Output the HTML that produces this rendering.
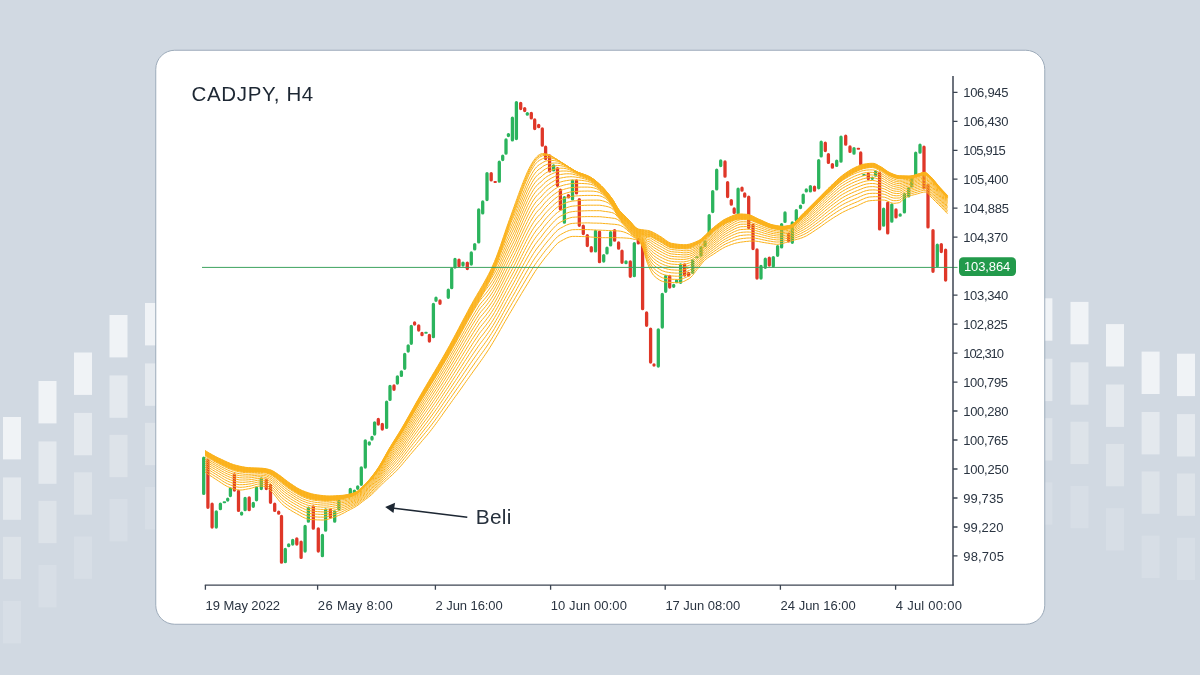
<!DOCTYPE html>
<html><head><meta charset="utf-8"><title>CADJPY H4</title>
<style>
html,body{margin:0;padding:0;}
body{width:1200px;height:675px;overflow:hidden;background:#d1d9e2;font-family:"Liberation Sans",sans-serif;}
svg{display:block;position:absolute;left:0;top:0;will-change:transform;}
text{font-family:"Liberation Sans",sans-serif;fill:#2a3441;}
.yl{font-size:13px;letter-spacing:-0.35px;}
.xl{font-size:13px;letter-spacing:-0.1px;}
.ttl{font-size:20.5px;letter-spacing:0.35px;fill:#1d2733;}
.beli{font-size:20.8px;fill:#26303c;}
.pl{font-size:13px;letter-spacing:-0.35px;fill:#fff;}
</style></head><body>
<svg width="1200" height="675" viewBox="0 0 1200 675">
<rect width="1200" height="675" fill="#d1d9e2"/>
<g><rect x="3" y="417.0" width="18" height="42.4" fill="#fff" fill-opacity="0.68"/><rect x="3" y="477.4" width="18" height="42.4" fill="#fff" fill-opacity="0.42"/><rect x="3" y="536.8" width="18" height="42.4" fill="#fff" fill-opacity="0.26"/><rect x="3" y="601.0" width="18" height="42.4" fill="#fff" fill-opacity="0.14"/><rect x="38.5" y="381.0" width="18" height="42.4" fill="#fff" fill-opacity="0.68"/><rect x="38.5" y="441.4" width="18" height="42.4" fill="#fff" fill-opacity="0.42"/><rect x="38.5" y="500.8" width="18" height="42.4" fill="#fff" fill-opacity="0.26"/><rect x="38.5" y="565.0" width="18" height="42.4" fill="#fff" fill-opacity="0.14"/><rect x="74" y="352.5" width="18" height="42.4" fill="#fff" fill-opacity="0.68"/><rect x="74" y="412.9" width="18" height="42.4" fill="#fff" fill-opacity="0.42"/><rect x="74" y="472.3" width="18" height="42.4" fill="#fff" fill-opacity="0.26"/><rect x="74" y="536.5" width="18" height="42.4" fill="#fff" fill-opacity="0.14"/><rect x="109.5" y="315.0" width="18" height="42.4" fill="#fff" fill-opacity="0.68"/><rect x="109.5" y="375.4" width="18" height="42.4" fill="#fff" fill-opacity="0.42"/><rect x="109.5" y="434.8" width="18" height="42.4" fill="#fff" fill-opacity="0.26"/><rect x="109.5" y="499.0" width="18" height="42.4" fill="#fff" fill-opacity="0.14"/><rect x="145" y="303.0" width="18" height="42.4" fill="#fff" fill-opacity="0.68"/><rect x="145" y="363.4" width="18" height="42.4" fill="#fff" fill-opacity="0.42"/><rect x="145" y="422.8" width="18" height="42.4" fill="#fff" fill-opacity="0.26"/><rect x="145" y="487.0" width="18" height="42.4" fill="#fff" fill-opacity="0.14"/><rect x="1034.4" y="298.3" width="18" height="42.4" fill="#fff" fill-opacity="0.68"/><rect x="1034.4" y="358.7" width="18" height="42.4" fill="#fff" fill-opacity="0.42"/><rect x="1034.4" y="418.1" width="18" height="42.4" fill="#fff" fill-opacity="0.26"/><rect x="1034.4" y="482.3" width="18" height="42.4" fill="#fff" fill-opacity="0.14"/><rect x="1070.5" y="301.9" width="18" height="42.4" fill="#fff" fill-opacity="0.68"/><rect x="1070.5" y="362.3" width="18" height="42.4" fill="#fff" fill-opacity="0.42"/><rect x="1070.5" y="421.7" width="18" height="42.4" fill="#fff" fill-opacity="0.26"/><rect x="1070.5" y="485.9" width="18" height="42.4" fill="#fff" fill-opacity="0.14"/><rect x="1106" y="324.1" width="18" height="42.4" fill="#fff" fill-opacity="0.68"/><rect x="1106" y="384.5" width="18" height="42.4" fill="#fff" fill-opacity="0.42"/><rect x="1106" y="443.9" width="18" height="42.4" fill="#fff" fill-opacity="0.26"/><rect x="1106" y="508.1" width="18" height="42.4" fill="#fff" fill-opacity="0.14"/><rect x="1141.6" y="351.6" width="18" height="42.4" fill="#fff" fill-opacity="0.68"/><rect x="1141.6" y="412.0" width="18" height="42.4" fill="#fff" fill-opacity="0.42"/><rect x="1141.6" y="471.4" width="18" height="42.4" fill="#fff" fill-opacity="0.26"/><rect x="1141.6" y="535.6" width="18" height="42.4" fill="#fff" fill-opacity="0.14"/><rect x="1177" y="353.7" width="18" height="42.4" fill="#fff" fill-opacity="0.68"/><rect x="1177" y="414.1" width="18" height="42.4" fill="#fff" fill-opacity="0.42"/><rect x="1177" y="473.5" width="18" height="42.4" fill="#fff" fill-opacity="0.26"/><rect x="1177" y="537.7" width="18" height="42.4" fill="#fff" fill-opacity="0.14"/></g>
<rect x="155.75" y="50.25" width="889" height="574" rx="19" ry="19" fill="#fff" stroke="#9dabba" stroke-width="1"/>
<text x="191.6" y="101" class="ttl" textLength="122" lengthAdjust="spacing">CADJPY, H4</text>
<g><path d="M203.7 458.2V493.4M216.3 511.8V527.0M220.4 504.2V508.7M227.7 499.2V500.0M230.4 488.8V495.5M241.6 513.2V514.0M245.1 498.5V509.7M253.3 503.5V506.3M256.5 487.9V499.8M261.3 478.8V488.6M285.3 549.5V561.7M288.7 544.8V545.7M292.7 540.5V544.0M305.1 526.5V551.0M308.4 508.2V521.2M322.4 535.5V555.7M325.6 509.9V530.2M334.7 511.8V521.2M338.9 501.0V509.0M350.3 489.5V495.7M354.4 491.1V493.7M357.7 486.8V488.3M361.3 467.8V484.3M365.3 440.8V467.0M369.3 442.8V444.0M372.0 437.5V439.0M374.6 422.8V434.0M386.6 402.2V427.4M390.0 386.5V399.4M397.4 376.8V383.0M401.4 371.8V375.4M404.7 354.5V368.3M408.2 345.8V351.0M411.3 326.5V343.3M433.4 304.5V336.7M436.0 298.2V300.3M448.3 290.2V297.3M451.7 269.2V287.7M455.0 259.5V267.0M463.0 263.1V265.0M471.3 252.9V264.0M474.7 244.6V248.9M478.7 209.9V241.9M482.7 201.9V212.9M487.0 173.6V199.6M499.3 162.2V181.2M502.7 156.2V159.5M506.0 139.9V153.2M508.4 134.6V135.5M512.4 118.2V139.9M516.4 102.6V138.6M527.3 113.6V114.2M553.6 165.9V169.9M564.4 197.6V222.2M572.5 181.2V198.9M595.5 231.4V250.9M603.7 255.6V261.0M607.0 248.2V252.9M610.6 232.6V244.9M626.0 261.8V262.7M634.3 243.6V275.7M658.3 329.8V366.0M662.3 294.5V327.0M665.7 276.5V291.3M673.7 285.5V286.3M676.6 280.8V281.7M680.6 264.8V282.3M692.7 260.8V272.3M701.0 247.6V255.0M705.0 241.8V245.4M709.2 215.6V233.9M712.7 191.6V211.6M716.7 170.2V188.9M720.7 160.9V165.6M738.1 189.2V212.9M761.0 266.5V278.0M765.3 259.2V267.3M773.3 257.6V266.0M777.6 246.6V255.3M781.6 224.6V246.9M785.0 212.9V221.4M792.3 222.9V242.3M796.3 210.6V219.9M800.5 206.2V207.6M803.2 195.1V202.5M806.3 190.0V190.9M810.4 186.6V190.9M818.7 160.6V187.8M821.2 142.2V155.9M836.7 161.2V165.4M841.0 137.2V161.2M854.0 148.6V153.2M872.3 178.1V178.3M875.6 171.9V175.2M883.6 209.2V225.2M891.8 204.8V221.2M900.2 215.0V215.2M904.4 194.6V211.9M908.7 188.6V195.9M911.7 177.2V185.9M915.7 153.2V174.6M920.0 145.2V152.2M937.3 245.2V266.0" stroke="#2bb45d" stroke-width="3.3" stroke-linecap="round" fill="none"/>
<path d="M207.9 460.2V507.3M212.1 504.2V527.0M234.4 474.8V490.0M238.5 491.5V510.4M249.2 497.8V509.7M266.3 480.2V488.6M270.5 485.5V502.3M274.7 504.2V510.4M278.7 512.2V513.2M281.5 516.5V562.2M296.8 538.8V544.0M301.1 542.2V557.4M313.3 506.8V528.2M318.3 528.8V551.0M330.4 510.2V517.0M378.3 419.5V424.0M382.3 424.5V429.0M394.0 385.9V389.3M414.6 322.9V324.0M418.7 325.8V330.0M422.0 333.5V334.7M429.4 335.5V341.0M440.0 300.9V303.3M459.0 260.2V265.7M467.3 263.1V268.6M491.2 173.6V179.9M520.7 103.3V108.6M524.7 108.6V110.6M531.3 113.3V117.9M534.7 119.9V128.6M538.7 125.3V126.7M542.3 128.8V145.2M545.6 147.2V158.6M549.6 155.9V170.9M557.5 168.6V185.3M560.4 190.2V208.9M568.4 195.6V196.9M576.5 180.9V192.9M579.3 199.6V225.3M583.3 226.2V233.6M587.3 235.6V245.6M591.3 247.6V250.9M599.5 232.1V261.7M614.6 230.6V240.2M618.6 242.9V248.2M622.0 251.2V262.3M630.3 261.8V276.3M638.3 239.6V242.9M642.6 243.6V308.7M646.6 312.9V325.3M650.6 329.2V362.0M654.0 364.9V365.1M669.7 276.5V287.0M684.6 264.8V275.0M688.6 273.5V275.0M725.0 162.0V176.2M727.6 182.6V196.6M731.3 200.6V204.2M734.2 208.9V212.4M742.0 188.2V190.2M744.7 194.0V196.2M748.7 197.2V227.4M753.0 225.1V248.6M757.0 249.9V278.0M769.3 258.2V265.0M788.7 234.1V240.9M814.5 187.2V190.2M825.3 143.2V150.6M828.4 154.6V162.4M832.4 164.6V167.2M845.7 136.2V144.2M850.0 146.9V151.4M860.7 153.0V163.9M868.3 173.9V178.6M879.6 173.2V228.9M887.7 203.2V232.9M896.0 209.9V216.9M924.0 147.2V187.9M928.0 185.2V226.9M933.0 230.6V271.3M941.3 244.6V251.5M945.6 250.2V280.0" stroke="#df3728" stroke-width="3.3" stroke-linecap="round" fill="none"/>
<path d="M223.7 502.3h1.4M342.0 497.7h1.4M425.3 332.7h1.4M696.3 257.3h1.4M863.3 175.0h1.4" stroke="#2bb45d" stroke-width="2.1" stroke-linecap="round" fill="none"/>
<path d="M345.6 496.3h1.4M494.5 182.0h1.4M857.7 148.7h1.4" stroke="#df3728" stroke-width="2.1" stroke-linecap="round" fill="none"/>
</g>
<g><path d="M205.0 450.5L206.5 451.4L208.0 452.3L209.5 453.2L211.0 454.0L212.5 454.9L214.0 455.7L215.5 456.5L217.0 457.3L218.5 458.0L220.0 458.7L221.5 459.4L223.0 460.1L224.5 460.8L226.0 461.5L227.5 462.2L229.0 462.8L230.5 463.5L232.0 464.0L233.5 464.6L235.0 465.0L236.5 465.4L238.0 465.8L239.5 466.1L241.0 466.5L242.5 466.8L244.0 467.0L245.5 467.3L247.0 467.5L248.5 467.6L250.0 467.7L251.5 467.8L253.0 467.9L254.5 467.9L256.0 468.0L257.5 468.0L259.0 468.1L260.5 468.2L262.0 468.2L263.5 468.4L265.0 468.6L266.5 468.9L268.0 469.2L269.5 469.6L271.0 470.1L272.5 470.7L274.0 471.6L275.5 472.5L277.0 473.5L278.5 474.6L280.0 475.6L281.5 476.7L283.0 477.9L284.5 479.1L286.0 480.3L287.5 481.4L289.0 482.5L290.5 483.5L292.0 484.5L293.5 485.5L295.0 486.5L296.5 487.5L298.0 488.4L299.5 489.2L301.0 490.0L302.5 490.6L304.0 491.2L305.5 491.8L307.0 492.3L308.5 492.8L310.0 493.3L311.5 493.7L313.0 494.1L314.5 494.4L316.0 494.7L317.5 494.9L319.0 495.1L320.5 495.3L322.0 495.5L323.5 495.7L325.0 495.8L326.5 495.9L328.0 496.0L329.5 496.0L331.0 496.0L332.5 495.9L334.0 495.9L335.5 495.8L337.0 495.7L338.5 495.6L340.0 495.5L341.5 495.4L343.0 495.3L344.5 495.1L346.0 494.9L347.5 494.6L349.0 494.2L350.5 493.9L352.0 493.5L353.5 493.0L355.0 492.4L356.5 491.7L358.0 490.8L359.5 489.6L361.0 488.2L362.5 486.8L364.0 485.3L365.5 483.8L367.0 482.2L368.5 480.5L370.0 478.8L371.5 476.9L373.0 475.0L374.5 473.0L376.0 471.0L377.5 468.8L379.0 466.5L380.5 464.1L382.0 461.5L383.5 458.8L385.0 456.1L386.5 453.4L388.0 450.7L389.5 448.1L391.0 445.7L392.5 443.2L394.0 440.8L395.5 438.4L397.0 436.0L398.5 433.6L400.0 431.2L401.5 428.7L403.0 426.1L404.5 423.5L406.0 420.9L407.5 418.2L409.0 415.5L410.5 412.9L412.0 410.2L413.5 407.5L415.0 404.8L416.5 402.1L418.0 399.5L419.5 396.9L421.0 394.3L422.5 391.7L424.0 389.1L425.5 386.6L427.0 384.1L428.5 381.5L430.0 379.0L431.5 376.5L433.0 374.0L434.5 371.5L436.0 369.0L437.5 366.4L439.0 363.9L440.5 361.3L442.0 358.8L443.5 356.2L445.0 353.5L446.5 350.9L448.0 348.2L449.5 345.5L451.0 342.7L452.5 340.0L454.0 337.2L455.5 334.4L457.0 331.5L458.5 328.7L460.0 325.8L461.5 323.0L463.0 320.1L464.5 317.3L466.0 314.5L467.5 311.7L469.0 308.9L470.5 306.1L472.0 303.4L473.5 300.7L475.0 298.1L476.5 295.6L478.0 293.0L479.5 290.5L481.0 287.9L482.5 285.3L484.0 282.7L485.5 280.0L487.0 277.2L488.5 274.4L490.0 271.4L491.5 268.3L493.0 265.0L494.5 261.5L496.0 257.8L497.5 253.9L499.0 249.7L500.5 245.5L502.0 241.1L503.5 236.7L505.0 232.3L506.5 227.9L508.0 223.6L509.5 219.4L511.0 215.2L512.5 211.1L514.0 206.9L515.5 202.7L517.0 198.6L518.5 194.4L520.0 190.4L521.5 186.4L523.0 182.5L524.5 178.8L526.0 175.2L527.5 171.7L529.0 168.6L530.5 165.8L532.0 163.2L533.5 160.8L535.0 158.7L536.5 157.0L538.0 155.6L539.5 154.5L541.0 153.9L542.5 153.6L544.0 153.6L545.5 153.8L547.0 154.1L548.5 154.6L550.0 155.3L551.5 156.1L553.0 157.0L554.5 158.0L556.0 158.9L557.5 159.9L559.0 160.8L560.5 161.8L562.0 162.8L563.5 163.7L565.0 164.7L566.5 165.6L568.0 166.6L569.5 167.5L571.0 168.4L572.5 169.4L574.0 170.3L575.5 171.1L577.0 171.8L578.5 172.5L580.0 173.1L581.5 173.6L583.0 174.1L584.5 174.7L586.0 175.2L587.5 175.8L589.0 176.5L590.5 177.3L592.0 178.2L593.5 179.2L595.0 180.3L596.5 181.6L598.0 182.8L599.5 184.2L601.0 185.6L602.5 187.1L604.0 188.7L605.5 190.4L607.0 192.1L608.5 194.0L610.0 195.9L611.5 197.9L613.0 200.0L614.5 202.5L616.0 205.2L617.5 207.8L619.0 209.9L620.5 211.7L622.0 213.3L623.5 214.8L625.0 216.2L626.5 217.6L628.0 219.0L629.5 220.5L631.0 222.2L632.5 224.0L634.0 225.7L635.5 227.3L637.0 228.4L638.5 229.1L640.0 229.4L641.5 229.6L643.0 229.8L644.5 230.0L646.0 230.2L647.5 230.4L649.0 230.7L650.5 231.2L652.0 231.8L653.5 232.5L655.0 233.3L656.5 234.2L658.0 235.0L659.5 235.9L661.0 236.8L662.5 237.8L664.0 238.9L665.5 240.0L667.0 241.1L668.5 242.0L670.0 242.8L671.5 243.3L673.0 243.5L674.5 243.8L676.0 244.0L677.5 244.2L679.0 244.4L680.5 244.5L682.0 244.6L683.5 244.7L685.0 244.7L686.5 244.6L688.0 244.4L689.5 244.1L691.0 243.7L692.5 243.1L694.0 242.6L695.5 241.9L697.0 241.3L698.5 240.6L700.0 239.8L701.5 238.6L703.0 237.3L704.5 235.9L706.0 234.4L707.5 232.9L709.0 231.4L710.5 230.0L712.0 228.8L713.5 227.6L715.0 226.3L716.5 225.1L718.0 223.9L719.5 222.8L721.0 221.7L722.5 220.6L724.0 219.7L725.5 218.9L727.0 218.2L728.5 217.5L730.0 216.8L731.5 216.2L733.0 215.5L734.5 215.0L736.0 214.6L737.5 214.2L739.0 214.0L740.5 214.0L742.0 214.0L743.5 214.1L745.0 214.2L746.5 214.3L748.0 214.5L749.5 214.9L751.0 215.4L752.5 216.0L754.0 216.8L755.5 217.5L757.0 218.3L758.5 219.0L760.0 219.7L761.5 220.3L763.0 221.0L764.5 221.7L766.0 222.4L767.5 223.1L769.0 223.7L770.5 224.2L772.0 224.7L773.5 225.0L775.0 225.3L776.5 225.6L778.0 225.9L779.5 226.1L781.0 226.2L782.5 226.3L784.0 226.3L785.5 226.1L787.0 225.9L788.5 225.6L790.0 225.3L791.5 224.8L793.0 223.8L794.5 222.6L796.0 221.2L797.5 219.6L799.0 217.9L800.5 216.2L802.0 214.6L803.5 213.1L805.0 211.7L806.5 210.2L808.0 208.7L809.5 207.2L811.0 205.7L812.5 204.2L814.0 202.7L815.5 201.2L817.0 199.7L818.5 198.2L820.0 196.7L821.5 195.2L823.0 193.6L824.5 192.1L826.0 190.6L827.5 189.1L829.0 187.7L830.5 186.2L832.0 184.8L833.5 183.3L835.0 181.9L836.5 180.5L838.0 179.1L839.5 177.7L841.0 176.5L842.5 175.3L844.0 174.2L845.5 173.1L847.0 172.1L848.5 171.1L850.0 170.2L851.5 169.3L853.0 168.5L854.5 167.7L856.0 167.0L857.5 166.4L859.0 165.7L860.5 165.1L862.0 164.6L863.5 164.2L865.0 164.0L866.5 163.8L868.0 163.6L869.5 163.4L871.0 163.3L872.5 163.3L874.0 163.4L875.5 163.9L877.0 164.6L878.5 165.5L880.0 166.3L881.5 167.1L883.0 168.1L884.5 169.2L886.0 170.3L887.5 171.3L889.0 172.2L890.5 172.9L892.0 173.6L893.5 174.2L895.0 174.8L896.5 175.2L898.0 175.6L899.5 175.7L901.0 175.8L902.5 175.8L904.0 175.9L905.5 175.9L907.0 176.0L908.5 176.0L910.0 176.0L911.5 175.9L913.0 175.5L914.5 175.1L916.0 174.6L917.5 174.1L919.0 173.7L920.5 173.2L922.0 172.7L923.5 172.4L925.0 172.3L926.5 172.9L928.0 174.2L929.5 175.6L931.0 176.9L932.5 178.5L934.0 180.3L935.5 182.1L937.0 184.0L938.5 185.8L940.0 187.5L941.5 189.1L943.0 190.7L944.5 192.3L946.0 193.9L947.5 195.5M205.0 450.8L206.5 451.8L208.0 452.7L209.5 453.5L211.0 454.4L212.5 455.2L214.0 456.0L215.5 456.8L217.0 457.6L218.5 458.4L220.0 459.1L221.5 459.8L223.0 460.5L224.5 461.2L226.0 461.9L227.5 462.6L229.0 463.2L230.5 463.9L232.0 464.4L233.5 465.0L235.0 465.4L236.5 465.8L238.0 466.2L239.5 466.5L241.0 466.8L242.5 467.1L244.0 467.4L245.5 467.6L247.0 467.8L248.5 468.0L250.0 468.1L251.5 468.1L253.0 468.2L254.5 468.2L256.0 468.3L257.5 468.3L259.0 468.4L260.5 468.4L262.0 468.5L263.5 468.7L265.0 468.9L266.5 469.2L268.0 469.5L269.5 469.9L271.0 470.4L272.5 471.1L274.0 471.9L275.5 472.9L277.0 473.9L278.5 475.0L280.0 476.0L281.5 477.1L283.0 478.3L284.5 479.5L286.0 480.7L287.5 481.8L289.0 482.9L290.5 483.9L292.0 484.9L293.5 485.9L295.0 486.9L296.5 487.9L298.0 488.8L299.5 489.6L301.0 490.3L302.5 491.0L304.0 491.6L305.5 492.2L307.0 492.7L308.5 493.2L310.0 493.7L311.5 494.1L313.0 494.5L314.5 494.8L316.0 495.1L317.5 495.3L319.0 495.5L320.5 495.7L322.0 495.9L323.5 496.0L325.0 496.2L326.5 496.3L328.0 496.3L329.5 496.3L331.0 496.3L332.5 496.3L334.0 496.2L335.5 496.1L337.0 496.0L338.5 495.9L340.0 495.8L341.5 495.7L343.0 495.5L344.5 495.3L346.0 495.1L347.5 494.8L349.0 494.5L350.5 494.1L352.0 493.7L353.5 493.2L355.0 492.6L356.5 491.9L358.0 491.0L359.5 489.8L361.0 488.4L362.5 487.0L364.0 485.5L365.5 484.0L367.0 482.4L368.5 480.7L370.0 479.0L371.5 477.1L373.0 475.2L374.5 473.3L376.0 471.2L377.5 469.1L379.0 466.8L380.5 464.3L382.0 461.8L383.5 459.1L385.0 456.4L386.5 453.7L388.0 451.1L389.5 448.5L391.0 446.0L392.5 443.6L394.0 441.2L395.5 438.9L397.0 436.5L398.5 434.1L400.0 431.6L401.5 429.1L403.0 426.6L404.5 424.0L406.0 421.4L407.5 418.7L409.0 416.1L410.5 413.4L412.0 410.7L413.5 408.1L415.0 405.4L416.5 402.7L418.0 400.1L419.5 397.5L421.0 394.9L422.5 392.3L424.0 389.8L425.5 387.3L427.0 384.8L428.5 382.2L430.0 379.7L431.5 377.2L433.0 374.7L434.5 372.2L436.0 369.7L437.5 367.2L439.0 364.7L440.5 362.1L442.0 359.5L443.5 356.9L445.0 354.3L446.5 351.7L448.0 349.0L449.5 346.3L451.0 343.6L452.5 340.8L454.0 338.0L455.5 335.2L457.0 332.4L458.5 329.6L460.0 326.7L461.5 323.9L463.0 321.1L464.5 318.2L466.0 315.4L467.5 312.6L469.0 309.8L470.5 307.1L472.0 304.4L473.5 301.7L475.0 299.1L476.5 296.6L478.0 294.1L479.5 291.5L481.0 289.0L482.5 286.4L484.0 283.8L485.5 281.1L487.0 278.3L488.5 275.5L490.0 272.5L491.5 269.4L493.0 266.2L494.5 262.7L496.0 259.0L497.5 255.1L499.0 251.1L500.5 246.9L502.0 242.6L503.5 238.2L505.0 233.9L506.5 229.5L508.0 225.3L509.5 221.1L511.0 217.1L512.5 213.0L514.0 209.0L515.5 204.9L517.0 200.7L518.5 196.6L520.0 192.5L521.5 188.5L523.0 184.7L524.5 180.9L526.0 177.2L527.5 173.6L529.0 170.4L530.5 167.4L532.0 164.7L533.5 162.3L535.0 160.1L536.5 158.4L538.0 156.9L539.5 155.8L541.0 155.1L542.5 154.6L544.0 154.4L545.5 154.5L547.0 154.7L548.5 155.1L550.0 155.6L551.5 156.2L553.0 157.0L554.5 158.0L556.0 158.9L557.5 159.9L559.0 160.8L560.5 161.8L562.0 162.8L563.5 163.7L565.0 164.7L566.5 165.6L568.0 166.6L569.5 167.5L571.0 168.4L572.5 169.4L574.0 170.3L575.5 171.1L577.0 171.8L578.5 172.5L580.0 173.1L581.5 173.6L583.0 174.1L584.5 174.7L586.0 175.2L587.5 175.8L589.0 176.5L590.5 177.3L592.0 178.2L593.5 179.2L595.0 180.3L596.5 181.6L598.0 182.8L599.5 184.2L601.0 185.6L602.5 187.1L604.0 188.7L605.5 190.4L607.0 192.1L608.5 194.0L610.0 195.9L611.5 197.9L613.0 200.0L614.5 202.5L616.0 205.2L617.5 207.8L619.0 209.9L620.5 211.7L622.0 213.3L623.5 214.8L625.0 216.3L626.5 217.7L628.0 219.2L629.5 220.7L631.0 222.4L632.5 224.3L634.0 226.0L635.5 227.6L637.0 228.7L638.5 229.4L640.0 229.8L641.5 230.1L643.0 230.4L644.5 230.6L646.0 230.9L647.5 231.1L649.0 231.3L650.5 231.7L652.0 232.4L653.5 233.1L655.0 233.9L656.5 234.8L658.0 235.7L659.5 236.5L661.0 237.4L662.5 238.4L664.0 239.5L665.5 240.6L667.0 241.7L668.5 242.6L670.0 243.3L671.5 243.8L673.0 244.0L674.5 244.3L676.0 244.5L677.5 244.7L679.0 244.8L680.5 245.0L682.0 245.1L683.5 245.1L685.0 245.2L686.5 245.1L688.0 244.9L689.5 244.5L691.0 244.1L692.5 243.6L694.0 243.0L695.5 242.4L697.0 241.7L698.5 241.0L700.0 240.1L701.5 239.0L703.0 237.7L704.5 236.3L706.0 234.8L707.5 233.3L709.0 231.8L710.5 230.4L712.0 229.2L713.5 228.0L715.0 226.7L716.5 225.5L718.0 224.3L719.5 223.2L721.0 222.1L722.5 221.0L724.0 220.1L725.5 219.3L727.0 218.6L728.5 217.9L730.0 217.2L731.5 216.6L733.0 215.9L734.5 215.4L736.0 215.0L737.5 214.6L739.0 214.4L740.5 214.4L742.0 214.4L743.5 214.5L745.0 214.6L746.5 214.7L748.0 214.8L749.5 215.2L751.0 215.7L752.5 216.4L754.0 217.1L755.5 217.9L757.0 218.6L758.5 219.4L760.0 220.0L761.5 220.6L763.0 221.3L764.5 222.0L766.0 222.7L767.5 223.3L769.0 224.0L770.5 224.5L772.0 225.0L773.5 225.3L775.0 225.6L776.5 225.9L778.0 226.1L779.5 226.3L781.0 226.5L782.5 226.5L784.0 226.5L785.5 226.3L787.0 226.1L788.5 225.8L790.0 225.5L791.5 225.0L793.0 224.1L794.5 222.9L796.0 221.4L797.5 219.8L799.0 218.2L800.5 216.5L802.0 214.9L803.5 213.4L805.0 212.0L806.5 210.6L808.0 209.1L809.5 207.6L811.0 206.1L812.5 204.6L814.0 203.1L815.5 201.6L817.0 200.1L818.5 198.6L820.0 197.1L821.5 195.5L823.0 194.0L824.5 192.5L826.0 191.0L827.5 189.5L829.0 188.1L830.5 186.6L832.0 185.2L833.5 183.7L835.0 182.3L836.5 180.9L838.0 179.5L839.5 178.2L841.0 176.9L842.5 175.7L844.0 174.6L845.5 173.6L847.0 172.6L848.5 171.6L850.0 170.6L851.5 169.7L853.0 168.9L854.5 168.1L856.0 167.4L857.5 166.8L859.0 166.1L860.5 165.6L862.0 165.0L863.5 164.6L865.0 164.4L866.5 164.1L868.0 164.0L869.5 163.8L871.0 163.7L872.5 163.7L874.0 163.8L875.5 164.3L877.0 165.0L878.5 165.8L880.0 166.7L881.5 167.5L883.0 168.4L884.5 169.5L886.0 170.6L887.5 171.6L889.0 172.5L890.5 173.2L892.0 173.9L893.5 174.5L895.0 175.1L896.5 175.5L898.0 175.9L899.5 176.0L901.0 176.1L902.5 176.1L904.0 176.2L905.5 176.2L907.0 176.2L908.5 176.2L910.0 176.2L911.5 176.1L913.0 175.8L914.5 175.3L916.0 174.8L917.5 174.4L919.0 174.0L920.5 173.5L922.0 173.0L923.5 172.6L925.0 172.6L926.5 173.2L928.0 174.4L929.5 175.8L931.0 177.2L932.5 178.8L934.0 180.5L935.5 182.4L937.0 184.3L938.5 186.1L940.0 187.7L941.5 189.4L943.0 191.0L944.5 192.6L946.0 194.2L947.5 195.8M205.0 451.2L206.5 452.1L208.0 453.0L209.5 453.9L211.0 454.7L212.5 455.6L214.0 456.4L215.5 457.2L217.0 458.0L218.5 458.7L220.0 459.5L221.5 460.2L223.0 460.9L224.5 461.6L226.0 462.3L227.5 463.0L229.0 463.6L230.5 464.2L232.0 464.8L233.5 465.3L235.0 465.8L236.5 466.2L238.0 466.5L239.5 466.9L241.0 467.2L242.5 467.5L244.0 467.7L245.5 468.0L247.0 468.2L248.5 468.3L250.0 468.4L251.5 468.5L253.0 468.5L254.5 468.5L256.0 468.6L257.5 468.6L259.0 468.6L260.5 468.7L262.0 468.8L263.5 468.9L265.0 469.1L266.5 469.4L268.0 469.8L269.5 470.3L271.0 470.7L272.5 471.4L274.0 472.3L275.5 473.3L277.0 474.3L278.5 475.3L280.0 476.4L281.5 477.5L283.0 478.7L284.5 479.9L286.0 481.1L287.5 482.2L289.0 483.3L290.5 484.3L292.0 485.3L293.5 486.3L295.0 487.3L296.5 488.3L298.0 489.2L299.5 490.0L301.0 490.7L302.5 491.4L304.0 492.0L305.5 492.6L307.0 493.1L308.5 493.6L310.0 494.1L311.5 494.5L313.0 494.9L314.5 495.2L316.0 495.4L317.5 495.7L319.0 495.9L320.5 496.1L322.0 496.2L323.5 496.4L325.0 496.5L326.5 496.6L328.0 496.7L329.5 496.7L331.0 496.6L332.5 496.6L334.0 496.5L335.5 496.4L337.0 496.3L338.5 496.2L340.0 496.1L341.5 495.9L343.0 495.8L344.5 495.6L346.0 495.3L347.5 495.0L349.0 494.7L350.5 494.3L352.0 493.9L353.5 493.4L355.0 492.8L356.5 492.1L358.0 491.2L359.5 489.9L361.0 488.6L362.5 487.1L364.0 485.7L365.5 484.2L367.0 482.6L368.5 480.9L370.0 479.2L371.5 477.4L373.0 475.5L374.5 473.5L376.0 471.5L377.5 469.3L379.0 467.1L380.5 464.6L382.0 462.1L383.5 459.4L385.0 456.7L386.5 454.1L388.0 451.4L389.5 448.9L391.0 446.4L392.5 444.0L394.0 441.7L395.5 439.3L397.0 436.9L398.5 434.5L400.0 432.1L401.5 429.6L403.0 427.1L404.5 424.5L406.0 421.9L407.5 419.3L409.0 416.6L410.5 414.0L412.0 411.3L413.5 408.6L415.0 406.0L416.5 403.4L418.0 400.7L419.5 398.1L421.0 395.6L422.5 393.0L424.0 390.5L425.5 388.0L427.0 385.4L428.5 382.9L430.0 380.5L431.5 378.0L433.0 375.5L434.5 373.0L436.0 370.5L437.5 367.9L439.0 365.4L440.5 362.9L442.0 360.3L443.5 357.7L445.0 355.1L446.5 352.5L448.0 349.8L449.5 347.1L451.0 344.4L452.5 341.6L454.0 338.9L455.5 336.1L457.0 333.3L458.5 330.4L460.0 327.6L461.5 324.8L463.0 322.0L464.5 319.2L466.0 316.3L467.5 313.5L469.0 310.8L470.5 308.0L472.0 305.3L473.5 302.7L475.0 300.1L476.5 297.6L478.0 295.1L479.5 292.5L481.0 290.0L482.5 287.4L484.0 284.8L485.5 282.2L487.0 279.4L488.5 276.6L490.0 273.6L491.5 270.6L493.0 267.4L494.5 264.0L496.0 260.3L497.5 256.4L499.0 252.4L500.5 248.2L502.0 244.0L503.5 239.7L505.0 235.4L506.5 231.2L508.0 227.0L509.5 222.9L511.0 218.9L512.5 215.0L514.0 211.0L515.5 207.0L517.0 202.8L518.5 198.7L520.0 194.7L521.5 190.7L523.0 186.8L524.5 183.0L526.0 179.2L527.5 175.6L529.0 172.3L530.5 169.3L532.0 166.5L533.5 164.0L535.0 161.8L536.5 160.0L538.0 158.4L539.5 157.3L541.0 156.5L542.5 155.8L544.0 155.4L545.5 155.3L547.0 155.4L548.5 155.7L550.0 156.1L551.5 156.7L553.0 157.3L554.5 158.0L556.0 158.9L557.5 159.9L559.0 160.8L560.5 161.8L562.0 162.8L563.5 163.7L565.0 164.7L566.5 165.6L568.0 166.6L569.5 167.5L571.0 168.4L572.5 169.4L574.0 170.3L575.5 171.1L577.0 171.8L578.5 172.5L580.0 173.1L581.5 173.6L583.0 174.1L584.5 174.7L586.0 175.2L587.5 175.8L589.0 176.5L590.5 177.3L592.0 178.2L593.5 179.2L595.0 180.4L596.5 181.6L598.0 182.9L599.5 184.3L601.0 185.7L602.5 187.2L604.0 188.8L605.5 190.5L607.0 192.2L608.5 194.1L610.0 196.0L611.5 198.0L613.0 200.1L614.5 202.6L616.0 205.3L617.5 208.0L619.0 210.0L620.5 211.8L622.0 213.5L623.5 215.0L625.0 216.5L626.5 217.9L628.0 219.4L629.5 221.0L631.0 222.7L632.5 224.6L634.0 226.4L635.5 227.9L637.0 229.1L638.5 229.8L640.0 230.2L641.5 230.6L643.0 230.9L644.5 231.2L646.0 231.5L647.5 231.8L649.0 232.0L650.5 232.3L652.0 233.0L653.5 233.8L655.0 234.6L656.5 235.4L658.0 236.3L659.5 237.1L661.0 238.0L662.5 239.0L664.0 240.1L665.5 241.2L667.0 242.2L668.5 243.1L670.0 243.8L671.5 244.3L673.0 244.5L674.5 244.7L676.0 245.0L677.5 245.1L679.0 245.3L680.5 245.4L682.0 245.5L683.5 245.6L685.0 245.6L686.5 245.5L688.0 245.3L689.5 245.0L691.0 244.6L692.5 244.0L694.0 243.4L695.5 242.8L697.0 242.1L698.5 241.4L700.0 240.5L701.5 239.4L703.0 238.1L704.5 236.7L706.0 235.1L707.5 233.6L709.0 232.2L710.5 230.8L712.0 229.5L713.5 228.3L715.0 227.1L716.5 225.9L718.0 224.7L719.5 223.6L721.0 222.5L722.5 221.4L724.0 220.5L725.5 219.7L727.0 219.0L728.5 218.3L730.0 217.6L731.5 217.0L733.0 216.3L734.5 215.8L736.0 215.4L737.5 215.0L739.0 214.8L740.5 214.8L742.0 214.8L743.5 214.9L745.0 214.9L746.5 215.0L748.0 215.2L749.5 215.6L751.0 216.1L752.5 216.7L754.0 217.4L755.5 218.2L757.0 218.9L758.5 219.7L760.0 220.3L761.5 220.9L763.0 221.6L764.5 222.3L766.0 223.0L767.5 223.6L769.0 224.2L770.5 224.8L772.0 225.2L773.5 225.6L775.0 225.9L776.5 226.1L778.0 226.4L779.5 226.6L781.0 226.7L782.5 226.8L784.0 226.7L785.5 226.6L787.0 226.3L788.5 226.1L790.0 225.7L791.5 225.2L793.0 224.3L794.5 223.1L796.0 221.7L797.5 220.1L799.0 218.5L800.5 216.8L802.0 215.2L803.5 213.8L805.0 212.3L806.5 210.9L808.0 209.4L809.5 207.9L811.0 206.5L812.5 204.9L814.0 203.4L815.5 201.9L817.0 200.5L818.5 199.0L820.0 197.4L821.5 195.9L823.0 194.4L824.5 192.9L826.0 191.4L827.5 189.9L829.0 188.5L830.5 187.0L832.0 185.6L833.5 184.2L835.0 182.7L836.5 181.3L838.0 179.9L839.5 178.6L841.0 177.3L842.5 176.1L844.0 175.1L845.5 174.0L847.0 173.0L848.5 172.0L850.0 171.1L851.5 170.2L853.0 169.3L854.5 168.6L856.0 167.8L857.5 167.2L859.0 166.6L860.5 166.0L862.0 165.4L863.5 165.0L865.0 164.7L866.5 164.5L868.0 164.3L869.5 164.2L871.0 164.1L872.5 164.1L874.0 164.2L875.5 164.7L877.0 165.4L878.5 166.2L880.0 167.0L881.5 167.8L883.0 168.8L884.5 169.8L886.0 170.9L887.5 171.9L889.0 172.8L890.5 173.6L892.0 174.2L893.5 174.8L895.0 175.4L896.5 175.8L898.0 176.2L899.5 176.3L901.0 176.4L902.5 176.4L904.0 176.4L905.5 176.4L907.0 176.5L908.5 176.5L910.0 176.5L911.5 176.3L913.0 176.0L914.5 175.6L916.0 175.1L917.5 174.6L919.0 174.2L920.5 173.7L922.0 173.2L923.5 172.9L925.0 172.8L926.5 173.4L928.0 174.6L929.5 176.1L931.0 177.4L932.5 179.0L934.0 180.8L935.5 182.6L937.0 184.5L938.5 186.3L940.0 188.0L941.5 189.7L943.0 191.3L944.5 192.9L946.0 194.5L947.5 196.0M205.0 451.5L206.5 452.5L208.0 453.4L209.5 454.2L211.0 455.1L212.5 455.9L214.0 456.8L215.5 457.6L217.0 458.3L218.5 459.1L220.0 459.9L221.5 460.6L223.0 461.3L224.5 462.0L226.0 462.7L227.5 463.3L229.0 464.0L230.5 464.6L232.0 465.2L233.5 465.7L235.0 466.2L236.5 466.6L238.0 466.9L239.5 467.3L241.0 467.6L242.5 467.9L244.0 468.1L245.5 468.3L247.0 468.5L248.5 468.6L250.0 468.7L251.5 468.8L253.0 468.8L254.5 468.8L256.0 468.9L257.5 468.9L259.0 468.9L260.5 469.0L262.0 469.1L263.5 469.2L265.0 469.4L266.5 469.7L268.0 470.1L269.5 470.6L271.0 471.1L272.5 471.7L274.0 472.6L275.5 473.6L277.0 474.7L278.5 475.7L280.0 476.8L281.5 477.9L283.0 479.1L284.5 480.3L286.0 481.5L287.5 482.6L289.0 483.7L290.5 484.7L292.0 485.7L293.5 486.7L295.0 487.7L296.5 488.6L298.0 489.5L299.5 490.4L301.0 491.1L302.5 491.8L304.0 492.4L305.5 493.0L307.0 493.5L308.5 494.0L310.0 494.5L311.5 494.9L313.0 495.3L314.5 495.6L316.0 495.8L317.5 496.0L319.0 496.2L320.5 496.4L322.0 496.6L323.5 496.8L325.0 496.9L326.5 497.0L328.0 497.0L329.5 497.0L331.0 497.0L332.5 496.9L334.0 496.8L335.5 496.7L337.0 496.6L338.5 496.5L340.0 496.4L341.5 496.2L343.0 496.1L344.5 495.8L346.0 495.6L347.5 495.3L349.0 494.9L350.5 494.5L352.0 494.1L353.5 493.6L355.0 493.0L356.5 492.3L358.0 491.3L359.5 490.1L361.0 488.8L362.5 487.3L364.0 485.9L365.5 484.4L367.0 482.8L368.5 481.1L370.0 479.4L371.5 477.6L373.0 475.7L374.5 473.7L376.0 471.7L377.5 469.6L379.0 467.3L380.5 464.9L382.0 462.3L383.5 459.7L385.0 457.1L386.5 454.4L388.0 451.8L389.5 449.3L391.0 446.8L392.5 444.4L394.0 442.1L395.5 439.7L397.0 437.4L398.5 435.0L400.0 432.6L401.5 430.1L403.0 427.6L404.5 425.0L406.0 422.4L407.5 419.8L409.0 417.2L410.5 414.5L412.0 411.9L413.5 409.2L415.0 406.6L416.5 404.0L418.0 401.3L419.5 398.8L421.0 396.2L422.5 393.7L424.0 391.1L425.5 388.6L427.0 386.1L428.5 383.6L430.0 381.2L431.5 378.7L433.0 376.2L434.5 373.7L436.0 371.2L437.5 368.7L439.0 366.2L440.5 363.6L442.0 361.1L443.5 358.5L445.0 355.9L446.5 353.3L448.0 350.6L449.5 347.9L451.0 345.2L452.5 342.5L454.0 339.7L455.5 336.9L457.0 334.1L458.5 331.3L460.0 328.5L461.5 325.7L463.0 322.9L464.5 320.1L466.0 317.3L467.5 314.5L469.0 311.7L470.5 309.0L472.0 306.3L473.5 303.7L475.0 301.1L476.5 298.6L478.0 296.1L479.5 293.6L481.0 291.0L482.5 288.5L484.0 285.9L485.5 283.3L487.0 280.5L488.5 277.7L490.0 274.8L491.5 271.7L493.0 268.6L494.5 265.2L496.0 261.5L497.5 257.7L499.0 253.7L500.5 249.6L502.0 245.4L503.5 241.2L505.0 237.0L506.5 232.8L508.0 228.7L509.5 224.7L511.0 220.8L512.5 216.9L514.0 213.1L515.5 209.1L517.0 205.0L518.5 200.9L520.0 196.8L521.5 192.8L523.0 188.9L524.5 185.2L526.0 181.5L527.5 178.0L529.0 174.7L530.5 171.8L532.0 169.1L533.5 166.7L535.0 164.5L536.5 162.8L538.0 161.3L539.5 160.3L541.0 159.5L542.5 158.7L544.0 158.1L545.5 157.8L547.0 157.6L548.5 157.7L550.0 157.8L551.5 158.1L553.0 158.5L554.5 159.0L556.0 159.6L557.5 160.2L559.0 161.0L560.5 161.8L562.0 162.8L563.5 163.7L565.0 164.7L566.5 165.6L568.0 166.6L569.5 167.5L571.0 168.4L572.5 169.4L574.0 170.3L575.5 171.1L577.0 171.9L578.5 172.6L580.0 173.2L581.5 173.8L583.0 174.3L584.5 174.9L586.0 175.5L587.5 176.1L589.0 176.8L590.5 177.7L592.0 178.6L593.5 179.7L595.0 180.8L596.5 182.1L598.0 183.4L599.5 184.8L601.0 186.2L602.5 187.7L604.0 189.3L605.5 191.0L607.0 192.7L608.5 194.6L610.0 196.5L611.5 198.5L613.0 200.6L614.5 203.1L616.0 205.8L617.5 208.5L619.0 210.5L620.5 212.3L622.0 214.0L623.5 215.5L625.0 217.0L626.5 218.5L628.0 219.9L629.5 221.5L631.0 223.3L632.5 225.1L634.0 226.8L635.5 228.4L637.0 229.6L638.5 230.3L640.0 230.7L641.5 231.1L643.0 231.5L644.5 231.9L646.0 232.2L647.5 232.4L649.0 232.6L650.5 232.9L652.0 233.6L653.5 234.4L655.0 235.2L656.5 236.1L658.0 236.9L659.5 237.8L661.0 238.6L662.5 239.6L664.0 240.7L665.5 241.7L667.0 242.8L668.5 243.6L670.0 244.3L671.5 244.8L673.0 245.0L674.5 245.2L676.0 245.4L677.5 245.6L679.0 245.8L680.5 245.9L682.0 246.0L683.5 246.0L685.0 246.1L686.5 246.0L688.0 245.8L689.5 245.5L691.0 245.0L692.5 244.5L694.0 243.9L695.5 243.2L697.0 242.5L698.5 241.8L700.0 240.9L701.5 239.8L703.0 238.5L704.5 237.0L706.0 235.5L707.5 234.0L709.0 232.5L710.5 231.2L712.0 229.9L713.5 228.7L715.0 227.5L716.5 226.3L718.0 225.1L719.5 224.0L721.0 222.9L722.5 221.8L724.0 220.9L725.5 220.1L727.0 219.4L728.5 218.7L730.0 218.0L731.5 217.3L733.0 216.7L734.5 216.2L736.0 215.7L737.5 215.4L739.0 215.2L740.5 215.2L742.0 215.2L743.5 215.2L745.0 215.3L746.5 215.4L748.0 215.6L749.5 215.9L751.0 216.5L752.5 217.1L754.0 217.8L755.5 218.5L757.0 219.3L758.5 220.0L760.0 220.6L761.5 221.2L763.0 221.9L764.5 222.6L766.0 223.2L767.5 223.9L769.0 224.5L770.5 225.0L772.0 225.5L773.5 225.8L775.0 226.1L776.5 226.4L778.0 226.6L779.5 226.8L781.0 227.0L782.5 227.0L784.0 226.9L785.5 226.8L787.0 226.6L788.5 226.3L790.0 226.0L791.5 225.4L793.0 224.5L794.5 223.3L796.0 221.9L797.5 220.4L799.0 218.7L800.5 217.1L802.0 215.5L803.5 214.1L805.0 212.7L806.5 211.2L808.0 209.8L809.5 208.3L811.0 206.8L812.5 205.3L814.0 203.8L815.5 202.3L817.0 200.8L818.5 199.3L820.0 197.8L821.5 196.3L823.0 194.8L824.5 193.3L826.0 191.8L827.5 190.3L829.0 188.9L830.5 187.4L832.0 186.0L833.5 184.6L835.0 183.1L836.5 181.7L838.0 180.3L839.5 179.0L841.0 177.7L842.5 176.6L844.0 175.5L845.5 174.4L847.0 173.4L848.5 172.4L850.0 171.5L851.5 170.6L853.0 169.8L854.5 169.0L856.0 168.3L857.5 167.6L859.0 167.0L860.5 166.4L862.0 165.8L863.5 165.4L865.0 165.1L866.5 164.9L868.0 164.7L869.5 164.6L871.0 164.5L872.5 164.4L874.0 164.6L875.5 165.0L877.0 165.7L878.5 166.5L880.0 167.4L881.5 168.2L883.0 169.1L884.5 170.1L886.0 171.2L887.5 172.3L889.0 173.2L890.5 173.9L892.0 174.5L893.5 175.1L895.0 175.7L896.5 176.1L898.0 176.5L899.5 176.6L901.0 176.6L902.5 176.7L904.0 176.7L905.5 176.7L907.0 176.7L908.5 176.7L910.0 176.7L911.5 176.6L913.0 176.2L914.5 175.8L916.0 175.3L917.5 174.8L919.0 174.4L920.5 173.9L922.0 173.5L923.5 173.1L925.0 173.0L926.5 173.7L928.0 174.9L929.5 176.3L931.0 177.7L932.5 179.3L934.0 181.1L935.5 182.9L937.0 184.8L938.5 186.6L940.0 188.3L941.5 189.9L943.0 191.6L944.5 193.2L946.0 194.8L947.5 196.3M205.0 451.9L206.5 452.8L208.0 453.7L209.5 454.6L211.0 455.5L212.5 456.3L214.0 457.1L215.5 457.9L217.0 458.7L218.5 459.5L220.0 460.2L221.5 460.9L223.0 461.7L224.5 462.4L226.0 463.1L227.5 463.7L229.0 464.4L230.5 465.0L232.0 465.6L233.5 466.1L235.0 466.6L236.5 466.9L238.0 467.3L239.5 467.6L241.0 467.9L242.5 468.2L244.0 468.5L245.5 468.7L247.0 468.8L248.5 469.0L250.0 469.0L251.5 469.1L253.0 469.1L254.5 469.1L256.0 469.2L257.5 469.2L259.0 469.2L260.5 469.3L262.0 469.4L263.5 469.5L265.0 469.7L266.5 470.0L268.0 470.4L269.5 470.9L271.0 471.4L272.5 472.1L274.0 473.0L275.5 474.0L277.0 475.1L278.5 476.1L280.0 477.2L281.5 478.3L283.0 479.5L284.5 480.7L286.0 481.9L287.5 483.1L289.0 484.1L290.5 485.1L292.0 486.1L293.5 487.1L295.0 488.1L296.5 489.0L298.0 489.9L299.5 490.8L301.0 491.5L302.5 492.2L304.0 492.8L305.5 493.4L307.0 493.9L308.5 494.4L310.0 494.9L311.5 495.3L313.0 495.7L314.5 496.0L316.0 496.2L317.5 496.4L319.0 496.6L320.5 496.8L322.0 497.0L323.5 497.1L325.0 497.2L326.5 497.3L328.0 497.4L329.5 497.3L331.0 497.3L332.5 497.2L334.0 497.1L335.5 497.0L337.0 496.9L338.5 496.8L340.0 496.7L341.5 496.5L343.0 496.3L344.5 496.1L346.0 495.8L347.5 495.5L349.0 495.1L350.5 494.7L352.0 494.3L353.5 493.8L355.0 493.2L356.5 492.5L358.0 491.5L359.5 490.3L361.0 489.0L362.5 487.5L364.0 486.1L365.5 484.6L367.0 483.0L368.5 481.3L370.0 479.6L371.5 477.8L373.0 475.9L374.5 474.0L376.0 472.0L377.5 469.9L379.0 467.6L380.5 465.2L382.0 462.6L383.5 460.0L385.0 457.4L386.5 454.8L388.0 452.2L389.5 449.6L391.0 447.2L392.5 444.8L394.0 442.5L395.5 440.2L397.0 437.8L398.5 435.5L400.0 433.0L401.5 430.6L403.0 428.1L404.5 425.5L406.0 422.9L407.5 420.3L409.0 417.7L410.5 415.1L412.0 412.4L413.5 409.8L415.0 407.2L416.5 404.6L418.0 402.0L419.5 399.4L421.0 396.8L422.5 394.3L424.0 391.8L425.5 389.3L427.0 386.8L428.5 384.3L430.0 381.9L431.5 379.4L433.0 376.9L434.5 374.4L436.0 371.9L437.5 369.4L439.0 366.9L440.5 364.4L442.0 361.9L443.5 359.3L445.0 356.7L446.5 354.1L448.0 351.4L449.5 348.7L451.0 346.0L452.5 343.3L454.0 340.6L455.5 337.8L457.0 335.0L458.5 332.2L460.0 329.4L461.5 326.6L463.0 323.8L464.5 321.0L466.0 318.2L467.5 315.4L469.0 312.7L470.5 310.0L472.0 307.3L473.5 304.7L475.0 302.1L476.5 299.6L478.0 297.1L479.5 294.6L481.0 292.1L482.5 289.5L484.0 287.0L485.5 284.3L487.0 281.6L488.5 278.8L490.0 275.9L491.5 272.9L493.0 269.7L494.5 266.4L496.0 262.8L497.5 259.0L499.0 255.1L500.5 251.0L502.0 246.9L503.5 242.7L505.0 238.5L506.5 234.4L508.0 230.4L509.5 226.4L511.0 222.6L512.5 219.3L514.0 216.0L515.5 212.5L517.0 208.5L518.5 204.5L520.0 200.6L521.5 196.8L523.0 193.0L524.5 189.4L526.0 185.7L527.5 182.2L529.0 179.0L530.5 176.1L532.0 173.4L533.5 170.9L535.0 168.8L536.5 167.0L538.0 165.6L539.5 164.5L541.0 163.6L542.5 162.6L544.0 161.8L545.5 161.2L547.0 160.8L548.5 160.6L550.0 160.4L551.5 160.4L553.0 160.5L554.5 160.6L556.0 160.9L557.5 161.4L559.0 161.9L560.5 162.6L562.0 163.3L563.5 164.1L565.0 165.0L566.5 165.9L568.0 166.8L569.5 167.7L571.0 168.6L572.5 169.6L574.0 170.5L575.5 171.4L577.0 172.2L578.5 172.9L580.0 173.5L581.5 174.1L583.0 174.7L584.5 175.3L586.0 175.9L587.5 176.5L589.0 177.2L590.5 178.1L592.0 179.0L593.5 180.1L595.0 181.3L596.5 182.6L598.0 183.9L599.5 185.3L601.0 186.7L602.5 188.2L604.0 189.8L605.5 191.5L607.0 193.2L608.5 195.1L610.0 197.0L611.5 199.0L613.0 201.1L614.5 203.6L616.0 206.3L617.5 209.0L619.0 211.0L620.5 212.8L622.0 214.5L623.5 216.0L625.0 217.5L626.5 219.0L628.0 220.5L629.5 222.0L631.0 223.8L632.5 225.6L634.0 227.3L635.5 228.8L637.0 230.0L638.5 230.7L640.0 231.2L641.5 231.6L643.0 232.0L644.5 232.5L646.0 232.9L647.5 233.1L649.0 233.2L650.5 233.5L652.0 234.2L653.5 235.0L655.0 235.8L656.5 236.7L658.0 237.6L659.5 238.4L661.0 239.2L662.5 240.2L664.0 241.3L665.5 242.3L667.0 243.3L668.5 244.2L670.0 244.8L671.5 245.3L673.0 245.5L674.5 245.7L676.0 245.9L677.5 246.1L679.0 246.2L680.5 246.3L682.0 246.4L683.5 246.5L685.0 246.5L686.5 246.4L688.0 246.2L689.5 245.9L691.0 245.5L692.5 244.9L694.0 244.3L695.5 243.6L697.0 242.9L698.5 242.2L700.0 241.3L701.5 240.2L703.0 238.8L704.5 237.4L706.0 235.9L707.5 234.4L709.0 232.9L710.5 231.5L712.0 230.3L713.5 229.1L715.0 227.9L716.5 226.7L718.0 225.5L719.5 224.4L721.0 223.3L722.5 222.2L724.0 221.3L725.5 220.5L727.0 219.8L728.5 219.1L730.0 218.4L731.5 217.7L733.0 217.1L734.5 216.6L736.0 216.1L737.5 215.8L739.0 215.6L740.5 215.5L742.0 215.6L743.5 215.6L745.0 215.7L746.5 215.8L748.0 215.9L749.5 216.3L751.0 216.8L752.5 217.4L754.0 218.1L755.5 218.8L757.0 219.6L758.5 220.3L760.0 220.9L761.5 221.5L763.0 222.2L764.5 222.8L766.0 223.5L767.5 224.2L769.0 224.8L770.5 225.3L772.0 225.7L773.5 226.1L775.0 226.4L776.5 226.7L778.0 226.9L779.5 227.1L781.0 227.2L782.5 227.2L784.0 227.2L785.5 227.0L787.0 226.8L788.5 226.5L790.0 226.2L791.5 225.6L793.0 224.7L794.5 223.6L796.0 222.2L797.5 220.6L799.0 219.0L800.5 217.4L802.0 215.8L803.5 214.4L805.0 213.0L806.5 211.6L808.0 210.1L809.5 208.7L811.0 207.2L812.5 205.7L814.0 204.2L815.5 202.7L817.0 201.2L818.5 199.7L820.0 198.2L821.5 196.7L823.0 195.2L824.5 193.7L826.0 192.2L827.5 190.7L829.0 189.3L830.5 187.8L832.0 186.4L833.5 185.0L835.0 183.5L836.5 182.1L838.0 180.7L839.5 179.4L841.0 178.2L842.5 177.0L844.0 175.9L845.5 174.9L847.0 173.8L848.5 172.9L850.0 171.9L851.5 171.0L853.0 170.2L854.5 169.4L856.0 168.7L857.5 168.0L859.0 167.4L860.5 166.8L862.0 166.2L863.5 165.8L865.0 165.5L866.5 165.3L868.0 165.1L869.5 164.9L871.0 164.8L872.5 164.8L874.0 164.9L875.5 165.4L877.0 166.1L878.5 166.9L880.0 167.7L881.5 168.5L883.0 169.4L884.5 170.5L886.0 171.5L887.5 172.6L889.0 173.5L890.5 174.2L892.0 174.8L893.5 175.5L895.0 176.0L896.5 176.5L898.0 176.8L899.5 176.9L901.0 176.9L902.5 176.9L904.0 176.9L905.5 176.9L907.0 176.9L908.5 176.9L910.0 176.9L911.5 176.8L913.0 176.5L914.5 176.0L916.0 175.5L917.5 175.1L919.0 174.7L920.5 174.2L922.0 173.7L923.5 173.4L925.0 173.3L926.5 173.9L928.0 175.1L929.5 176.6L931.0 178.0L932.5 179.6L934.0 181.3L935.5 183.2L937.0 185.1L938.5 186.9L940.0 188.5L941.5 190.2L943.0 191.8L944.5 193.4L946.0 195.0L947.5 196.6M205.0 452.2L206.5 453.2L208.0 454.1L209.5 454.9L211.0 455.8L212.5 456.7L214.0 457.5L215.5 458.3L217.0 459.1L218.5 459.8L220.0 460.6L221.5 461.3L223.0 462.0L224.5 462.7L226.0 463.4L227.5 464.1L229.0 464.8L230.5 465.4L232.0 466.0L233.5 466.5L235.0 466.9L236.5 467.3L238.0 467.7L239.5 468.0L241.0 468.3L242.5 468.6L244.0 468.8L245.5 469.0L247.0 469.2L248.5 469.3L250.0 469.4L251.5 469.4L253.0 469.4L254.5 469.4L256.0 469.4L257.5 469.5L259.0 469.5L260.5 469.5L262.0 469.6L263.5 469.8L265.0 470.0L266.5 470.3L268.0 470.7L269.5 471.2L271.0 471.7L272.5 472.4L274.0 473.3L275.5 474.3L277.0 475.4L278.5 476.5L280.0 477.6L281.5 478.8L283.0 479.9L284.5 481.1L286.0 482.3L287.5 483.5L289.0 484.5L290.5 485.5L292.0 486.5L293.5 487.5L295.0 488.5L296.5 489.4L298.0 490.3L299.5 491.2L301.0 491.9L302.5 492.6L304.0 493.2L305.5 493.8L307.0 494.3L308.5 494.8L310.0 495.3L311.5 495.7L313.0 496.0L314.5 496.3L316.0 496.6L317.5 496.8L319.0 497.0L320.5 497.2L322.0 497.3L323.5 497.5L325.0 497.6L326.5 497.7L328.0 497.7L329.5 497.7L331.0 497.6L332.5 497.6L334.0 497.5L335.5 497.4L337.0 497.2L338.5 497.1L340.0 496.9L341.5 496.8L343.0 496.6L344.5 496.3L346.0 496.1L347.5 495.7L349.0 495.3L350.5 495.0L352.0 494.5L353.5 494.0L355.0 493.4L356.5 492.7L358.0 491.7L359.5 490.5L361.0 489.1L362.5 487.7L364.0 486.3L365.5 484.8L367.0 483.2L368.5 481.5L370.0 479.8L371.5 478.0L373.0 476.1L374.5 474.2L376.0 472.2L377.5 470.1L379.0 467.8L380.5 465.4L382.0 462.9L383.5 460.3L385.0 457.7L386.5 455.1L388.0 452.5L389.5 450.0L391.0 447.6L392.5 445.3L394.0 442.9L395.5 440.6L397.0 438.3L398.5 435.9L400.0 433.5L401.5 431.1L403.0 428.5L404.5 426.0L406.0 423.4L407.5 420.8L409.0 418.2L410.5 415.6L412.0 413.0L413.5 410.4L415.0 407.8L416.5 405.2L418.0 402.6L419.5 400.0L421.0 397.5L422.5 395.0L424.0 392.5L425.5 390.0L427.0 387.5L428.5 385.0L430.0 382.6L431.5 380.1L433.0 377.6L434.5 375.2L436.0 372.7L437.5 370.2L439.0 367.7L440.5 365.2L442.0 362.6L443.5 360.1L445.0 357.5L446.5 354.9L448.0 352.2L449.5 349.6L451.0 346.9L452.5 344.1L454.0 341.4L455.5 338.6L457.0 335.9L458.5 333.1L460.0 330.3L461.5 327.5L463.0 324.7L464.5 321.9L466.0 319.2L467.5 316.4L469.0 313.7L470.5 310.9L472.0 308.3L473.5 305.7L475.0 303.1L476.5 300.6L478.0 298.1L479.5 295.6L481.0 293.1L482.5 290.6L484.0 288.0L485.5 285.4L487.0 282.7L488.5 279.9L490.0 277.1L491.5 274.1L493.0 270.9L494.5 267.6L496.0 264.0L497.5 260.3L499.0 256.4L500.5 252.4L502.0 248.3L503.5 244.2L505.0 240.1L506.5 236.2L508.0 232.8L509.5 229.5L511.0 226.3L512.5 223.1L514.0 219.9L515.5 216.4L517.0 212.4L518.5 208.6L520.0 204.7L521.5 201.0L523.0 197.3L524.5 193.7L526.0 190.1L527.5 186.6L529.0 183.4L530.5 180.5L532.0 177.8L533.5 175.4L535.0 173.3L536.5 171.5L538.0 170.0L539.5 168.9L541.0 168.0L542.5 166.7L544.0 165.7L545.5 165.0L547.0 164.4L548.5 163.9L550.0 163.6L551.5 163.3L553.0 163.1L554.5 163.0L556.0 163.0L557.5 163.1L559.0 163.4L560.5 163.8L562.0 164.3L563.5 164.9L565.0 165.7L566.5 166.4L568.0 167.3L569.5 168.1L571.0 169.0L572.5 169.9L574.0 170.9L575.5 171.7L577.0 172.5L578.5 173.2L580.0 173.9L581.5 174.5L583.0 175.1L584.5 175.6L586.0 176.3L587.5 176.9L589.0 177.7L590.5 178.5L592.0 179.5L593.5 180.6L595.0 181.7L596.5 183.0L598.0 184.4L599.5 185.8L601.0 187.2L602.5 188.7L604.0 190.3L605.5 192.0L607.0 193.7L608.5 195.6L610.0 197.5L611.5 199.5L613.0 201.6L614.5 204.1L616.0 206.8L617.5 209.5L619.0 211.5L620.5 213.3L622.0 215.0L623.5 216.5L625.0 218.0L626.5 219.5L628.0 221.0L629.5 222.5L631.0 224.3L632.5 226.1L634.0 227.8L635.5 229.3L637.0 230.5L638.5 231.2L640.0 231.6L641.5 232.1L643.0 232.6L644.5 233.1L646.0 233.6L647.5 233.8L649.0 233.9L650.5 234.1L652.0 234.8L653.5 235.6L655.0 236.5L656.5 237.3L658.0 238.2L659.5 239.0L661.0 239.9L662.5 240.8L664.0 241.9L665.5 242.9L667.0 243.8L668.5 244.7L670.0 245.4L671.5 245.8L673.0 246.0L674.5 246.2L676.0 246.4L677.5 246.5L679.0 246.7L680.5 246.8L682.0 246.9L683.5 247.0L685.0 247.0L686.5 246.9L688.0 246.7L689.5 246.4L691.0 245.9L692.5 245.4L694.0 244.7L695.5 244.1L697.0 243.3L698.5 242.6L700.0 241.7L701.5 240.6L703.0 239.2L704.5 237.8L706.0 236.3L707.5 234.8L709.0 233.3L710.5 231.9L712.0 230.7L713.5 229.5L715.0 228.3L716.5 227.1L718.0 225.9L719.5 224.8L721.0 223.7L722.5 222.6L724.0 221.7L725.5 220.9L727.0 220.2L728.5 219.5L730.0 218.8L731.5 218.1L733.0 217.5L734.5 217.0L736.0 216.5L737.5 216.2L739.0 216.0L740.5 215.9L742.0 216.0L743.5 216.0L745.0 216.1L746.5 216.1L748.0 216.3L749.5 216.7L751.0 217.2L752.5 217.8L754.0 218.4L755.5 219.2L757.0 219.9L758.5 220.6L760.0 221.2L761.5 221.8L763.0 222.5L764.5 223.1L766.0 223.8L767.5 224.4L769.0 225.0L770.5 225.6L772.0 226.0L773.5 226.3L775.0 226.6L776.5 226.9L778.0 227.1L779.5 227.3L781.0 227.4L782.5 227.5L784.0 227.4L785.5 227.2L787.0 227.0L788.5 226.7L790.0 226.4L791.5 225.9L793.0 225.0L794.5 223.8L796.0 222.4L797.5 220.9L799.0 219.3L800.5 217.7L802.0 216.1L803.5 214.7L805.0 213.3L806.5 211.9L808.0 210.5L809.5 209.0L811.0 207.5L812.5 206.0L814.0 204.6L815.5 203.1L817.0 201.6L818.5 200.1L820.0 198.6L821.5 197.1L823.0 195.6L824.5 194.1L826.0 192.6L827.5 191.1L829.0 189.7L830.5 188.2L832.0 186.8L833.5 185.4L835.0 184.0L836.5 182.5L838.0 181.2L839.5 179.8L841.0 178.6L842.5 177.4L844.0 176.3L845.5 175.3L847.0 174.3L848.5 173.3L850.0 172.3L851.5 171.5L853.0 170.6L854.5 169.8L856.0 169.1L857.5 168.5L859.0 167.8L860.5 167.2L862.0 166.7L863.5 166.2L865.0 165.9L866.5 165.7L868.0 165.5L869.5 165.3L871.0 165.2L872.5 165.2L874.0 165.3L875.5 165.8L877.0 166.5L878.5 167.3L880.0 168.1L881.5 168.8L883.0 169.8L884.5 170.8L886.0 171.9L887.5 172.9L889.0 173.8L890.5 174.5L892.0 175.2L893.5 175.8L895.0 176.3L896.5 176.8L898.0 177.1L899.5 177.2L901.0 177.2L902.5 177.2L904.0 177.2L905.5 177.2L907.0 177.2L908.5 177.2L910.0 177.2L911.5 177.0L913.0 176.7L914.5 176.2L916.0 175.8L917.5 175.3L919.0 174.9L920.5 174.4L922.0 173.9L923.5 173.6L925.0 173.5L926.5 174.1L928.0 175.4L929.5 176.8L931.0 178.2L932.5 179.8L934.0 181.6L935.5 183.5L937.0 185.3L938.5 187.1L940.0 188.8L941.5 190.5L943.0 192.1L944.5 193.7L946.0 195.3L947.5 196.9M205.0 452.6L206.5 453.5L208.0 454.4L209.5 455.3L211.0 456.2L212.5 457.0L214.0 457.8L215.5 458.7L217.0 459.4L218.5 460.2L220.0 461.0L221.5 461.7L223.0 462.4L224.5 463.1L226.0 463.8L227.5 464.5L229.0 465.2L230.5 465.8L232.0 466.3L233.5 466.9L235.0 467.3L236.5 467.7L238.0 468.1L239.5 468.4L241.0 468.7L242.5 468.9L244.0 469.2L245.5 469.4L247.0 469.5L248.5 469.6L250.0 469.7L251.5 469.7L253.0 469.7L254.5 469.7L256.0 469.7L257.5 469.7L259.0 469.8L260.5 469.8L262.0 469.9L263.5 470.0L265.0 470.3L266.5 470.6L268.0 471.0L269.5 471.5L271.0 472.0L272.5 472.7L274.0 473.7L275.5 474.7L277.0 475.8L278.5 476.9L280.0 478.0L281.5 479.2L283.0 480.3L284.5 481.5L286.0 482.7L287.5 483.9L289.0 484.9L290.5 485.9L292.0 486.9L293.5 487.9L295.0 488.9L296.5 489.8L298.0 490.7L299.5 491.6L301.0 492.3L302.5 493.0L304.0 493.6L305.5 494.2L307.0 494.7L308.5 495.2L310.0 495.7L311.5 496.1L313.0 496.4L314.5 496.7L316.0 496.9L317.5 497.2L319.0 497.4L320.5 497.5L322.0 497.7L323.5 497.8L325.0 498.0L326.5 498.0L328.0 498.0L329.5 498.0L331.0 498.0L332.5 497.9L334.0 497.8L335.5 497.7L337.0 497.5L338.5 497.4L340.0 497.2L341.5 497.0L343.0 496.8L344.5 496.6L346.0 496.3L347.5 495.9L349.0 495.6L350.5 495.2L352.0 494.7L353.5 494.2L355.0 493.6L356.5 492.9L358.0 491.9L359.5 490.7L361.0 489.3L362.5 487.9L364.0 486.5L365.5 485.0L367.0 483.4L368.5 481.8L370.0 480.0L371.5 478.2L373.0 476.4L374.5 474.4L376.0 472.4L377.5 470.4L379.0 468.1L380.5 465.7L382.0 463.2L383.5 460.6L385.0 458.0L386.5 455.4L388.0 452.9L389.5 450.4L391.0 448.0L392.5 445.7L394.0 443.3L395.5 441.0L397.0 438.7L398.5 436.4L400.0 434.0L401.5 431.5L403.0 429.0L404.5 426.5L406.0 423.9L407.5 421.4L409.0 418.8L410.5 416.2L412.0 413.6L413.5 411.0L415.0 408.4L416.5 405.8L418.0 403.2L419.5 400.6L421.0 398.1L422.5 395.6L424.0 393.1L425.5 390.7L427.0 388.2L428.5 385.7L430.0 383.3L431.5 380.8L433.0 378.4L434.5 375.9L436.0 373.4L437.5 370.9L439.0 368.4L440.5 365.9L442.0 363.4L443.5 360.8L445.0 358.3L446.5 355.7L448.0 353.0L449.5 350.4L451.0 347.7L452.5 345.0L454.0 342.2L455.5 339.5L457.0 336.7L458.5 334.0L460.0 331.2L461.5 328.4L463.0 325.6L464.5 322.9L466.0 320.1L467.5 317.3L469.0 314.6L470.5 311.9L472.0 309.3L473.5 306.7L475.0 304.1L476.5 301.6L478.0 299.1L479.5 296.6L481.0 294.1L482.5 291.6L484.0 289.1L485.5 286.5L487.0 283.8L488.5 281.1L490.0 278.2L491.5 275.2L493.0 272.1L494.5 268.8L496.0 265.3L497.5 261.6L499.0 257.7L500.5 253.8L502.0 250.3L503.5 246.8L505.0 243.4L506.5 239.9L508.0 236.6L509.5 233.4L511.0 230.2L512.5 227.0L514.0 223.9L515.5 220.4L517.0 216.6L518.5 212.8L520.0 209.0L521.5 205.3L523.0 201.7L524.5 198.1L526.0 194.6L527.5 191.2L529.0 188.0L530.5 185.2L532.0 182.5L533.5 180.0L535.0 177.9L536.5 176.1L538.0 174.6L539.5 173.4L541.0 172.5L542.5 171.1L544.0 169.9L545.5 169.0L547.0 168.2L548.5 167.6L550.0 167.1L551.5 166.6L553.0 166.2L554.5 165.9L556.0 165.7L557.5 165.6L559.0 165.5L560.5 165.7L562.0 165.9L563.5 166.3L565.0 166.8L566.5 167.3L568.0 168.0L569.5 168.7L571.0 169.5L572.5 170.4L574.0 171.3L575.5 172.1L577.0 172.9L578.5 173.6L580.0 174.3L581.5 174.9L583.0 175.4L584.5 176.0L586.0 176.7L587.5 177.3L589.0 178.1L590.5 178.9L592.0 179.9L593.5 181.0L595.0 182.2L596.5 183.5L598.0 184.9L599.5 186.3L601.0 187.7L602.5 189.2L604.0 190.8L605.5 192.5L607.0 194.2L608.5 196.1L610.0 198.0L611.5 200.0L613.0 202.1L614.5 204.6L616.0 207.3L617.5 210.0L619.0 212.0L620.5 213.8L622.0 215.5L623.5 217.0L625.0 218.5L626.5 220.0L628.0 221.5L629.5 223.0L631.0 224.8L632.5 226.6L634.0 228.3L635.5 229.8L637.0 230.9L638.5 231.6L640.0 232.1L641.5 232.7L643.0 233.2L644.5 233.8L646.0 234.3L647.5 234.5L649.0 234.5L650.5 234.7L652.0 235.5L653.5 236.3L655.0 237.1L656.5 238.0L658.0 238.8L659.5 239.6L661.0 240.5L662.5 241.4L664.0 242.4L665.5 243.4L667.0 244.4L668.5 245.2L670.0 245.9L671.5 246.3L673.0 246.5L674.5 246.7L676.0 246.9L677.5 247.0L679.0 247.1L680.5 247.2L682.0 247.4L683.5 247.4L685.0 247.4L686.5 247.4L688.0 247.2L689.5 246.8L691.0 246.4L692.5 245.8L694.0 245.2L695.5 244.5L697.0 243.8L698.5 243.0L700.0 242.1L701.5 240.9L703.0 239.6L704.5 238.1L706.0 236.6L707.5 235.1L709.0 233.7L710.5 232.3L712.0 231.1L713.5 229.9L715.0 228.7L716.5 227.5L718.0 226.3L719.5 225.2L721.0 224.1L722.5 223.0L724.0 222.1L725.5 221.3L727.0 220.6L728.5 219.9L730.0 219.2L731.5 218.5L733.0 217.9L734.5 217.4L736.0 216.9L737.5 216.6L739.0 216.4L740.5 216.3L742.0 216.3L743.5 216.4L745.0 216.4L746.5 216.5L748.0 216.7L749.5 217.0L751.0 217.5L752.5 218.1L754.0 218.8L755.5 219.5L757.0 220.2L758.5 220.9L760.0 221.5L761.5 222.1L763.0 222.8L764.5 223.4L766.0 224.1L767.5 224.7L769.0 225.3L770.5 225.8L772.0 226.3L773.5 226.6L775.0 226.9L776.5 227.2L778.0 227.4L779.5 227.6L781.0 227.7L782.5 227.7L784.0 227.6L785.5 227.5L787.0 227.2L788.5 226.9L790.0 226.6L791.5 226.1L793.0 225.2L794.5 224.0L796.0 222.7L797.5 221.2L799.0 219.6L800.5 218.0L802.0 216.5L803.5 215.0L805.0 213.7L806.5 212.3L808.0 210.8L809.5 209.4L811.0 207.9L812.5 206.4L814.0 204.9L815.5 203.4L817.0 202.0L818.5 200.5L820.0 199.0L821.5 197.5L823.0 196.0L824.5 194.5L826.0 193.0L827.5 191.5L829.0 190.1L830.5 188.7L832.0 187.2L833.5 185.8L835.0 184.4L836.5 183.0L838.0 181.6L839.5 180.3L841.0 179.0L842.5 177.8L844.0 176.8L845.5 175.7L847.0 174.7L848.5 173.7L850.0 172.8L851.5 171.9L853.0 171.0L854.5 170.3L856.0 169.5L857.5 168.9L859.0 168.2L860.5 167.6L862.0 167.1L863.5 166.6L865.0 166.3L866.5 166.1L868.0 165.9L869.5 165.7L871.0 165.6L872.5 165.6L874.0 165.7L875.5 166.2L877.0 166.8L878.5 167.6L880.0 168.4L881.5 169.2L883.0 170.1L884.5 171.1L886.0 172.2L887.5 173.2L889.0 174.1L890.5 174.8L892.0 175.5L893.5 176.1L895.0 176.6L896.5 177.1L898.0 177.4L899.5 177.5L901.0 177.5L902.5 177.5L904.0 177.4L905.5 177.4L907.0 177.4L908.5 177.4L910.0 177.4L911.5 177.2L913.0 176.9L914.5 176.5L916.0 176.0L917.5 175.5L919.0 175.1L920.5 174.7L922.0 174.2L923.5 173.9L925.0 173.8L926.5 174.4L928.0 175.6L929.5 177.1L931.0 178.5L932.5 180.1L934.0 181.9L935.5 183.7L937.0 185.6L938.5 187.4L940.0 189.1L941.5 190.7L943.0 192.4L944.5 194.0L946.0 195.6L947.5 197.2M205.0 452.9L206.5 453.9L208.0 454.8L209.5 455.7L211.0 456.5L212.5 457.4L214.0 458.2L215.5 459.0L217.0 459.8L218.5 460.6L220.0 461.3L221.5 462.1L223.0 462.8L224.5 463.5L226.0 464.2L227.5 464.9L229.0 465.5L230.5 466.2L232.0 466.7L233.5 467.3L235.0 467.7L236.5 468.1L238.0 468.4L239.5 468.8L241.0 469.1L242.5 469.3L244.0 469.5L245.5 469.7L247.0 469.9L248.5 470.0L250.0 470.0L251.5 470.1L253.0 470.1L254.5 470.0L256.0 470.0L257.5 470.0L259.0 470.0L260.5 470.1L262.0 470.2L263.5 470.3L265.0 470.5L266.5 470.9L268.0 471.3L269.5 471.8L271.0 472.4L272.5 473.1L274.0 474.0L275.5 475.1L277.0 476.2L278.5 477.3L280.0 478.4L281.5 479.6L283.0 480.8L284.5 482.0L286.0 483.1L287.5 484.3L289.0 485.3L290.5 486.3L292.0 487.3L293.5 488.3L295.0 489.3L296.5 490.2L298.0 491.1L299.5 492.0L301.0 492.7L302.5 493.4L304.0 494.0L305.5 494.6L307.0 495.1L308.5 495.6L310.0 496.1L311.5 496.4L313.0 496.8L314.5 497.1L316.0 497.3L317.5 497.5L319.0 497.7L320.5 497.9L322.0 498.1L323.5 498.2L325.0 498.3L326.5 498.4L328.0 498.4L329.5 498.4L331.0 498.3L332.5 498.2L334.0 498.1L335.5 498.0L337.0 497.8L338.5 497.7L340.0 497.5L341.5 497.3L343.0 497.1L344.5 496.8L346.0 496.5L347.5 496.2L349.0 495.8L350.5 495.4L352.0 494.9L353.5 494.4L355.0 493.8L356.5 493.1L358.0 492.1L359.5 490.9L361.0 489.5L362.5 488.1L364.0 486.6L365.5 485.1L367.0 483.6L368.5 482.0L370.0 480.3L371.5 478.5L373.0 476.6L374.5 474.7L376.0 472.7L377.5 470.6L379.0 468.4L380.5 466.0L382.0 463.5L383.5 460.9L385.0 458.4L386.5 455.8L388.0 453.2L389.5 450.8L391.0 448.4L392.5 446.1L394.0 443.8L395.5 441.5L397.0 439.2L398.5 436.8L400.0 434.5L401.5 432.0L403.0 429.5L404.5 427.0L406.0 424.5L407.5 421.9L409.0 419.3L410.5 416.7L412.0 414.1L413.5 411.5L415.0 408.9L416.5 406.4L418.0 403.8L419.5 401.3L421.0 398.8L422.5 396.3L424.0 393.8L425.5 391.3L427.0 388.9L428.5 386.4L430.0 384.0L431.5 381.5L433.0 379.1L434.5 376.6L436.0 374.2L437.5 371.7L439.0 369.2L440.5 366.7L442.0 364.2L443.5 361.6L445.0 359.1L446.5 356.5L448.0 353.8L449.5 351.2L451.0 348.5L452.5 345.8L454.0 343.1L455.5 340.4L457.0 337.6L458.5 334.8L460.0 332.1L461.5 329.3L463.0 326.5L464.5 323.8L466.0 321.0L467.5 318.3L469.0 315.6L470.5 312.9L472.0 310.2L473.5 307.7L475.0 305.1L476.5 302.6L478.0 300.1L479.5 297.7L481.0 295.2L482.5 292.7L484.0 290.2L485.5 287.6L487.0 284.9L488.5 282.2L490.0 279.3L491.5 276.4L493.0 273.3L494.5 270.0L496.0 266.8L497.5 263.8L499.0 260.6L500.5 257.3L502.0 254.0L503.5 250.6L505.0 247.2L506.5 243.8L508.0 240.5L509.5 237.3L511.0 234.2L512.5 231.1L514.0 228.0L515.5 224.6L517.0 220.8L518.5 217.1L520.0 213.4L521.5 209.7L523.0 206.2L524.5 202.7L526.0 199.2L527.5 195.9L529.0 192.8L530.5 189.9L532.0 187.2L533.5 184.8L535.0 182.7L536.5 180.9L538.0 179.3L539.5 178.1L541.0 177.1L542.5 175.5L544.0 174.3L545.5 173.2L547.0 172.3L548.5 171.5L550.0 170.8L551.5 170.2L553.0 169.7L554.5 169.2L556.0 168.8L557.5 168.5L559.0 168.3L560.5 168.2L562.0 168.2L563.5 168.3L565.0 168.5L566.5 168.8L568.0 169.2L569.5 169.8L571.0 170.4L572.5 171.1L574.0 171.9L575.5 172.6L577.0 173.4L578.5 174.1L580.0 174.7L581.5 175.3L583.0 175.9L584.5 176.5L586.0 177.1L587.5 177.8L589.0 178.5L590.5 179.4L592.0 180.3L593.5 181.5L595.0 182.7L596.5 184.0L598.0 185.3L599.5 186.8L601.0 188.2L602.5 189.7L604.0 191.3L605.5 193.0L607.0 194.7L608.5 196.6L610.0 198.5L611.5 200.5L613.0 202.6L614.5 205.1L616.0 207.8L617.5 210.5L619.0 212.5L620.5 214.3L622.0 216.0L623.5 217.5L625.0 219.0L626.5 220.5L628.0 222.0L629.5 223.6L631.0 225.3L632.5 227.1L634.0 228.8L635.5 230.3L637.0 231.4L638.5 232.1L640.0 232.6L641.5 233.2L643.0 233.7L644.5 234.4L646.0 235.0L647.5 235.2L649.0 235.1L650.5 235.3L652.0 236.1L653.5 236.9L655.0 237.7L656.5 238.6L658.0 239.4L659.5 240.2L661.0 241.1L662.5 242.0L664.0 243.0L665.5 244.0L667.0 244.9L668.5 245.8L670.0 246.4L671.5 246.8L673.0 247.0L674.5 247.2L676.0 247.3L677.5 247.5L679.0 247.6L680.5 247.7L682.0 247.8L683.5 247.9L685.0 247.9L686.5 247.8L688.0 247.6L689.5 247.3L691.0 246.8L692.5 246.3L694.0 245.6L695.5 244.9L697.0 244.2L698.5 243.4L700.0 242.5L701.5 241.3L703.0 240.0L704.5 238.5L706.0 237.0L707.5 235.5L709.0 234.1L710.5 232.7L712.0 231.5L713.5 230.3L715.0 229.1L716.5 227.9L718.0 226.7L719.5 225.6L721.0 224.5L722.5 223.4L724.0 222.5L725.5 221.7L727.0 221.0L728.5 220.3L730.0 219.6L731.5 218.9L733.0 218.3L734.5 217.8L736.0 217.3L737.5 217.0L739.0 216.8L740.5 216.7L742.0 216.7L743.5 216.8L745.0 216.8L746.5 216.9L748.0 217.0L749.5 217.4L751.0 217.9L752.5 218.4L754.0 219.1L755.5 219.8L757.0 220.5L758.5 221.2L760.0 221.8L761.5 222.4L763.0 223.1L764.5 223.7L766.0 224.4L767.5 225.0L769.0 225.6L770.5 226.1L772.0 226.5L773.5 226.9L775.0 227.1L776.5 227.4L778.0 227.7L779.5 227.8L781.0 227.9L782.5 227.9L784.0 227.9L785.5 227.7L787.0 227.5L788.5 227.2L790.0 226.8L791.5 226.3L793.0 225.4L794.5 224.3L796.0 222.9L797.5 221.4L799.0 219.9L800.5 218.3L802.0 216.8L803.5 215.4L805.0 214.0L806.5 212.6L808.0 211.2L809.5 209.7L811.0 208.3L812.5 206.8L814.0 205.3L815.5 203.8L817.0 202.3L818.5 200.9L820.0 199.4L821.5 197.9L823.0 196.4L824.5 194.9L826.0 193.4L827.5 191.9L829.0 190.5L830.5 189.1L832.0 187.6L833.5 186.2L835.0 184.8L836.5 183.4L838.0 182.0L839.5 180.7L841.0 179.4L842.5 178.3L844.0 177.2L845.5 176.1L847.0 175.1L848.5 174.1L850.0 173.2L851.5 172.3L853.0 171.5L854.5 170.7L856.0 170.0L857.5 169.3L859.0 168.6L860.5 168.0L862.0 167.5L863.5 167.0L865.0 166.7L866.5 166.5L868.0 166.2L869.5 166.1L871.0 166.0L872.5 165.9L874.0 166.1L875.5 166.5L877.0 167.2L878.5 168.0L880.0 168.8L881.5 169.5L883.0 170.4L884.5 171.4L886.0 172.5L887.5 173.5L889.0 174.4L890.5 175.1L892.0 175.8L893.5 176.4L895.0 176.9L896.5 177.4L898.0 177.7L899.5 177.8L901.0 177.8L902.5 177.7L904.0 177.7L905.5 177.7L907.0 177.7L908.5 177.6L910.0 177.6L911.5 177.5L913.0 177.1L914.5 176.7L916.0 176.2L917.5 175.8L919.0 175.4L920.5 174.9L922.0 174.4L923.5 174.1L925.0 174.0L926.5 174.6L928.0 175.9L929.5 177.3L931.0 178.8L932.5 180.4L934.0 182.1L935.5 184.0L937.0 185.9L938.5 187.7L940.0 189.4L941.5 191.0L943.0 192.7L944.5 194.3L946.0 195.9L947.5 197.5M205.0 453.3L206.5 454.2L208.0 455.1L209.5 456.0L211.0 456.9L212.5 457.7L214.0 458.6L215.5 459.4L217.0 460.2L218.5 460.9L220.0 461.7L221.5 462.5L223.0 463.2L224.5 463.9L226.0 464.6L227.5 465.3L229.0 465.9L230.5 466.5L232.0 467.1L233.5 467.6L235.0 468.1L236.5 468.5L238.0 468.8L239.5 469.1L241.0 469.4L242.5 469.7L244.0 469.9L245.5 470.1L247.0 470.2L248.5 470.3L250.0 470.4L251.5 470.4L253.0 470.4L254.5 470.3L256.0 470.3L257.5 470.3L259.0 470.3L260.5 470.4L262.0 470.5L263.5 470.6L265.0 470.8L266.5 471.1L268.0 471.6L269.5 472.1L271.0 472.7L272.5 473.4L274.0 474.4L275.5 475.4L277.0 476.6L278.5 477.7L280.0 478.8L281.5 480.0L283.0 481.2L284.5 482.4L286.0 483.5L287.5 484.7L289.0 485.7L290.5 486.7L292.0 487.7L293.5 488.7L295.0 489.7L296.5 490.6L298.0 491.5L299.5 492.3L301.0 493.1L302.5 493.8L304.0 494.4L305.5 495.0L307.0 495.5L308.5 496.0L310.0 496.4L311.5 496.8L313.0 497.2L314.5 497.5L316.0 497.7L317.5 497.9L319.0 498.1L320.5 498.3L322.0 498.4L323.5 498.6L325.0 498.7L326.5 498.7L328.0 498.7L329.5 498.7L331.0 498.6L332.5 498.5L334.0 498.4L335.5 498.3L337.0 498.1L338.5 498.0L340.0 497.8L341.5 497.6L343.0 497.4L344.5 497.1L346.0 496.8L347.5 496.4L349.0 496.0L350.5 495.6L352.0 495.1L353.5 494.6L355.0 494.0L356.5 493.3L358.0 492.3L359.5 491.1L361.0 489.7L362.5 488.3L364.0 486.8L365.5 485.3L367.0 483.8L368.5 482.2L370.0 480.5L371.5 478.7L373.0 476.8L374.5 474.9L376.0 472.9L377.5 470.9L379.0 468.6L380.5 466.3L382.0 463.8L383.5 461.2L385.0 458.7L386.5 456.1L388.0 453.6L389.5 451.1L391.0 448.8L392.5 446.5L394.0 444.2L395.5 441.9L397.0 439.6L398.5 437.3L400.0 434.9L401.5 432.5L403.0 430.0L404.5 427.5L406.0 425.0L407.5 422.4L409.0 419.8L410.5 417.3L412.0 414.7L413.5 412.1L415.0 409.5L416.5 407.0L418.0 404.4L419.5 401.9L421.0 399.4L422.5 396.9L424.0 394.5L425.5 392.0L427.0 389.6L428.5 387.1L430.0 384.7L431.5 382.3L433.0 379.8L434.5 377.4L436.0 374.9L437.5 372.4L439.0 370.0L440.5 367.5L442.0 364.9L443.5 362.4L445.0 359.8L446.5 357.3L448.0 354.6L449.5 352.0L451.0 349.3L452.5 346.6L454.0 343.9L455.5 341.2L457.0 338.5L458.5 335.7L460.0 333.0L461.5 330.2L463.0 327.5L464.5 324.7L466.0 322.0L467.5 319.2L469.0 316.5L470.5 313.8L472.0 311.2L473.5 308.7L475.0 306.1L476.5 303.6L478.0 301.2L479.5 298.7L481.0 296.2L482.5 293.7L484.0 291.2L485.5 288.7L487.0 286.0L488.5 283.3L490.0 280.5L491.5 278.2L493.0 275.8L494.5 273.2L496.0 270.4L497.5 267.4L499.0 264.3L500.5 261.1L502.0 257.8L503.5 254.5L505.0 251.1L506.5 247.8L508.0 244.6L509.5 241.5L511.0 238.4L512.5 235.3L514.0 232.3L515.5 229.0L517.0 225.2L518.5 221.6L520.0 217.9L521.5 214.4L523.0 210.9L524.5 207.4L526.0 204.0L527.5 200.7L529.0 197.6L530.5 194.8L532.0 192.2L533.5 189.7L535.0 187.6L536.5 185.8L538.0 184.2L539.5 182.9L541.0 181.9L542.5 180.2L544.0 178.8L545.5 177.6L547.0 176.5L548.5 175.6L550.0 174.8L551.5 174.1L553.0 173.4L554.5 172.8L556.0 172.2L557.5 171.8L559.0 171.4L560.5 171.2L562.0 171.0L563.5 171.0L565.0 171.0L566.5 171.0L568.0 171.2L569.5 171.4L571.0 171.8L572.5 172.3L574.0 172.8L575.5 173.5L577.0 174.1L578.5 174.7L580.0 175.3L581.5 175.8L583.0 176.4L584.5 177.0L586.0 177.6L587.5 178.2L589.0 179.0L590.5 179.8L592.0 180.8L593.5 181.9L595.0 183.1L596.5 184.5L598.0 185.8L599.5 187.3L601.0 188.7L602.5 190.2L604.0 191.8L605.5 193.5L607.0 195.2L608.5 197.1L610.0 199.0L611.5 201.0L613.0 203.1L614.5 205.6L616.0 208.3L617.5 211.0L619.0 213.0L620.5 214.8L622.0 216.5L623.5 218.0L625.0 219.5L626.5 221.0L628.0 222.5L629.5 224.1L631.0 225.8L632.5 227.6L634.0 229.3L635.5 230.7L637.0 231.9L638.5 232.5L640.0 233.0L641.5 233.7L643.0 234.3L644.5 235.0L646.0 235.7L647.5 235.9L649.0 235.7L650.5 235.9L652.0 236.7L653.5 237.5L655.0 238.4L656.5 239.2L658.0 240.1L659.5 240.9L661.0 241.7L662.5 242.6L664.0 243.6L665.5 244.6L667.0 245.5L668.5 246.3L670.0 246.9L671.5 247.3L673.0 247.5L674.5 247.7L676.0 247.8L677.5 248.0L679.0 248.1L680.5 248.1L682.0 248.3L683.5 248.3L685.0 248.4L686.5 248.3L688.0 248.1L689.5 247.7L691.0 247.3L692.5 246.7L694.0 246.1L695.5 245.3L697.0 244.6L698.5 243.8L700.0 243.0L701.5 241.7L703.0 240.3L704.5 238.9L706.0 237.4L707.5 235.9L709.0 234.4L710.5 233.1L712.0 231.9L713.5 230.7L715.0 229.5L716.5 228.3L718.0 227.1L719.5 226.0L721.0 224.9L722.5 223.8L724.0 222.9L725.5 222.1L727.0 221.4L728.5 220.7L730.0 220.0L731.5 219.3L733.0 218.7L734.5 218.2L736.0 217.7L737.5 217.4L739.0 217.2L740.5 217.1L742.0 217.1L743.5 217.1L745.0 217.2L746.5 217.3L748.0 217.4L749.5 217.7L751.0 218.2L752.5 218.8L754.0 219.4L755.5 220.1L757.0 220.8L758.5 221.5L760.0 222.1L761.5 222.7L763.0 223.3L764.5 224.0L766.0 224.6L767.5 225.3L769.0 225.8L770.5 226.4L772.0 226.8L773.5 227.1L775.0 227.4L776.5 227.7L778.0 227.9L779.5 228.1L781.0 228.2L782.5 228.2L784.0 228.1L785.5 227.9L787.0 227.7L788.5 227.4L790.0 227.0L791.5 226.5L793.0 225.6L794.5 224.5L796.0 223.2L797.5 221.7L799.0 220.2L800.5 218.6L802.0 217.1L803.5 215.7L805.0 214.3L806.5 212.9L808.0 211.5L809.5 210.1L811.0 208.6L812.5 207.1L814.0 205.7L815.5 204.2L817.0 202.7L818.5 201.2L820.0 199.8L821.5 198.3L823.0 196.8L824.5 195.3L826.0 193.8L827.5 192.3L829.0 190.9L830.5 189.5L832.0 188.0L833.5 186.6L835.0 185.2L836.5 183.8L838.0 182.4L839.5 181.1L841.0 179.9L842.5 178.7L844.0 177.6L845.5 176.6L847.0 175.5L848.5 174.6L850.0 173.6L851.5 172.7L853.0 171.9L854.5 171.1L856.0 170.4L857.5 169.7L859.0 169.1L860.5 168.4L862.0 167.9L863.5 167.4L865.0 167.1L866.5 166.8L868.0 166.6L869.5 166.4L871.0 166.3L872.5 166.3L874.0 166.4L875.5 166.9L877.0 167.6L878.5 168.3L880.0 169.1L881.5 169.9L883.0 170.8L884.5 171.8L886.0 172.8L887.5 173.8L889.0 174.7L890.5 175.5L892.0 176.1L893.5 176.7L895.0 177.3L896.5 177.7L898.0 178.0L899.5 178.1L901.0 178.1L902.5 178.0L904.0 177.9L905.5 177.9L907.0 177.9L908.5 177.9L910.0 177.8L911.5 177.7L913.0 177.4L914.5 176.9L916.0 176.5L917.5 176.0L919.0 175.6L920.5 175.1L922.0 174.7L923.5 174.3L925.0 174.3L926.5 174.9L928.0 176.1L929.5 177.6L931.0 179.0L932.5 180.6L934.0 182.4L935.5 184.3L937.0 186.1L938.5 187.9L940.0 189.6L941.5 191.3L943.0 192.9L944.5 194.6L946.0 196.2L947.5 197.8M205.0 453.6L206.5 454.6L208.0 455.5L209.5 456.4L211.0 457.2L212.5 458.1L214.0 458.9L215.5 459.7L217.0 460.5L218.5 461.3L220.0 462.1L221.5 462.8L223.0 463.6L224.5 464.3L226.0 465.0L227.5 465.7L229.0 466.3L230.5 466.9L232.0 467.5L233.5 468.0L235.0 468.5L236.5 468.9L238.0 469.2L239.5 469.5L241.0 469.8L242.5 470.0L244.0 470.2L245.5 470.4L247.0 470.5L248.5 470.6L250.0 470.7L251.5 470.7L253.0 470.7L254.5 470.6L256.0 470.6L257.5 470.6L259.0 470.6L260.5 470.7L262.0 470.7L263.5 470.9L265.0 471.1L266.5 471.4L268.0 471.9L269.5 472.4L271.0 473.0L272.5 473.8L274.0 474.7L275.5 475.8L277.0 476.9L278.5 478.1L280.0 479.2L281.5 480.4L283.0 481.6L284.5 482.8L286.0 484.0L287.5 485.1L289.0 486.2L290.5 487.2L292.0 488.1L293.5 489.1L295.0 490.1L296.5 491.0L298.0 491.9L299.5 492.7L301.0 493.5L302.5 494.2L304.0 494.8L305.5 495.4L307.0 495.9L308.5 496.4L310.0 496.8L311.5 497.2L313.0 497.6L314.5 497.8L316.0 498.1L317.5 498.3L319.0 498.5L320.5 498.6L322.0 498.8L323.5 498.9L325.0 499.0L326.5 499.1L328.0 499.1L329.5 499.0L331.0 498.9L332.5 498.8L334.0 498.7L335.5 498.6L337.0 498.4L338.5 498.3L340.0 498.1L341.5 497.9L343.0 497.6L344.5 497.3L346.0 497.0L347.5 496.6L349.0 496.2L350.5 495.8L352.0 495.3L353.5 494.8L355.0 494.2L356.5 493.5L358.0 492.5L359.5 491.3L361.0 489.9L362.5 488.5L364.0 487.0L365.5 485.5L367.0 484.0L368.5 482.4L370.0 480.7L371.5 478.9L373.0 477.1L374.5 475.1L376.0 473.2L377.5 471.1L379.0 468.9L380.5 466.5L382.0 464.1L383.5 461.6L385.0 459.0L386.5 456.5L388.0 454.0L389.5 451.5L391.0 449.2L392.5 446.9L394.0 444.6L395.5 442.3L397.0 440.1L398.5 437.7L400.0 435.4L401.5 433.0L403.0 430.5L404.5 428.0L406.0 425.5L407.5 422.9L409.0 420.4L410.5 417.8L412.0 415.3L413.5 412.7L415.0 410.1L416.5 407.6L418.0 405.0L419.5 402.5L421.0 400.1L422.5 397.6L424.0 395.1L425.5 392.7L427.0 390.3L428.5 387.8L430.0 385.4L431.5 383.0L433.0 380.5L434.5 378.1L436.0 375.7L437.5 373.2L439.0 370.7L440.5 368.2L442.0 365.7L443.5 363.2L445.0 360.6L446.5 358.1L448.0 355.4L449.5 352.8L451.0 350.2L452.5 347.5L454.0 344.8L455.5 342.1L457.0 339.3L458.5 336.6L460.0 333.9L461.5 331.1L463.0 328.4L464.5 325.6L466.0 322.9L467.5 320.2L469.0 317.5L470.5 314.8L472.0 312.2L473.5 309.6L475.0 307.1L476.5 304.6L478.0 302.2L479.5 299.7L481.0 297.2L482.5 294.8L484.0 292.3L485.5 290.1L487.0 288.2L488.5 286.2L490.0 284.1L491.5 281.9L493.0 279.5L494.5 277.0L496.0 274.2L497.5 271.3L499.0 268.2L500.5 265.0L502.0 261.8L503.5 258.5L505.0 255.2L506.5 252.0L508.0 248.8L509.5 245.7L511.0 242.7L512.5 239.7L514.0 236.7L515.5 233.4L517.0 229.8L518.5 226.2L520.0 222.6L521.5 219.1L523.0 215.7L524.5 212.3L526.0 209.0L527.5 205.7L529.0 202.7L530.5 199.9L532.0 197.2L533.5 194.8L535.0 192.7L536.5 190.8L538.0 189.2L539.5 187.9L541.0 186.8L542.5 185.0L544.0 183.5L545.5 182.1L547.0 181.0L548.5 179.9L550.0 179.0L551.5 178.1L553.0 177.3L554.5 176.6L556.0 175.9L557.5 175.3L559.0 174.8L560.5 174.5L562.0 174.3L563.5 174.1L565.0 173.9L566.5 173.8L568.0 173.8L569.5 173.8L571.0 173.9L572.5 174.1L574.0 174.5L575.5 174.9L577.0 175.3L578.5 175.8L580.0 176.2L581.5 176.7L583.0 177.2L584.5 177.7L586.0 178.2L587.5 178.9L589.0 179.6L590.5 180.4L592.0 181.3L593.5 182.4L595.0 183.6L596.5 184.9L598.0 186.3L599.5 187.8L601.0 189.2L602.5 190.7L604.0 192.3L605.5 194.0L607.0 195.7L608.5 197.6L610.0 199.5L611.5 201.5L613.0 203.6L614.5 206.1L616.0 208.8L617.5 211.5L619.0 213.5L620.5 215.3L622.0 217.0L623.5 218.5L625.0 220.0L626.5 221.5L628.0 223.0L629.5 224.6L631.0 226.3L632.5 228.1L634.0 229.7L635.5 231.2L637.0 232.3L638.5 233.0L640.0 233.5L641.5 234.2L643.0 234.8L644.5 235.7L646.0 236.3L647.5 236.6L649.0 236.4L650.5 236.5L652.0 237.3L653.5 238.2L655.0 239.0L656.5 239.8L658.0 240.7L659.5 241.5L661.0 242.3L662.5 243.2L664.0 244.2L665.5 245.1L667.0 246.0L668.5 246.8L670.0 247.4L671.5 247.8L673.0 248.0L674.5 248.1L676.0 248.3L677.5 248.4L679.0 248.5L680.5 248.6L682.0 248.7L683.5 248.8L685.0 248.9L686.5 249.0L688.0 248.9L689.5 248.7L691.0 248.3L692.5 247.8L694.0 247.2L695.5 246.6L697.0 245.9L698.5 245.1L700.0 244.2L701.5 242.8L703.0 241.2L704.5 239.6L706.0 237.9L707.5 236.2L709.0 234.8L710.5 233.5L712.0 232.3L713.5 231.1L715.0 229.9L716.5 228.7L718.0 227.5L719.5 226.4L721.0 225.3L722.5 224.2L724.0 223.3L725.5 222.5L727.0 221.7L728.5 221.1L730.0 220.4L731.5 219.7L733.0 219.1L734.5 218.6L736.0 218.1L737.5 217.8L739.0 217.6L740.5 217.5L742.0 217.5L743.5 217.5L745.0 217.6L746.5 217.6L748.0 217.8L749.5 218.1L751.0 218.6L752.5 219.1L754.0 219.8L755.5 220.5L757.0 221.1L758.5 221.8L760.0 222.4L761.5 223.0L763.0 223.6L764.5 224.3L766.0 224.9L767.5 225.5L769.0 226.1L770.5 226.6L772.0 227.1L773.5 227.4L775.0 227.7L776.5 227.9L778.0 228.2L779.5 228.3L781.0 228.4L782.5 228.4L784.0 228.3L785.5 228.2L787.0 227.9L788.5 227.6L790.0 227.3L791.5 226.7L793.0 225.9L794.5 224.7L796.0 223.4L797.5 222.0L799.0 220.4L800.5 218.9L802.0 217.4L803.5 216.0L805.0 214.7L806.5 213.3L808.0 211.9L809.5 210.4L811.0 209.0L812.5 207.5L814.0 206.0L815.5 204.6L817.0 203.1L818.5 201.6L820.0 200.1L821.5 198.6L823.0 197.1L824.5 195.7L826.0 194.2L827.5 192.7L829.0 191.3L830.5 189.9L832.0 188.4L833.5 187.0L835.0 185.6L836.5 184.2L838.0 182.8L839.5 181.5L841.0 180.3L842.5 179.1L844.0 178.0L845.5 177.0L847.0 176.0L848.5 175.0L850.0 174.1L851.5 173.2L853.0 172.3L854.5 171.5L856.0 170.8L857.5 170.1L859.0 169.5L860.5 168.8L862.0 168.3L863.5 167.8L865.0 167.5L866.5 167.2L868.0 167.0L869.5 166.8L871.0 166.7L872.5 166.7L874.0 166.8L875.5 167.3L877.0 167.9L878.5 168.7L880.0 169.5L881.5 170.2L883.0 171.1L884.5 172.1L886.0 173.1L887.5 174.2L889.0 175.1L890.5 175.8L892.0 176.4L893.5 177.0L895.0 177.6L896.5 178.0L898.0 178.3L899.5 178.4L901.0 178.4L902.5 178.3L904.0 178.2L905.5 178.2L907.0 178.1L908.5 178.1L910.0 178.1L911.5 177.9L913.0 177.6L914.5 177.2L916.0 176.7L917.5 176.2L919.0 175.8L920.5 175.4L922.0 174.9L923.5 174.6L925.0 174.5L926.5 175.1L928.0 176.3L929.5 177.8L931.0 179.3L932.5 180.9L934.0 182.7L935.5 184.5L937.0 186.4L938.5 188.2L940.0 189.9L941.5 191.6L943.0 193.2L944.5 194.8L946.0 196.5L947.5 198.1M205.0 454.0L206.5 454.9L208.0 455.8L209.5 456.7L211.0 457.6L212.5 458.4L214.0 459.3L215.5 460.1L217.0 460.9L218.5 461.7L220.0 462.4L221.5 463.2L223.0 463.9L224.5 464.7L226.0 465.4L227.5 466.1L229.0 466.7L230.5 467.3L232.0 467.9L233.5 468.4L235.0 468.9L236.5 469.2L238.0 469.6L239.5 469.9L241.0 470.2L242.5 470.4L244.0 470.6L245.5 470.8L247.0 470.9L248.5 471.0L250.0 471.0L251.5 471.0L253.0 471.0L254.5 470.9L256.0 470.9L257.5 470.9L259.0 470.9L260.5 470.9L262.0 471.0L263.5 471.2L265.0 471.4L266.5 471.7L268.0 472.2L269.5 472.7L271.0 473.3L272.5 474.1L274.0 475.1L275.5 476.2L277.0 477.3L278.5 478.5L280.0 479.6L281.5 480.8L283.0 482.0L284.5 483.2L286.0 484.4L287.5 485.5L289.0 486.6L290.5 487.6L292.0 488.6L293.5 489.5L295.0 490.5L296.5 491.4L298.0 492.3L299.5 493.1L301.0 493.9L302.5 494.6L304.0 495.2L305.5 495.8L307.0 496.3L308.5 496.8L310.0 497.2L311.5 497.6L313.0 497.9L314.5 498.2L316.0 498.4L317.5 498.6L319.0 498.8L320.5 499.0L322.0 499.2L323.5 499.3L325.0 499.4L326.5 499.4L328.0 499.4L329.5 499.4L331.0 499.3L332.5 499.2L334.0 499.0L335.5 498.9L337.0 498.7L338.5 498.6L340.0 498.4L341.5 498.1L343.0 497.9L344.5 497.6L346.0 497.3L347.5 496.9L349.0 496.5L350.5 496.0L352.0 495.6L353.5 495.0L355.0 494.4L356.5 493.7L358.0 492.7L359.5 491.4L361.0 490.1L362.5 488.6L364.0 487.2L365.5 485.7L367.0 484.2L368.5 482.6L370.0 480.9L371.5 479.1L373.0 477.3L374.5 475.4L376.0 473.4L377.5 471.4L379.0 469.2L380.5 466.8L382.0 464.4L383.5 461.9L385.0 459.3L386.5 456.8L388.0 454.3L389.5 451.9L391.0 449.6L392.5 447.3L394.0 445.0L395.5 442.8L397.0 440.6L398.5 438.3L400.0 436.0L401.5 433.6L403.0 431.2L404.5 428.7L406.0 426.2L407.5 423.6L409.0 421.1L410.5 418.5L412.0 416.0L413.5 413.4L415.0 410.9L416.5 408.4L418.0 405.9L419.5 403.4L421.0 400.9L422.5 398.4L424.0 396.0L425.5 393.6L427.0 391.2L428.5 388.7L430.0 386.3L431.5 383.9L433.0 381.5L434.5 379.1L436.0 376.6L437.5 374.2L439.0 371.7L440.5 369.2L442.0 366.7L443.5 364.2L445.0 361.6L446.5 359.1L448.0 356.5L449.5 353.9L451.0 351.2L452.5 348.6L454.0 345.9L455.5 343.2L457.0 340.5L458.5 337.7L460.0 335.0L461.5 332.3L463.0 329.6L464.5 326.8L466.0 324.1L467.5 321.4L469.0 318.7L470.5 316.1L472.0 313.5L473.5 310.9L475.0 308.4L476.5 305.9L478.0 303.5L479.5 301.0L481.0 299.1L482.5 297.4L484.0 295.7L485.5 293.9L487.0 292.0L488.5 290.0L490.0 287.9L491.5 285.7L493.0 283.4L494.5 280.8L496.0 278.1L497.5 275.2L499.0 272.2L500.5 269.1L502.0 265.9L503.5 262.7L505.0 259.5L506.5 256.3L508.0 253.2L509.5 250.1L511.0 247.2L512.5 244.2L514.0 241.2L515.5 238.0L517.0 234.5L518.5 230.9L520.0 227.4L521.5 224.0L523.0 220.6L524.5 217.3L526.0 214.0L527.5 210.9L529.0 207.9L530.5 205.1L532.0 202.4L533.5 200.0L535.0 197.9L536.5 196.0L538.0 194.4L539.5 193.0L541.0 191.8L542.5 190.0L544.0 188.3L545.5 186.9L547.0 185.6L548.5 184.5L550.0 183.4L551.5 182.4L553.0 181.5L554.5 180.6L556.0 179.8L557.5 179.1L559.0 178.5L560.5 178.1L562.0 177.8L563.5 177.5L565.0 177.3L566.5 177.0L568.0 176.9L569.5 176.8L571.0 176.7L572.5 176.8L574.0 176.9L575.5 177.1L577.0 177.3L578.5 177.5L580.0 177.8L581.5 178.1L583.0 178.5L584.5 178.8L586.0 179.3L587.5 179.8L589.0 180.4L590.5 181.1L592.0 182.0L593.5 183.0L595.0 184.2L596.5 185.5L598.0 186.9L599.5 188.3L601.0 189.7L602.5 191.2L604.0 192.8L605.5 194.5L607.0 196.2L608.5 198.1L610.0 200.0L611.5 202.0L613.0 204.1L614.5 206.6L616.0 209.3L617.5 212.0L619.0 214.0L620.5 215.8L622.0 217.5L623.5 219.0L625.0 220.5L626.5 222.0L628.0 223.5L629.5 225.1L631.0 226.8L632.5 228.6L634.0 230.2L635.5 231.7L637.0 232.8L638.5 233.4L640.0 234.0L641.5 234.7L643.0 235.5L644.5 236.5L646.0 237.4L647.5 237.8L649.0 237.9L650.5 238.1L652.0 239.1L653.5 240.0L655.0 240.9L656.5 241.7L658.0 242.6L659.5 243.4L661.0 244.2L662.5 245.1L664.0 246.0L665.5 247.0L667.0 247.8L668.5 248.6L670.0 249.1L671.5 249.5L673.0 249.7L674.5 249.8L676.0 250.0L677.5 250.1L679.0 250.2L680.5 250.3L682.0 250.5L683.5 250.7L685.0 250.8L686.5 250.8L688.0 250.7L689.5 250.5L691.0 250.1L692.5 249.5L694.0 248.8L695.5 248.1L697.0 247.3L698.5 246.5L700.0 245.6L701.5 244.1L703.0 242.5L704.5 240.8L706.0 239.1L707.5 237.5L709.0 235.8L710.5 234.3L712.0 232.9L713.5 231.5L715.0 230.3L716.5 229.1L718.0 227.9L719.5 226.8L721.0 225.7L722.5 224.6L724.0 223.7L725.5 222.9L727.0 222.1L728.5 221.5L730.0 220.8L731.5 220.1L733.0 219.5L734.5 219.0L736.0 218.5L737.5 218.2L739.0 217.9L740.5 217.9L742.0 217.9L743.5 217.9L745.0 217.9L746.5 218.0L748.0 218.1L749.5 218.5L751.0 218.9L752.5 219.5L754.0 220.1L755.5 220.8L757.0 221.5L758.5 222.1L760.0 222.7L761.5 223.3L763.0 223.9L764.5 224.6L766.0 225.2L767.5 225.8L769.0 226.4L770.5 226.9L772.0 227.3L773.5 227.6L775.0 227.9L776.5 228.2L778.0 228.4L779.5 228.6L781.0 228.7L782.5 228.7L784.0 228.6L785.5 228.4L787.0 228.1L788.5 227.8L790.0 227.5L791.5 226.9L793.0 226.1L794.5 225.0L796.0 223.7L797.5 222.2L799.0 220.7L800.5 219.2L802.0 217.7L803.5 216.3L805.0 215.0L806.5 213.6L808.0 212.2L809.5 210.8L811.0 209.3L812.5 207.9L814.0 206.4L815.5 204.9L817.0 203.5L818.5 202.0L820.0 200.5L821.5 199.0L823.0 197.5L824.5 196.0L826.0 194.6L827.5 193.1L829.0 191.7L830.5 190.3L832.0 188.9L833.5 187.4L835.0 186.0L836.5 184.6L838.0 183.3L839.5 182.0L841.0 180.7L842.5 179.5L844.0 178.5L845.5 177.4L847.0 176.4L848.5 175.4L850.0 174.5L851.5 173.6L853.0 172.7L854.5 172.0L856.0 171.2L857.5 170.6L859.0 169.9L860.5 169.3L862.0 168.7L863.5 168.2L865.0 167.9L866.5 167.6L868.0 167.4L869.5 167.2L871.0 167.1L872.5 167.0L874.0 167.2L875.5 167.6L877.0 168.3L878.5 169.0L880.0 169.8L881.5 170.6L883.0 171.4L884.5 172.4L886.0 173.5L887.5 174.5L889.0 175.4L890.5 176.1L892.0 176.7L893.5 177.4L895.0 177.9L896.5 178.3L898.0 178.6L899.5 178.8L901.0 178.8L902.5 178.6L904.0 178.5L905.5 178.4L907.0 178.4L908.5 178.3L910.0 178.3L911.5 178.2L913.0 177.8L914.5 177.4L916.0 176.9L917.5 176.5L919.0 176.1L920.5 175.6L922.0 175.2L923.5 174.8L925.0 174.7L926.5 175.3L928.0 176.6L929.5 178.1L931.0 179.6L932.5 181.2L934.0 182.9L935.5 184.8L937.0 186.7L938.5 188.6L940.0 190.3L941.5 192.0L943.0 193.8L944.5 195.4L946.0 197.1L947.5 198.8M205.0 454.3L206.5 455.2L208.0 456.2L209.5 457.1L211.0 457.9L212.5 458.8L214.0 459.6L215.5 460.5L217.0 461.3L218.5 462.0L220.0 462.8L221.5 463.6L223.0 464.3L224.5 465.0L226.0 465.8L227.5 466.4L229.0 467.1L230.5 467.7L232.0 468.3L233.5 468.8L235.0 469.2L236.5 469.6L238.0 470.0L239.5 470.3L241.0 470.5L242.5 470.8L244.0 470.9L245.5 471.1L247.0 471.2L248.5 471.3L250.0 471.3L251.5 471.3L253.0 471.3L254.5 471.2L256.0 471.2L257.5 471.2L259.0 471.2L260.5 471.2L262.0 471.3L263.5 471.4L265.0 471.7L266.5 472.0L268.0 472.5L269.5 473.0L271.0 473.6L272.5 474.4L274.0 475.4L275.5 476.5L277.0 477.7L278.5 478.8L280.0 480.0L281.5 481.2L283.0 482.4L284.5 483.6L286.0 484.8L287.5 485.9L289.0 487.0L290.5 488.0L292.0 489.0L293.5 489.9L295.0 490.9L296.5 491.8L298.0 492.7L299.5 493.5L301.0 494.3L302.5 495.0L304.0 495.6L305.5 496.2L307.0 496.7L308.5 497.2L310.0 497.6L311.5 498.0L313.0 498.3L314.5 498.6L316.0 498.8L317.5 499.0L319.0 499.2L320.5 499.4L322.0 499.5L323.5 499.7L325.0 499.7L326.5 499.8L328.0 499.8L329.5 499.7L331.0 499.6L332.5 499.5L334.0 499.3L335.5 499.2L337.0 499.0L338.5 498.8L340.0 498.6L341.5 498.4L343.0 498.1L344.5 497.8L346.0 497.5L347.5 497.1L349.0 496.7L350.5 496.2L352.0 495.8L353.5 495.2L355.0 494.6L356.5 493.8L358.0 492.8L359.5 491.6L361.0 490.3L362.5 488.9L364.0 487.6L365.5 486.2L367.0 484.7L368.5 483.2L370.0 481.5L371.5 479.8L373.0 478.0L374.5 476.1L376.0 474.2L377.5 472.2L379.0 470.1L380.5 467.8L382.0 465.4L383.5 463.0L385.0 460.6L386.5 458.1L388.0 455.7L389.5 453.4L391.0 451.2L392.5 449.0L394.0 446.8L395.5 444.7L397.0 442.5L398.5 440.3L400.0 438.0L401.5 435.6L403.0 433.2L404.5 430.8L406.0 428.3L407.5 425.8L409.0 423.4L410.5 420.9L412.0 418.4L413.5 415.9L415.0 413.4L416.5 410.9L418.0 408.4L419.5 406.0L421.0 403.5L422.5 401.1L424.0 398.7L425.5 396.4L427.0 394.0L428.5 391.6L430.0 389.2L431.5 386.9L433.0 384.5L434.5 382.1L436.0 379.6L437.5 377.2L439.0 374.8L440.5 372.3L442.0 369.8L443.5 367.3L445.0 364.8L446.5 362.3L448.0 359.7L449.5 357.1L451.0 354.5L452.5 351.9L454.0 349.3L455.5 346.6L457.0 343.9L458.5 341.2L460.0 338.6L461.5 335.9L463.0 333.2L464.5 330.5L466.0 327.8L467.5 325.2L469.0 322.5L470.5 319.9L472.0 317.3L473.5 314.8L475.0 312.3L476.5 309.9L478.0 307.4L479.5 305.0L481.0 303.1L482.5 301.4L484.0 299.7L485.5 297.9L487.0 296.0L488.5 294.0L490.0 291.9L491.5 289.7L493.0 287.4L494.5 284.9L496.0 282.2L497.5 279.3L499.0 276.4L500.5 273.3L502.0 270.2L503.5 267.0L505.0 263.9L506.5 260.7L508.0 257.7L509.5 254.7L511.0 251.8L512.5 248.8L514.0 245.9L515.5 242.8L517.0 239.3L518.5 235.8L520.0 232.4L521.5 229.0L523.0 225.7L524.5 222.5L526.0 219.3L527.5 216.1L529.0 213.2L530.5 210.4L532.0 207.8L533.5 205.4L535.0 203.2L536.5 201.3L538.0 199.7L539.5 198.2L541.0 197.0L542.5 195.1L544.0 193.4L545.5 191.8L547.0 190.4L548.5 189.2L550.0 188.0L551.5 186.9L553.0 185.8L554.5 184.9L556.0 184.0L557.5 183.2L559.0 182.5L560.5 182.0L562.0 181.6L563.5 181.2L565.0 180.9L566.5 180.6L568.0 180.4L569.5 180.2L571.0 180.0L572.5 180.0L574.0 180.0L575.5 180.0L577.0 180.1L578.5 180.1L580.0 180.2L581.5 180.4L583.0 180.6L584.5 180.8L586.0 181.0L587.5 181.3L589.0 181.8L590.5 182.3L592.0 183.0L593.5 183.9L595.0 184.9L596.5 186.1L598.0 187.4L599.5 188.9L601.0 190.3L602.5 191.8L604.0 193.3L605.5 195.0L607.0 196.8L608.5 198.6L610.0 200.5L611.5 202.5L613.0 204.6L614.5 207.1L616.0 209.8L617.5 212.5L619.0 214.5L620.5 216.3L622.0 218.0L623.5 219.5L625.0 221.1L626.5 222.6L628.0 224.1L629.5 225.7L631.0 227.4L632.5 229.1L634.0 230.8L635.5 232.2L637.0 233.2L638.5 233.9L640.0 234.5L641.5 235.4L643.0 236.3L644.5 237.6L646.0 238.8L647.5 239.5L649.0 239.8L650.5 240.2L652.0 241.3L653.5 242.3L655.0 243.2L656.5 244.1L658.0 245.0L659.5 245.8L661.0 246.6L662.5 247.5L664.0 248.4L665.5 249.3L667.0 250.1L668.5 250.8L670.0 251.3L671.5 251.7L673.0 251.8L674.5 252.0L676.0 252.1L677.5 252.2L679.0 252.3L680.5 252.4L682.0 252.6L683.5 252.8L685.0 252.8L686.5 252.8L688.0 252.6L689.5 252.3L691.0 251.9L692.5 251.2L694.0 250.5L695.5 249.7L697.0 248.8L698.5 247.9L700.0 246.9L701.5 245.4L703.0 243.8L704.5 242.1L706.0 240.5L707.5 238.8L709.0 237.2L710.5 235.7L712.0 234.3L713.5 232.9L715.0 231.5L716.5 230.1L718.0 228.7L719.5 227.3L721.0 226.1L722.5 225.0L724.0 224.1L725.5 223.3L727.0 222.5L728.5 221.9L730.0 221.2L731.5 220.5L733.0 219.9L734.5 219.4L736.0 218.9L737.5 218.6L739.0 218.3L740.5 218.3L742.0 218.3L743.5 218.3L745.0 218.3L746.5 218.4L748.0 218.5L749.5 218.8L751.0 219.3L752.5 219.8L754.0 220.4L755.5 221.1L757.0 221.8L758.5 222.4L760.0 223.0L761.5 223.6L763.0 224.2L764.5 224.9L766.0 225.5L767.5 226.1L769.0 226.6L770.5 227.2L772.0 227.6L773.5 227.9L775.0 228.2L776.5 228.4L778.0 228.7L779.5 228.8L781.0 228.9L782.5 228.9L784.0 228.8L785.5 228.6L787.0 228.4L788.5 228.0L790.0 227.7L791.5 227.2L793.0 226.3L794.5 225.2L796.0 223.9L797.5 222.5L799.0 221.0L800.5 219.5L802.0 218.0L803.5 216.7L805.0 215.3L806.5 214.0L808.0 212.6L809.5 211.1L811.0 209.7L812.5 208.2L814.0 206.8L815.5 205.3L817.0 203.9L818.5 202.4L820.0 200.9L821.5 199.4L823.0 197.9L824.5 196.4L826.0 195.0L827.5 193.5L829.0 192.1L830.5 190.7L832.0 189.3L833.5 187.8L835.0 186.4L836.5 185.0L838.0 183.7L839.5 182.4L841.0 181.1L842.5 180.0L844.0 178.9L845.5 177.8L847.0 176.8L848.5 175.8L850.0 174.9L851.5 174.0L853.0 173.2L854.5 172.4L856.0 171.7L857.5 171.0L859.0 170.3L860.5 169.7L862.0 169.1L863.5 168.6L865.0 168.3L866.5 168.0L868.0 167.8L869.5 167.6L871.0 167.5L872.5 167.6L874.0 167.8L875.5 168.4L877.0 169.1L878.5 169.9L880.0 170.8L881.5 171.6L883.0 172.5L884.5 173.5L886.0 174.6L887.5 175.7L889.0 176.7L890.5 177.5L892.0 178.2L893.5 178.8L895.0 179.4L896.5 179.9L898.0 180.2L899.5 180.3L901.0 180.2L902.5 180.0L904.0 179.7L905.5 179.6L907.0 179.5L908.5 179.4L910.0 179.3L911.5 179.1L913.0 178.7L914.5 178.3L916.0 177.8L917.5 177.3L919.0 176.9L920.5 176.3L922.0 175.9L923.5 175.5L925.0 175.4L926.5 176.0L928.0 177.3L929.5 178.9L931.0 180.5L932.5 182.2L934.0 184.0L935.5 185.9L937.0 187.8L938.5 189.6L940.0 191.3L941.5 193.1L943.0 194.7L944.5 196.4L946.0 198.1L947.5 199.7M205.0 454.7L206.5 455.6L208.0 456.5L209.5 457.4L211.0 458.3L212.5 459.2L214.0 460.0L215.5 460.8L217.0 461.6L218.5 462.4L220.0 463.2L221.5 464.0L223.0 464.7L224.5 465.4L226.0 466.1L227.5 466.8L229.0 467.5L230.5 468.1L232.0 468.6L233.5 469.2L235.0 469.6L236.5 470.0L238.0 470.3L239.5 470.6L241.0 470.9L242.5 471.1L244.0 471.3L245.5 471.4L247.0 471.6L248.5 471.6L250.0 471.7L251.5 471.6L253.0 471.6L254.5 471.5L256.0 471.5L257.5 471.4L259.0 471.4L260.5 471.5L262.0 471.6L263.5 471.7L265.0 471.9L266.5 472.3L268.0 472.8L269.5 473.3L271.0 474.0L272.5 474.8L274.0 475.8L275.5 476.9L277.0 478.1L278.5 479.2L280.0 480.4L281.5 481.6L283.0 482.8L284.5 484.0L286.0 485.2L287.5 486.3L289.0 487.4L290.5 488.4L292.0 489.4L293.5 490.3L295.0 491.3L296.5 492.2L298.0 493.1L299.5 493.9L301.0 494.7L302.5 495.4L304.0 496.0L305.5 496.6L307.0 497.1L308.5 497.6L310.0 498.0L311.5 498.4L313.0 498.7L314.5 499.0L316.0 499.2L317.5 499.4L319.0 499.6L320.5 499.7L322.0 499.9L323.5 500.0L325.0 500.1L326.5 500.1L328.0 500.1L329.5 500.0L331.0 499.9L332.5 499.8L334.0 499.7L335.5 499.5L337.0 499.3L338.5 499.1L340.0 498.9L341.5 498.7L343.0 498.4L344.5 498.1L346.0 497.7L347.5 497.3L349.0 496.9L350.5 496.5L352.0 496.0L353.5 495.4L355.0 494.9L356.5 494.3L358.0 493.4L359.5 492.3L361.0 491.1L362.5 489.8L364.0 488.5L365.5 487.2L367.0 485.7L368.5 484.2L370.0 482.6L371.5 480.9L373.0 479.1L374.5 477.3L376.0 475.4L377.5 473.4L379.0 471.3L380.5 469.1L382.0 466.8L383.5 464.4L385.0 462.1L386.5 459.7L388.0 457.4L389.5 455.1L391.0 453.0L392.5 450.8L394.0 448.7L395.5 446.6L397.0 444.5L398.5 442.3L400.0 440.1L401.5 437.8L403.0 435.4L404.5 433.0L406.0 430.6L407.5 428.2L409.0 425.7L410.5 423.3L412.0 420.8L413.5 418.4L415.0 416.0L416.5 413.5L418.0 411.1L419.5 408.7L421.0 406.4L422.5 404.0L424.0 401.6L425.5 399.3L427.0 397.0L428.5 394.6L430.0 392.3L431.5 390.0L433.0 387.6L434.5 385.2L436.0 382.8L437.5 380.4L439.0 378.0L440.5 375.6L442.0 373.1L443.5 370.7L445.0 368.2L446.5 365.7L448.0 363.1L449.5 360.6L451.0 358.0L452.5 355.4L454.0 352.8L455.5 350.2L457.0 347.6L458.5 344.9L460.0 342.3L461.5 339.6L463.0 337.0L464.5 334.4L466.0 331.7L467.5 329.1L469.0 326.5L470.5 323.9L472.0 321.4L473.5 318.9L475.0 316.4L476.5 314.0L478.0 311.6L479.5 309.2L481.0 307.3L482.5 305.6L484.0 303.9L485.5 302.1L487.0 300.2L488.5 298.2L490.0 296.1L491.5 293.9L493.0 291.6L494.5 289.1L496.0 286.4L497.5 283.6L499.0 280.7L500.5 277.7L502.0 274.6L503.5 271.5L505.0 268.4L506.5 265.3L508.0 262.3L509.5 259.4L511.0 256.5L512.5 253.6L514.0 250.7L515.5 247.6L517.0 244.2L518.5 240.8L520.0 237.5L521.5 234.2L523.0 231.0L524.5 227.8L526.0 224.6L527.5 221.6L529.0 218.6L530.5 215.9L532.0 213.3L533.5 210.9L535.0 208.7L536.5 206.8L538.0 205.1L539.5 203.6L541.0 202.3L542.5 200.3L544.0 198.5L545.5 196.9L547.0 195.4L548.5 194.1L550.0 192.8L551.5 191.6L553.0 190.4L554.5 189.3L556.0 188.3L557.5 187.5L559.0 186.7L560.5 186.1L562.0 185.7L563.5 185.2L565.0 184.8L566.5 184.5L568.0 184.2L569.5 183.9L571.0 183.7L572.5 183.6L574.0 183.5L575.5 183.5L577.0 183.4L578.5 183.4L580.0 183.4L581.5 183.5L583.0 183.5L584.5 183.6L586.0 183.7L587.5 183.8L589.0 184.0L590.5 184.3L592.0 184.7L593.5 185.3L595.0 186.1L596.5 187.1L598.0 188.2L599.5 189.5L601.0 190.9L602.5 192.3L604.0 193.9L605.5 195.5L607.0 197.3L608.5 199.1L610.0 201.0L611.5 203.0L613.0 205.1L614.5 207.6L616.0 210.3L617.5 213.0L619.0 215.0L620.5 216.8L622.0 218.5L623.5 220.1L625.0 221.7L626.5 223.2L628.0 224.7L629.5 226.3L631.0 228.0L632.5 229.7L634.0 231.3L635.5 232.7L637.0 233.7L638.5 234.3L640.0 235.0L641.5 236.1L643.0 237.2L644.5 238.7L646.0 240.3L647.5 241.3L649.0 241.8L650.5 242.4L652.0 243.6L653.5 244.7L655.0 245.7L656.5 246.6L658.0 247.5L659.5 248.3L661.0 249.1L662.5 250.0L664.0 250.9L665.5 251.7L667.0 252.4L668.5 253.1L670.0 253.6L671.5 253.9L673.0 254.1L674.5 254.2L676.0 254.4L677.5 254.5L679.0 254.5L680.5 254.6L682.0 254.8L683.5 254.9L685.0 254.9L686.5 254.8L688.0 254.6L689.5 254.3L691.0 253.8L692.5 253.1L694.0 252.2L695.5 251.3L697.0 250.4L698.5 249.4L700.0 248.4L701.5 246.8L703.0 245.2L704.5 243.5L706.0 241.8L707.5 240.2L709.0 238.7L710.5 237.2L712.0 235.8L713.5 234.5L715.0 233.1L716.5 231.7L718.0 230.3L719.5 228.9L721.0 227.5L722.5 226.3L724.0 225.1L725.5 223.9L727.0 222.9L728.5 222.3L730.0 221.6L731.5 220.9L733.0 220.3L734.5 219.8L736.0 219.3L737.5 219.0L739.0 218.7L740.5 218.6L742.0 218.6L743.5 218.7L745.0 218.7L746.5 218.7L748.0 218.9L749.5 219.2L751.0 219.6L752.5 220.2L754.0 220.8L755.5 221.4L757.0 222.1L758.5 222.7L760.0 223.3L761.5 223.9L763.0 224.5L764.5 225.1L766.0 225.8L767.5 226.4L769.0 226.9L770.5 227.4L772.0 227.8L773.5 228.2L775.0 228.4L776.5 228.7L778.0 228.9L779.5 229.1L781.0 229.1L782.5 229.1L784.0 229.0L785.5 228.8L787.0 228.6L788.5 228.3L790.0 227.9L791.5 227.4L793.0 226.5L794.5 225.5L796.0 224.2L797.5 222.8L799.0 221.3L800.5 219.8L802.0 218.3L803.5 217.0L805.0 215.7L806.5 214.3L808.0 212.9L809.5 211.5L811.0 210.0L812.5 208.6L814.0 207.1L815.5 205.7L817.0 204.2L818.5 202.8L820.0 201.3L821.5 199.8L823.0 198.3L824.5 196.8L826.0 195.4L827.5 193.9L829.0 192.5L830.5 191.1L832.0 189.7L833.5 188.3L835.0 186.8L836.5 185.5L838.0 184.1L839.5 182.8L841.0 181.6L842.5 180.4L844.0 179.4L845.5 178.5L847.0 177.6L848.5 176.7L850.0 175.9L851.5 175.1L853.0 174.4L854.5 173.7L856.0 173.1L857.5 172.5L859.0 172.0L860.5 171.4L862.0 170.9L863.5 170.6L865.0 170.3L866.5 170.1L868.0 170.0L869.5 169.9L871.0 169.9L872.5 169.9L874.0 170.1L875.5 170.6L877.0 171.3L878.5 172.1L880.0 172.9L881.5 173.6L883.0 174.5L884.5 175.4L886.0 176.5L887.5 177.5L889.0 178.5L890.5 179.3L892.0 180.0L893.5 180.6L895.0 181.1L896.5 181.5L898.0 181.8L899.5 181.9L901.0 181.8L902.5 181.4L904.0 181.1L905.5 180.9L907.0 180.8L908.5 180.6L910.0 180.5L911.5 180.3L913.0 179.9L914.5 179.4L916.0 178.9L917.5 178.5L919.0 178.0L920.5 177.5L922.0 177.1L923.5 176.7L925.0 176.6L926.5 177.2L928.0 178.5L929.5 180.1L931.0 181.7L932.5 183.3L934.0 185.1L935.5 187.0L937.0 188.9L938.5 190.7L940.0 192.4L941.5 194.1L943.0 195.8L944.5 197.5L946.0 199.1L947.5 200.8M205.0 455.0L206.5 455.9L208.0 456.9L209.5 457.8L211.0 458.6L212.5 459.5L214.0 460.4L215.5 461.2L217.0 462.0L218.5 462.8L220.0 463.6L221.5 464.3L223.0 465.1L224.5 465.8L226.0 466.5L227.5 467.2L229.0 467.9L230.5 468.5L232.0 469.0L233.5 469.5L235.0 470.0L236.5 470.4L238.0 470.7L239.5 471.0L241.0 471.3L242.5 471.5L244.0 471.7L245.5 471.8L247.0 471.9L248.5 472.0L250.0 472.0L251.5 472.0L253.0 471.9L254.5 471.8L256.0 471.8L257.5 471.7L259.0 471.7L260.5 471.8L262.0 471.9L263.5 472.0L265.0 472.2L266.5 472.6L268.0 473.0L269.5 473.6L271.0 474.3L272.5 475.1L274.0 476.1L275.5 477.2L277.0 478.4L278.5 479.6L280.0 480.8L281.5 482.0L283.0 483.2L284.5 484.4L286.0 485.6L287.5 486.7L289.0 487.8L290.5 488.8L292.0 489.8L293.5 490.7L295.0 491.7L296.5 492.6L298.0 493.5L299.5 494.3L301.0 495.1L302.5 495.8L304.0 496.4L305.5 497.0L307.0 497.5L308.5 498.0L310.0 498.4L311.5 498.8L313.0 499.1L314.5 499.4L316.0 499.6L317.5 499.8L319.0 499.9L320.5 500.1L322.0 500.2L323.5 500.4L325.0 500.4L326.5 500.5L328.0 500.4L329.5 500.4L331.0 500.3L332.5 500.1L334.0 500.0L335.5 499.8L337.0 499.6L338.5 499.4L340.0 499.2L341.5 498.9L343.0 498.7L344.5 498.3L346.0 498.1L347.5 497.8L349.0 497.5L350.5 497.2L352.0 496.8L353.5 496.4L355.0 495.9L356.5 495.2L358.0 494.4L359.5 493.3L361.0 492.0L362.5 490.8L364.0 489.5L365.5 488.2L367.0 486.7L368.5 485.2L370.0 483.6L371.5 482.0L373.0 480.3L374.5 478.5L376.0 476.6L377.5 474.7L379.0 472.6L380.5 470.4L382.0 468.2L383.5 465.9L385.0 463.6L386.5 461.4L388.0 459.1L389.5 457.0L391.0 454.9L392.5 452.8L394.0 450.7L395.5 448.7L397.0 446.6L398.5 444.5L400.0 442.3L401.5 440.0L403.0 437.7L404.5 435.4L406.0 433.0L407.5 430.6L409.0 428.2L410.5 425.8L412.0 423.5L413.5 421.1L415.0 418.7L416.5 416.3L418.0 414.0L419.5 411.6L421.0 409.3L422.5 407.0L424.0 404.7L425.5 402.4L427.0 400.1L428.5 397.8L430.0 395.5L431.5 393.2L433.0 390.9L434.5 388.5L436.0 386.2L437.5 383.8L439.0 381.4L440.5 379.0L442.0 376.6L443.5 374.2L445.0 371.7L446.5 369.2L448.0 366.7L449.5 364.2L451.0 361.7L452.5 359.1L454.0 356.6L455.5 354.0L457.0 351.4L458.5 348.8L460.0 346.2L461.5 343.6L463.0 341.0L464.5 338.4L466.0 335.8L467.5 333.2L469.0 330.7L470.5 328.1L472.0 325.6L473.5 323.2L475.0 320.8L476.5 318.4L478.0 316.0L479.5 313.6L481.0 311.7L482.5 310.0L484.0 308.3L485.5 306.5L487.0 304.6L488.5 302.6L490.0 300.5L491.5 298.3L493.0 296.0L494.5 293.5L496.0 290.8L497.5 288.0L499.0 285.2L500.5 282.2L502.0 279.2L503.5 276.1L505.0 273.1L506.5 270.0L508.0 267.1L509.5 264.2L511.0 261.4L512.5 258.5L514.0 255.6L515.5 252.6L517.0 249.3L518.5 246.0L520.0 242.7L521.5 239.5L523.0 236.4L524.5 233.2L526.0 230.1L527.5 227.1L529.0 224.2L530.5 221.5L532.0 219.0L533.5 216.6L535.0 214.4L536.5 212.4L538.0 210.7L539.5 209.1L541.0 207.8L542.5 205.7L544.0 203.9L545.5 202.2L547.0 200.6L548.5 199.2L550.0 197.8L551.5 196.5L553.0 195.2L554.5 194.1L556.0 193.0L557.5 192.0L559.0 191.2L560.5 190.5L562.0 190.0L563.5 189.5L565.0 189.0L566.5 188.6L568.0 188.2L569.5 187.9L571.0 187.7L572.5 187.5L574.0 187.4L575.5 187.3L577.0 187.2L578.5 187.2L580.0 187.1L581.5 187.1L583.0 187.1L584.5 187.1L586.0 187.1L587.5 187.1L589.0 187.2L590.5 187.3L592.0 187.5L593.5 187.8L595.0 188.2L596.5 188.7L598.0 189.5L599.5 190.6L601.0 191.8L602.5 193.1L604.0 194.5L605.5 196.1L607.0 197.8L608.5 199.6L610.0 201.5L611.5 203.5L613.0 205.6L614.5 208.1L616.0 210.8L617.5 213.5L619.0 215.5L620.5 217.4L622.0 219.1L623.5 220.7L625.0 222.3L626.5 223.8L628.0 225.4L629.5 227.0L631.0 228.7L632.5 230.4L634.0 231.9L635.5 233.2L637.0 234.2L638.5 234.8L640.0 235.6L641.5 236.8L643.0 238.1L644.5 239.9L646.0 241.8L647.5 243.1L649.0 243.9L650.5 244.8L652.0 246.1L653.5 247.3L655.0 248.2L656.5 249.2L658.0 250.1L659.5 250.9L661.0 251.8L662.5 252.6L664.0 253.4L665.5 254.2L667.0 254.9L668.5 255.5L670.0 256.0L671.5 256.3L673.0 256.5L674.5 256.6L676.0 256.7L677.5 256.8L679.0 256.9L680.5 256.9L682.0 257.1L683.5 257.1L685.0 257.1L686.5 256.9L688.0 256.7L689.5 256.3L691.0 255.7L692.5 255.0L694.0 254.0L695.5 253.0L697.0 252.0L698.5 251.0L700.0 249.9L701.5 248.3L703.0 246.6L704.5 244.9L706.0 243.3L707.5 241.7L709.0 240.2L710.5 238.8L712.0 237.4L713.5 236.1L715.0 234.7L716.5 233.3L718.0 231.9L719.5 230.6L721.0 229.3L722.5 228.0L724.0 226.8L725.5 225.7L727.0 224.7L728.5 223.8L730.0 222.8L731.5 221.9L733.0 220.9L734.5 220.2L736.0 219.7L737.5 219.3L739.0 219.1L740.5 219.0L742.0 219.0L743.5 219.0L745.0 219.1L746.5 219.1L748.0 219.3L749.5 219.5L751.0 220.0L752.5 220.5L754.0 221.1L755.5 221.7L757.0 222.4L758.5 223.0L760.0 223.6L761.5 224.2L763.0 224.8L764.5 225.4L766.0 226.0L767.5 226.6L769.0 227.2L770.5 227.7L772.0 228.1L773.5 228.4L775.0 228.7L776.5 229.0L778.0 229.2L779.5 229.3L781.0 229.4L782.5 229.4L784.0 229.3L785.5 229.1L787.0 228.8L788.5 228.5L790.0 228.1L791.5 227.6L793.0 226.8L794.5 225.7L796.0 224.4L797.5 223.0L799.0 221.7L800.5 220.4L802.0 219.1L803.5 217.9L805.0 216.7L806.5 215.5L808.0 214.3L809.5 213.1L811.0 211.7L812.5 210.3L814.0 208.9L815.5 207.4L817.0 206.0L818.5 204.6L820.0 203.1L821.5 201.7L823.0 200.2L824.5 198.8L826.0 197.3L827.5 195.9L829.0 194.5L830.5 193.1L832.0 191.7L833.5 190.4L835.0 189.0L836.5 187.6L838.0 186.3L839.5 185.0L841.0 183.9L842.5 182.9L844.0 181.9L845.5 181.0L847.0 180.1L848.5 179.3L850.0 178.5L851.5 177.7L853.0 177.0L854.5 176.3L856.0 175.7L857.5 175.1L859.0 174.6L860.5 174.0L862.0 173.5L863.5 173.1L865.0 172.8L866.5 172.6L868.0 172.4L869.5 172.3L871.0 172.3L872.5 172.4L874.0 172.6L875.5 173.0L877.0 173.6L878.5 174.3L880.0 175.1L881.5 175.7L883.0 176.5L884.5 177.4L886.0 178.4L887.5 179.4L889.0 180.4L890.5 181.1L892.0 181.8L893.5 182.5L895.0 182.9L896.5 183.3L898.0 183.6L899.5 183.6L901.0 183.4L902.5 182.9L904.0 182.5L905.5 182.3L907.0 182.1L908.5 181.9L910.0 181.7L911.5 181.5L913.0 181.1L914.5 180.7L916.0 180.2L917.5 179.7L919.0 179.3L920.5 178.8L922.0 178.3L923.5 178.0L925.0 177.8L926.5 178.4L928.0 179.7L929.5 181.3L931.0 182.9L932.5 184.6L934.0 186.3L935.5 188.2L937.0 190.0L938.5 191.8L940.0 193.5L941.5 195.2L943.0 196.9L944.5 198.6L946.0 200.2L947.5 201.8M205.0 455.8L206.5 456.7L208.0 457.6L209.5 458.6L211.0 459.4L212.5 460.3L214.0 461.2L215.5 462.0L217.0 462.8L218.5 463.6L220.0 464.4L221.5 465.2L223.0 465.9L224.5 466.7L226.0 467.4L227.5 468.1L229.0 468.7L230.5 469.3L232.0 469.9L233.5 470.4L235.0 470.9L236.5 471.2L238.0 471.6L239.5 471.9L241.0 472.1L242.5 472.3L244.0 472.5L245.5 472.6L247.0 472.7L248.5 472.7L250.0 472.7L251.5 472.7L253.0 472.6L254.5 472.5L256.0 472.4L257.5 472.4L259.0 472.4L260.5 472.4L262.0 472.5L263.5 472.6L265.0 472.9L266.5 473.2L268.0 473.7L269.5 474.4L271.0 475.0L272.5 475.9L274.0 476.9L275.5 478.1L277.0 479.3L278.5 480.5L280.0 481.7L281.5 483.0L283.0 484.2L284.5 485.4L286.0 486.5L287.5 487.7L289.0 488.7L290.5 489.7L292.0 490.7L293.5 491.7L295.0 492.6L296.5 493.5L298.0 494.4L299.5 495.2L301.0 496.0L302.5 496.7L304.0 497.3L305.5 497.9L307.0 498.5L308.5 498.9L310.0 499.3L311.5 499.7L313.0 500.0L314.5 500.3L316.0 500.5L317.5 500.6L319.0 500.8L320.5 501.0L322.0 501.1L323.5 501.2L325.0 501.3L326.5 501.3L328.0 501.3L329.5 501.2L331.0 501.1L332.5 500.9L334.0 500.7L335.5 500.6L337.0 500.4L338.5 500.1L340.0 499.9L341.5 499.8L343.0 499.7L344.5 499.5L346.0 499.2L347.5 499.0L349.0 498.6L350.5 498.3L352.0 497.9L353.5 497.4L355.0 496.9L356.5 496.2L358.0 495.3L359.5 494.2L361.0 493.0L362.5 491.8L364.0 490.5L365.5 489.2L367.0 487.8L368.5 486.3L370.0 484.8L371.5 483.2L373.0 481.5L374.5 479.7L376.0 477.9L377.5 476.0L379.0 474.0L380.5 471.9L382.0 469.7L383.5 467.5L385.0 465.3L386.5 463.1L388.0 461.0L389.5 458.9L391.0 456.8L392.5 454.8L394.0 452.8L395.5 450.8L397.0 448.8L398.5 446.7L400.0 444.6L401.5 442.4L403.0 440.1L404.5 437.8L406.0 435.5L407.5 433.2L409.0 430.9L410.5 428.5L412.0 426.2L413.5 423.9L415.0 421.6L416.5 419.2L418.0 416.9L419.5 414.7L421.0 412.4L422.5 410.1L424.0 407.9L425.5 405.6L427.0 403.4L428.5 401.2L430.0 398.9L431.5 396.6L433.0 394.3L434.5 392.0L436.0 389.7L437.5 387.3L439.0 385.0L440.5 382.6L442.0 380.2L443.5 377.8L445.0 375.4L446.5 372.9L448.0 370.5L449.5 368.0L451.0 365.5L452.5 363.0L454.0 360.5L455.5 358.0L457.0 355.4L458.5 352.9L460.0 350.3L461.5 347.8L463.0 345.2L464.5 342.7L466.0 340.1L467.5 337.6L469.0 335.1L470.5 332.5L472.0 330.1L473.5 327.7L475.0 325.3L476.5 322.9L478.0 320.6L479.5 318.2L481.0 316.3L482.5 314.6L484.0 312.8L485.5 311.0L487.0 309.1L488.5 307.1L490.0 305.0L491.5 302.8L493.0 300.5L494.5 298.0L496.0 295.4L497.5 292.6L499.0 289.8L500.5 286.8L502.0 283.9L503.5 280.9L505.0 277.9L506.5 274.9L508.0 272.0L509.5 269.1L511.0 266.4L512.5 263.5L514.0 260.7L515.5 257.8L517.0 254.5L518.5 251.3L520.0 248.1L521.5 244.9L523.0 241.9L524.5 238.8L526.0 235.8L527.5 232.8L529.0 230.0L530.5 227.3L532.0 224.8L533.5 222.4L535.0 220.2L536.5 218.2L538.0 216.4L539.5 214.8L541.0 213.4L542.5 211.3L544.0 209.4L545.5 207.6L547.0 206.0L548.5 204.5L550.0 203.0L551.5 201.6L553.0 200.3L554.5 199.0L556.0 197.8L557.5 196.7L559.0 195.8L560.5 195.1L562.0 194.5L563.5 194.0L565.0 193.5L566.5 193.0L568.0 192.6L569.5 192.2L571.0 191.9L572.5 191.7L574.0 191.6L575.5 191.5L577.0 191.4L578.5 191.3L580.0 191.2L581.5 191.2L583.0 191.1L584.5 191.1L586.0 191.1L587.5 191.0L589.0 191.1L590.5 191.1L592.0 191.1L593.5 191.2L595.0 191.4L596.5 191.6L598.0 192.0L599.5 192.5L601.0 193.3L602.5 194.3L604.0 195.5L605.5 196.9L607.0 198.5L608.5 200.2L610.0 202.1L611.5 204.1L613.0 206.1L614.5 208.6L616.0 211.3L617.5 214.0L619.0 216.0L620.5 217.9L622.0 219.6L623.5 221.3L625.0 222.9L626.5 224.5L628.0 226.1L629.5 227.6L631.0 229.3L632.5 231.0L634.0 232.5L635.5 233.8L637.0 234.7L638.5 235.3L640.0 236.2L641.5 237.5L643.0 239.0L644.5 241.2L646.0 243.4L647.5 245.0L649.0 246.1L650.5 247.2L652.0 248.6L653.5 249.9L655.0 250.9L656.5 251.9L658.0 252.8L659.5 253.7L661.0 254.5L662.5 255.3L664.0 256.1L665.5 256.8L667.0 257.5L668.5 258.1L670.0 258.5L671.5 258.8L673.0 258.9L674.5 259.1L676.0 259.2L677.5 259.3L679.0 259.3L680.5 259.4L682.0 259.4L683.5 259.4L685.0 259.3L686.5 259.1L688.0 258.8L689.5 258.4L691.0 257.8L692.5 256.9L694.0 255.9L695.5 254.8L697.0 253.7L698.5 252.6L700.0 251.4L701.5 249.8L703.0 248.1L704.5 246.4L706.0 244.8L707.5 243.3L709.0 241.8L710.5 240.4L712.0 239.1L713.5 237.8L715.0 236.4L716.5 235.1L718.0 233.7L719.5 232.4L721.0 231.1L722.5 229.9L724.0 228.7L725.5 227.6L727.0 226.7L728.5 225.7L730.0 224.8L731.5 223.8L733.0 222.9L734.5 222.1L736.0 221.3L737.5 220.6L739.0 220.0L740.5 219.7L742.0 219.6L743.5 219.6L745.0 219.7L746.5 219.7L748.0 219.8L749.5 220.1L751.0 220.5L752.5 221.1L754.0 221.6L755.5 222.3L757.0 222.9L758.5 223.5L760.0 224.1L761.5 224.7L763.0 225.3L764.5 225.9L766.0 226.5L767.5 227.1L769.0 227.6L770.5 228.1L772.0 228.5L773.5 228.8L775.0 229.1L776.5 229.4L778.0 229.6L779.5 229.7L781.0 229.8L782.5 229.7L784.0 229.6L785.5 229.5L787.0 229.3L788.5 229.1L790.0 228.8L791.5 228.4L793.0 227.7L794.5 226.8L796.0 225.7L797.5 224.4L799.0 223.2L800.5 221.9L802.0 220.7L803.5 219.6L805.0 218.5L806.5 217.3L808.0 216.1L809.5 214.9L811.0 213.6L812.5 212.2L814.0 210.8L815.5 209.4L817.0 208.1L818.5 206.7L820.0 205.3L821.5 203.9L823.0 202.4L824.5 201.0L826.0 199.6L827.5 198.2L829.0 196.8L830.5 195.5L832.0 194.2L833.5 192.8L835.0 191.5L836.5 190.2L838.0 188.9L839.5 187.6L841.0 186.5L842.5 185.5L844.0 184.6L845.5 183.7L847.0 182.8L848.5 182.0L850.0 181.2L851.5 180.5L853.0 179.7L854.5 179.1L856.0 178.5L857.5 177.9L859.0 177.3L860.5 176.8L862.0 176.2L863.5 175.8L865.0 175.5L866.5 175.3L868.0 175.1L869.5 174.9L871.0 174.9L872.5 175.0L874.0 175.1L875.5 175.5L877.0 176.1L878.5 176.7L880.0 177.4L881.5 178.0L883.0 178.7L884.5 179.5L886.0 180.5L887.5 181.5L889.0 182.4L890.5 183.1L892.0 183.8L893.5 184.4L895.0 184.8L896.5 185.2L898.0 185.4L899.5 185.4L901.0 185.1L902.5 184.5L904.0 184.0L905.5 183.7L907.0 183.5L908.5 183.3L910.0 183.1L911.5 182.8L913.0 182.4L914.5 182.0L916.0 181.5L917.5 181.0L919.0 180.6L920.5 180.1L922.0 179.6L923.5 179.3L925.0 179.1L926.5 179.7L928.0 180.9L929.5 182.6L931.0 184.2L932.5 185.9L934.0 187.6L935.5 189.4L937.0 191.2L938.5 193.0L940.0 194.7L941.5 196.4L943.0 198.0L944.5 199.7L946.0 201.3L947.5 203.0M205.0 457.4L206.5 458.3L208.0 459.3L209.5 460.2L211.0 461.1L212.5 462.0L214.0 462.8L215.5 463.7L217.0 464.5L218.5 465.3L220.0 466.1L221.5 466.9L223.0 467.7L224.5 468.5L226.0 469.2L227.5 469.9L229.0 470.6L230.5 471.2L232.0 471.7L233.5 472.2L235.0 472.7L236.5 473.1L238.0 473.4L239.5 473.7L241.0 473.9L242.5 474.0L244.0 474.2L245.5 474.3L247.0 474.3L248.5 474.3L250.0 474.3L251.5 474.2L253.0 474.1L254.5 474.0L256.0 473.9L257.5 473.8L259.0 473.7L260.5 473.7L262.0 473.8L263.5 474.0L265.0 474.2L266.5 474.6L268.0 475.2L269.5 475.9L271.0 476.6L272.5 477.5L274.0 478.6L275.5 479.9L277.0 481.2L278.5 482.5L280.0 483.7L281.5 485.0L283.0 486.2L284.5 487.4L286.0 488.6L287.5 489.7L289.0 490.8L290.5 491.7L292.0 492.7L293.5 493.7L295.0 494.6L296.5 495.5L298.0 496.4L299.5 497.2L301.0 498.0L302.5 498.7L304.0 499.4L305.5 499.9L307.0 500.5L308.5 500.9L310.0 501.3L311.5 501.6L313.0 501.9L314.5 502.2L316.0 502.4L317.5 502.6L319.0 502.7L320.5 502.9L322.0 503.0L323.5 503.1L325.0 503.1L326.5 503.1L328.0 503.1L329.5 502.9L331.0 502.8L332.5 502.6L334.0 502.4L335.5 502.1L337.0 501.9L338.5 501.7L340.0 501.4L341.5 501.2L343.0 501.1L344.5 500.8L346.0 500.5L347.5 500.2L349.0 499.8L350.5 499.4L352.0 499.0L353.5 498.5L355.0 497.9L356.5 497.3L358.0 496.4L359.5 495.3L361.0 494.1L362.5 492.8L364.0 491.6L365.5 490.3L367.0 488.9L368.5 487.5L370.0 486.0L371.5 484.4L373.0 482.7L374.5 481.0L376.0 479.2L377.5 477.4L379.0 475.4L380.5 473.4L382.0 471.3L383.5 469.1L385.0 467.0L386.5 464.9L388.0 462.9L389.5 460.9L391.0 458.9L392.5 457.0L394.0 455.0L395.5 453.1L397.0 451.1L398.5 449.1L400.0 447.0L401.5 444.9L403.0 442.6L404.5 440.4L406.0 438.1L407.5 435.9L409.0 433.6L410.5 431.3L412.0 429.1L413.5 426.8L415.0 424.6L416.5 422.3L418.0 420.1L419.5 417.8L421.0 415.6L422.5 413.4L424.0 411.2L425.5 409.0L427.0 406.8L428.5 404.7L430.0 402.4L431.5 400.2L433.0 397.9L434.5 395.7L436.0 393.4L437.5 391.1L439.0 388.7L440.5 386.4L442.0 384.0L443.5 381.6L445.0 379.2L446.5 376.8L448.0 374.4L449.5 372.0L451.0 369.5L452.5 367.1L454.0 364.6L455.5 362.1L457.0 359.6L458.5 357.1L460.0 354.6L461.5 352.1L463.0 349.6L464.5 347.1L466.0 344.6L467.5 342.1L469.0 339.6L470.5 337.2L472.0 334.8L473.5 332.4L475.0 330.0L476.5 327.7L478.0 325.4L479.5 323.0L481.0 321.1L482.5 319.4L484.0 317.6L485.5 315.8L487.0 313.8L488.5 311.8L490.0 309.7L491.5 307.5L493.0 305.1L494.5 302.7L496.0 300.1L497.5 297.4L499.0 294.5L500.5 291.7L502.0 288.7L503.5 285.8L505.0 282.8L506.5 279.9L508.0 277.1L509.5 274.2L511.0 271.5L512.5 268.7L514.0 265.9L515.5 263.0L517.0 259.8L518.5 256.7L520.0 253.6L521.5 250.5L523.0 247.5L524.5 244.6L526.0 241.6L527.5 238.7L529.0 235.9L530.5 233.2L532.0 230.7L533.5 228.3L535.0 226.1L536.5 224.1L538.0 222.3L539.5 220.6L541.0 219.1L542.5 217.0L544.0 215.0L545.5 213.2L547.0 211.6L548.5 210.0L550.0 208.5L551.5 207.0L553.0 205.5L554.5 204.1L556.0 202.9L557.5 201.7L559.0 200.8L560.5 200.0L562.0 199.4L563.5 198.8L565.0 198.2L566.5 197.7L568.0 197.2L569.5 196.8L571.0 196.5L572.5 196.2L574.0 196.1L575.5 196.0L577.0 195.9L578.5 195.8L580.0 195.7L581.5 195.6L583.0 195.5L584.5 195.5L586.0 195.4L587.5 195.4L589.0 195.4L590.5 195.4L592.0 195.4L593.5 195.4L595.0 195.5L596.5 195.5L598.0 195.6L599.5 195.8L601.0 196.2L602.5 196.8L604.0 197.6L605.5 198.5L607.0 199.7L608.5 201.2L610.0 202.8L611.5 204.7L613.0 206.7L614.5 209.1L616.0 211.9L617.5 214.5L619.0 216.5L620.5 218.4L622.0 220.2L623.5 221.9L625.0 223.5L626.5 225.1L628.0 226.7L629.5 228.3L631.0 230.0L632.5 231.6L634.0 233.1L635.5 234.3L637.0 235.3L638.5 235.8L640.0 236.8L641.5 238.3L643.0 240.0L644.5 242.5L646.0 245.1L647.5 247.1L649.0 248.3L650.5 249.7L652.0 251.3L653.5 252.7L655.0 253.7L656.5 254.7L658.0 255.7L659.5 256.6L661.0 257.4L662.5 258.2L664.0 258.9L665.5 259.6L667.0 260.2L668.5 260.7L670.0 261.1L671.5 261.4L673.0 261.5L674.5 261.7L676.0 261.8L677.5 261.8L679.0 261.9L680.5 261.9L682.0 261.9L683.5 261.9L685.0 261.7L686.5 261.4L688.0 261.1L689.5 260.6L691.0 259.9L692.5 259.0L694.0 257.9L695.5 256.7L697.0 255.5L698.5 254.3L700.0 253.0L701.5 251.3L703.0 249.6L704.5 247.9L706.0 246.4L707.5 244.9L709.0 243.5L710.5 242.1L712.0 240.8L713.5 239.6L715.0 238.2L716.5 236.9L718.0 235.6L719.5 234.3L721.0 233.0L722.5 231.8L724.0 230.7L725.5 229.6L727.0 228.7L728.5 227.8L730.0 226.9L731.5 226.0L733.0 225.1L734.5 224.2L736.0 223.5L737.5 222.8L739.0 222.2L740.5 221.9L742.0 221.8L743.5 221.8L745.0 221.8L746.5 221.9L748.0 222.0L749.5 222.2L751.0 222.6L752.5 223.0L754.0 223.5L755.5 224.1L757.0 224.7L758.5 225.3L760.0 225.9L761.5 226.4L763.0 227.0L764.5 227.5L766.0 228.1L767.5 228.7L769.0 229.2L770.5 229.6L772.0 230.0L773.5 230.3L775.0 230.6L776.5 230.8L778.0 231.0L779.5 231.1L781.0 231.2L782.5 231.1L784.0 230.9L785.5 230.8L787.0 230.6L788.5 230.3L790.0 230.1L791.5 229.6L793.0 229.0L794.5 228.1L796.0 227.1L797.5 225.9L799.0 224.8L800.5 223.6L802.0 222.4L803.5 221.4L805.0 220.3L806.5 219.2L808.0 218.1L809.5 216.9L811.0 215.6L812.5 214.3L814.0 212.9L815.5 211.6L817.0 210.3L818.5 208.9L820.0 207.5L821.5 206.2L823.0 204.8L824.5 203.4L826.0 202.0L827.5 200.6L829.0 199.3L830.5 198.0L832.0 196.7L833.5 195.4L835.0 194.1L836.5 192.8L838.0 191.6L839.5 190.4L841.0 189.3L842.5 188.3L844.0 187.4L845.5 186.5L847.0 185.7L848.5 184.9L850.0 184.1L851.5 183.4L853.0 182.7L854.5 182.0L856.0 181.4L857.5 180.8L859.0 180.2L860.5 179.7L862.0 179.1L863.5 178.7L865.0 178.3L866.5 178.0L868.0 177.8L869.5 177.7L871.0 177.6L872.5 177.7L874.0 177.8L875.5 178.2L877.0 178.7L878.5 179.2L880.0 179.8L881.5 180.3L883.0 181.0L884.5 181.8L886.0 182.6L887.5 183.6L889.0 184.5L890.5 185.2L892.0 185.9L893.5 186.4L895.0 186.8L896.5 187.1L898.0 187.3L899.5 187.3L901.0 186.9L902.5 186.2L904.0 185.6L905.5 185.2L907.0 184.9L908.5 184.7L910.0 184.4L911.5 184.1L913.0 183.8L914.5 183.3L916.0 182.9L917.5 182.4L919.0 182.0L920.5 181.5L922.0 181.0L923.5 180.7L925.0 180.5L926.5 181.0L928.0 182.3L929.5 183.9L931.0 185.6L932.5 187.2L934.0 189.0L935.5 190.7L937.0 192.5L938.5 194.2L940.0 195.9L941.5 197.6L943.0 199.2L944.5 200.9L946.0 202.5L947.5 204.1M205.0 459.1L206.5 460.1L208.0 461.0L209.5 462.0L211.0 462.9L212.5 463.8L214.0 464.6L215.5 465.5L217.0 466.3L218.5 467.2L220.0 468.0L221.5 468.8L223.0 469.6L224.5 470.4L226.0 471.2L227.5 471.9L229.0 472.5L230.5 473.1L232.0 473.7L233.5 474.2L235.0 474.6L236.5 475.0L238.0 475.3L239.5 475.6L241.0 475.8L242.5 475.9L244.0 476.0L245.5 476.0L247.0 476.1L248.5 476.0L250.0 476.0L251.5 475.9L253.0 475.7L254.5 475.5L256.0 475.4L257.5 475.2L259.0 475.2L260.5 475.2L262.0 475.3L263.5 475.5L265.0 475.7L266.5 476.1L268.0 476.7L269.5 477.5L271.0 478.3L272.5 479.3L274.0 480.5L275.5 481.8L277.0 483.2L278.5 484.5L280.0 485.9L281.5 487.2L283.0 488.4L284.5 489.6L286.0 490.8L287.5 491.9L289.0 492.9L290.5 493.9L292.0 494.9L293.5 495.8L295.0 496.8L296.5 497.7L298.0 498.5L299.5 499.4L301.0 500.2L302.5 500.9L304.0 501.5L305.5 502.1L307.0 502.7L308.5 503.1L310.0 503.4L311.5 503.8L313.0 504.0L314.5 504.3L316.0 504.4L317.5 504.6L319.0 504.8L320.5 504.9L322.0 505.0L323.5 505.1L325.0 505.1L326.5 505.1L328.0 505.0L329.5 504.8L331.0 504.6L332.5 504.4L334.0 504.1L335.5 503.9L337.0 503.6L338.5 503.3L340.0 503.0L341.5 502.8L343.0 502.5L344.5 502.2L346.0 501.9L347.5 501.5L349.0 501.1L350.5 500.6L352.0 500.2L353.5 499.7L355.0 499.1L356.5 498.4L358.0 497.5L359.5 496.4L361.0 495.2L362.5 493.9L364.0 492.7L365.5 491.4L367.0 490.1L368.5 488.7L370.0 487.3L371.5 485.7L373.0 484.1L374.5 482.4L376.0 480.6L377.5 478.8L379.0 476.9L380.5 474.9L382.0 472.9L383.5 470.9L385.0 468.8L386.5 466.8L388.0 464.9L389.5 462.9L391.0 461.1L392.5 459.2L394.0 457.3L395.5 455.5L397.0 453.5L398.5 451.6L400.0 449.5L401.5 447.4L403.0 445.3L404.5 443.1L406.0 440.9L407.5 438.7L409.0 436.5L410.5 434.3L412.0 432.1L413.5 429.9L415.0 427.7L416.5 425.5L418.0 423.3L419.5 421.1L421.0 419.0L422.5 416.8L424.0 414.7L425.5 412.6L427.0 410.4L428.5 408.3L430.0 406.1L431.5 403.9L433.0 401.7L434.5 399.5L436.0 397.2L437.5 394.9L439.0 392.6L440.5 390.3L442.0 388.0L443.5 385.6L445.0 383.3L446.5 380.9L448.0 378.5L449.5 376.1L451.0 373.7L452.5 371.3L454.0 368.9L455.5 366.5L457.0 364.0L458.5 361.6L460.0 359.1L461.5 356.7L463.0 354.2L464.5 351.8L466.0 349.3L467.5 346.9L469.0 344.4L470.5 342.0L472.0 339.6L473.5 337.3L475.0 335.0L476.5 332.7L478.0 330.4L479.5 328.1L481.0 326.2L482.5 324.4L484.0 322.6L485.5 320.7L487.0 318.7L488.5 316.7L490.0 314.6L491.5 312.3L493.0 310.0L494.5 307.5L496.0 304.9L497.5 302.2L499.0 299.5L500.5 296.6L502.0 293.7L503.5 290.8L505.0 288.0L506.5 285.1L508.0 282.3L509.5 279.5L511.0 276.8L512.5 274.0L514.0 271.3L515.5 268.4L517.0 265.3L518.5 262.3L520.0 259.2L521.5 256.3L523.0 253.3L524.5 250.4L526.0 247.5L527.5 244.7L529.0 241.9L530.5 239.3L532.0 236.8L533.5 234.4L535.0 232.2L536.5 230.1L538.0 228.3L539.5 226.6L541.0 225.0L542.5 222.8L544.0 220.9L545.5 219.0L547.0 217.3L548.5 215.7L550.0 214.1L551.5 212.5L553.0 211.0L554.5 209.5L556.0 208.2L557.5 207.0L559.0 206.0L560.5 205.1L562.0 204.5L563.5 203.8L565.0 203.2L566.5 202.6L568.0 202.1L569.5 201.7L571.0 201.3L572.5 201.1L574.0 200.9L575.5 200.8L577.0 200.7L578.5 200.6L580.0 200.5L581.5 200.4L583.0 200.3L584.5 200.2L586.0 200.2L587.5 200.1L589.0 200.1L590.5 200.1L592.0 200.1L593.5 200.1L595.0 200.1L596.5 200.1L598.0 200.1L599.5 200.2L601.0 200.4L602.5 200.8L604.0 201.2L605.5 201.7L607.0 202.3L608.5 203.2L610.0 204.3L611.5 205.8L613.0 207.5L614.5 209.7L616.0 212.4L617.5 215.0L619.0 217.1L620.5 219.0L622.0 220.8L623.5 222.5L625.0 224.2L626.5 225.8L628.0 227.4L629.5 229.0L631.0 230.7L632.5 232.3L634.0 233.7L635.5 234.9L637.0 235.8L638.5 236.4L640.0 237.4L641.5 239.1L643.0 241.1L644.5 243.9L646.0 246.8L647.5 249.2L649.0 250.7L650.5 252.3L652.0 254.1L653.5 255.5L655.0 256.7L656.5 257.7L658.0 258.7L659.5 259.6L661.0 260.4L662.5 261.2L664.0 261.9L665.5 262.5L667.0 263.0L668.5 263.5L670.0 263.8L671.5 264.1L673.0 264.2L674.5 264.3L676.0 264.4L677.5 264.5L679.0 264.5L680.5 264.5L682.0 264.5L683.5 264.4L685.0 264.2L686.5 263.8L688.0 263.4L689.5 262.9L691.0 262.1L692.5 261.1L694.0 259.9L695.5 258.6L697.0 257.3L698.5 256.0L700.0 254.7L701.5 253.0L703.0 251.2L704.5 249.6L706.0 248.0L707.5 246.6L709.0 245.2L710.5 243.9L712.0 242.6L713.5 241.4L715.0 240.1L716.5 238.8L718.0 237.6L719.5 236.3L721.0 235.1L722.5 233.9L724.0 232.8L725.5 231.8L727.0 230.8L728.5 230.0L730.0 229.1L731.5 228.2L733.0 227.4L734.5 226.6L736.0 225.8L737.5 225.2L739.0 224.6L740.5 224.3L742.0 224.2L743.5 224.2L745.0 224.2L746.5 224.2L748.0 224.2L749.5 224.4L751.0 224.7L752.5 225.1L754.0 225.6L755.5 226.1L757.0 226.7L758.5 227.2L760.0 227.7L761.5 228.2L763.0 228.8L764.5 229.3L766.0 229.9L767.5 230.4L769.0 230.8L770.5 231.3L772.0 231.7L773.5 231.9L775.0 232.2L776.5 232.4L778.0 232.6L779.5 232.7L781.0 232.6L782.5 232.5L784.0 232.4L785.5 232.2L787.0 232.0L788.5 231.7L790.0 231.4L791.5 231.0L793.0 230.3L794.5 229.5L796.0 228.6L797.5 227.5L799.0 226.5L800.5 225.4L802.0 224.3L803.5 223.3L805.0 222.3L806.5 221.2L808.0 220.1L809.5 219.0L811.0 217.8L812.5 216.5L814.0 215.2L815.5 213.9L817.0 212.6L818.5 211.3L820.0 209.9L821.5 208.6L823.0 207.2L824.5 205.9L826.0 204.5L827.5 203.2L829.0 201.9L830.5 200.7L832.0 199.4L833.5 198.1L835.0 196.9L836.5 195.7L838.0 194.4L839.5 193.3L841.0 192.2L842.5 191.3L844.0 190.4L845.5 189.5L847.0 188.7L848.5 187.9L850.0 187.2L851.5 186.4L853.0 185.8L854.5 185.1L856.0 184.5L857.5 183.9L859.0 183.3L860.5 182.7L862.0 182.2L863.5 181.7L865.0 181.3L866.5 181.0L868.0 180.7L869.5 180.6L871.0 180.5L872.5 180.5L874.0 180.6L875.5 180.9L877.0 181.4L878.5 181.8L880.0 182.3L881.5 182.8L883.0 183.4L884.5 184.1L886.0 184.9L887.5 185.8L889.0 186.7L890.5 187.4L892.0 188.1L893.5 188.6L895.0 188.9L896.5 189.1L898.0 189.3L899.5 189.2L901.0 188.8L902.5 188.0L904.0 187.2L905.5 186.8L907.0 186.4L908.5 186.1L910.0 185.9L911.5 185.6L913.0 185.2L914.5 184.7L916.0 184.3L917.5 183.8L919.0 183.4L920.5 182.9L922.0 182.5L923.5 182.1L925.0 182.0L926.5 182.4L928.0 183.6L929.5 185.3L931.0 187.0L932.5 188.7L934.0 190.4L935.5 192.1L937.0 193.8L938.5 195.5L940.0 197.2L941.5 198.8L943.0 200.5L944.5 202.1L946.0 203.7L947.5 205.4M205.0 461.0L206.5 461.9L208.0 462.9L209.5 463.8L211.0 464.8L212.5 465.7L214.0 466.6L215.5 467.4L217.0 468.3L218.5 469.2L220.0 470.0L221.5 470.9L223.0 471.7L224.5 472.5L226.0 473.3L227.5 474.0L229.0 474.6L230.5 475.2L232.0 475.8L233.5 476.3L235.0 476.7L236.5 477.1L238.0 477.4L239.5 477.7L241.0 477.8L242.5 477.9L244.0 478.0L245.5 478.0L247.0 477.9L248.5 477.9L250.0 477.8L251.5 477.6L253.0 477.4L254.5 477.2L256.0 477.0L257.5 476.8L259.0 476.7L260.5 476.7L262.0 476.8L263.5 477.0L265.0 477.3L266.5 477.7L268.0 478.4L269.5 479.2L271.0 480.1L272.5 481.2L274.0 482.4L275.5 483.8L277.0 485.3L278.5 486.7L280.0 488.1L281.5 489.5L283.0 490.8L284.5 492.0L286.0 493.1L287.5 494.2L289.0 495.3L290.5 496.2L292.0 497.2L293.5 498.1L295.0 499.1L296.5 499.9L298.0 500.8L299.5 501.7L301.0 502.5L302.5 503.2L304.0 503.8L305.5 504.4L307.0 505.0L308.5 505.4L310.0 505.7L311.5 506.0L313.0 506.3L314.5 506.5L316.0 506.6L317.5 506.8L319.0 506.9L320.5 507.0L322.0 507.2L323.5 507.2L325.0 507.2L326.5 507.1L328.0 507.0L329.5 506.8L331.0 506.6L332.5 506.3L334.0 506.0L335.5 505.7L337.0 505.4L338.5 505.1L340.0 504.7L341.5 504.4L343.0 504.1L344.5 503.7L346.0 503.3L347.5 502.9L349.0 502.4L350.5 501.9L352.0 501.4L353.5 500.9L355.0 500.2L356.5 499.5L358.0 498.6L359.5 497.5L361.0 496.3L362.5 495.1L364.0 493.9L365.5 492.6L367.0 491.3L368.5 490.0L370.0 488.6L371.5 487.1L373.0 485.5L374.5 483.8L376.0 482.1L377.5 480.3L379.0 478.5L380.5 476.6L382.0 474.6L383.5 472.7L385.0 470.7L386.5 468.8L388.0 467.0L389.5 465.1L391.0 463.3L392.5 461.5L394.0 459.7L395.5 457.9L397.0 456.1L398.5 454.1L400.0 452.2L401.5 450.1L403.0 448.0L404.5 445.9L406.0 443.7L407.5 441.6L409.0 439.4L410.5 437.3L412.0 435.2L413.5 433.1L415.0 430.9L416.5 428.8L418.0 426.7L419.5 424.6L421.0 422.5L422.5 420.4L424.0 418.3L425.5 416.3L427.0 414.2L428.5 412.1L430.0 410.0L431.5 407.8L433.0 405.6L434.5 403.4L436.0 401.2L437.5 398.9L439.0 396.7L440.5 394.4L442.0 392.1L443.5 389.8L445.0 387.5L446.5 385.1L448.0 382.8L449.5 380.5L451.0 378.1L452.5 375.7L454.0 373.4L455.5 371.0L457.0 368.6L458.5 366.2L460.0 363.8L461.5 361.4L463.0 359.0L464.5 356.6L466.0 354.2L467.5 351.8L469.0 349.4L470.5 347.1L472.0 344.7L473.5 342.4L475.0 340.1L476.5 337.9L478.0 335.6L479.5 333.3L481.0 331.4L482.5 329.6L484.0 327.7L485.5 325.8L487.0 323.8L488.5 321.8L490.0 319.6L491.5 317.3L493.0 315.0L494.5 312.5L496.0 309.9L497.5 307.3L499.0 304.5L500.5 301.7L502.0 298.9L503.5 296.0L505.0 293.2L506.5 290.4L508.0 287.6L509.5 284.9L511.0 282.2L512.5 279.5L514.0 276.8L515.5 274.0L517.0 271.0L518.5 268.0L520.0 265.0L521.5 262.1L523.0 259.3L524.5 256.5L526.0 253.6L527.5 250.8L529.0 248.1L530.5 245.5L532.0 243.0L533.5 240.6L535.0 238.4L536.5 236.3L538.0 234.4L539.5 232.6L541.0 231.0L542.5 228.9L544.0 226.8L545.5 225.0L547.0 223.2L548.5 221.5L550.0 219.9L551.5 218.2L553.0 216.6L554.5 215.1L556.0 213.7L557.5 212.5L559.0 211.4L560.5 210.5L562.0 209.8L563.5 209.1L565.0 208.4L566.5 207.8L568.0 207.3L569.5 206.8L571.0 206.4L572.5 206.2L574.0 206.0L575.5 205.9L577.0 205.8L578.5 205.7L580.0 205.6L581.5 205.5L583.0 205.4L584.5 205.3L586.0 205.3L587.5 205.2L589.0 205.2L590.5 205.2L592.0 205.2L593.5 205.2L595.0 205.2L596.5 205.2L598.0 205.2L599.5 205.2L601.0 205.4L602.5 205.6L604.0 205.9L605.5 206.2L607.0 206.5L608.5 206.9L610.0 207.4L611.5 208.2L613.0 209.2L614.5 210.9L616.0 213.2L617.5 215.6L619.0 217.6L620.5 219.5L622.0 221.4L623.5 223.1L625.0 224.8L626.5 226.5L628.0 228.2L629.5 229.8L631.0 231.4L632.5 233.0L634.0 234.4L635.5 235.5L637.0 236.4L638.5 236.9L640.0 238.1L641.5 240.0L643.0 242.1L644.5 245.3L646.0 248.7L647.5 251.3L649.0 253.2L650.5 255.0L652.0 256.9L653.5 258.5L655.0 259.7L656.5 260.8L658.0 261.8L659.5 262.7L661.0 263.5L662.5 264.2L664.0 264.9L665.5 265.4L667.0 265.9L668.5 266.3L670.0 266.7L671.5 266.9L673.0 267.0L674.5 267.1L676.0 267.2L677.5 267.3L679.0 267.3L680.5 267.3L682.0 267.2L683.5 267.0L685.0 266.7L686.5 266.3L688.0 265.8L689.5 265.3L691.0 264.4L692.5 263.3L694.0 262.0L695.5 260.6L697.0 259.2L698.5 257.8L700.0 256.4L701.5 254.7L703.0 252.9L704.5 251.2L706.0 249.7L707.5 248.3L709.0 247.0L710.5 245.7L712.0 244.5L713.5 243.3L715.0 242.1L716.5 240.9L718.0 239.6L719.5 238.4L721.0 237.2L722.5 236.0L724.0 235.0L725.5 234.0L727.0 233.1L728.5 232.3L730.0 231.4L731.5 230.6L733.0 229.8L734.5 229.0L736.0 228.3L737.5 227.7L739.0 227.2L740.5 226.8L742.0 226.7L743.5 226.7L745.0 226.6L746.5 226.6L748.0 226.7L749.5 226.8L751.0 227.1L752.5 227.4L754.0 227.8L755.5 228.3L757.0 228.7L758.5 229.3L760.0 229.7L761.5 230.2L763.0 230.7L764.5 231.2L766.0 231.7L767.5 232.2L769.0 232.6L770.5 233.0L772.0 233.4L773.5 233.7L775.0 233.9L776.5 234.1L778.0 234.2L779.5 234.3L781.0 234.2L782.5 234.1L784.0 233.9L785.5 233.6L787.0 233.4L788.5 233.1L790.0 232.8L791.5 232.4L793.0 231.8L794.5 231.0L796.0 230.2L797.5 229.2L799.0 228.3L800.5 227.3L802.0 226.3L803.5 225.3L805.0 224.4L806.5 223.4L808.0 222.3L809.5 221.2L811.0 220.0L812.5 218.8L814.0 217.5L815.5 216.3L817.0 215.0L818.5 213.7L820.0 212.5L821.5 211.2L823.0 209.8L824.5 208.5L826.0 207.2L827.5 205.9L829.0 204.7L830.5 203.5L832.0 202.3L833.5 201.0L835.0 199.8L836.5 198.6L838.0 197.5L839.5 196.3L841.0 195.3L842.5 194.4L844.0 193.5L845.5 192.7L847.0 191.9L848.5 191.1L850.0 190.4L851.5 189.7L853.0 189.0L854.5 188.3L856.0 187.7L857.5 187.1L859.0 186.5L860.5 185.9L862.0 185.3L863.5 184.8L865.0 184.4L866.5 184.0L868.0 183.8L869.5 183.6L871.0 183.5L872.5 183.5L874.0 183.6L875.5 183.8L877.0 184.2L878.5 184.6L880.0 185.0L881.5 185.4L883.0 185.9L884.5 186.5L886.0 187.3L887.5 188.1L889.0 188.9L890.5 189.7L892.0 190.3L893.5 190.8L895.0 191.1L896.5 191.3L898.0 191.3L899.5 191.3L901.0 190.7L902.5 189.8L904.0 188.9L905.5 188.4L907.0 188.0L908.5 187.7L910.0 187.4L911.5 187.0L913.0 186.7L914.5 186.2L916.0 185.8L917.5 185.3L919.0 184.9L920.5 184.4L922.0 184.0L923.5 183.6L925.0 183.5L926.5 183.8L928.0 185.1L929.5 186.8L931.0 188.5L932.5 190.1L934.0 191.8L935.5 193.5L937.0 195.2L938.5 196.9L940.0 198.5L941.5 200.2L943.0 201.8L944.5 203.4L946.0 205.0L947.5 206.6M205.0 462.9L206.5 463.9L208.0 464.9L209.5 465.8L211.0 466.8L212.5 467.7L214.0 468.6L215.5 469.5L217.0 470.4L218.5 471.3L220.0 472.1L221.5 473.0L223.0 473.9L224.5 474.7L226.0 475.5L227.5 476.2L229.0 476.9L230.5 477.4L232.0 478.0L233.5 478.5L235.0 479.0L236.5 479.3L238.0 479.6L239.5 479.9L241.0 480.0L242.5 480.0L244.0 480.0L245.5 480.0L247.0 479.9L248.5 479.8L250.0 479.7L251.5 479.5L253.0 479.3L254.5 479.0L256.0 478.7L257.5 478.5L259.0 478.4L260.5 478.4L262.0 478.5L263.5 478.7L265.0 478.9L266.5 479.4L268.0 480.1L269.5 481.1L271.0 482.1L272.5 483.2L274.0 484.5L275.5 486.0L277.0 487.6L278.5 489.1L280.0 490.6L281.5 492.0L283.0 493.2L284.5 494.5L286.0 495.6L287.5 496.7L289.0 497.7L290.5 498.7L292.0 499.7L293.5 500.6L295.0 501.5L296.5 502.4L298.0 503.2L299.5 504.1L301.0 504.9L302.5 505.6L304.0 506.3L305.5 506.9L307.0 507.4L308.5 507.9L310.0 508.2L311.5 508.4L313.0 508.6L314.5 508.8L316.0 509.0L317.5 509.1L319.0 509.2L320.5 509.4L322.0 509.4L323.5 509.5L325.0 509.5L326.5 509.4L328.0 509.2L329.5 508.9L331.0 508.6L332.5 508.3L334.0 508.0L335.5 507.7L337.0 507.3L338.5 506.9L340.0 506.5L341.5 506.1L343.0 505.8L344.5 505.3L346.0 504.8L347.5 504.3L349.0 503.8L350.5 503.3L352.0 502.7L353.5 502.1L355.0 501.5L356.5 500.7L358.0 499.8L359.5 498.7L361.0 497.5L362.5 496.3L364.0 495.1L365.5 493.9L367.0 492.6L368.5 491.3L370.0 489.9L371.5 488.5L373.0 486.9L374.5 485.3L376.0 483.6L377.5 481.9L379.0 480.1L380.5 478.3L382.0 476.4L383.5 474.6L385.0 472.7L386.5 470.9L388.0 469.1L389.5 467.4L391.0 465.7L392.5 464.0L394.0 462.2L395.5 460.5L397.0 458.7L398.5 456.8L400.0 454.9L401.5 452.9L403.0 450.9L404.5 448.8L406.0 446.7L407.5 444.6L409.0 442.6L410.5 440.5L412.0 438.4L413.5 436.4L415.0 434.3L416.5 432.3L418.0 430.2L419.5 428.2L421.0 426.2L422.5 424.1L424.0 422.1L425.5 420.1L427.0 418.1L428.5 416.0L430.0 414.0L431.5 411.8L433.0 409.7L434.5 407.5L436.0 405.4L437.5 403.1L439.0 400.9L440.5 398.7L442.0 396.4L443.5 394.1L445.0 391.8L446.5 389.6L448.0 387.3L449.5 385.0L451.0 382.7L452.5 380.3L454.0 378.0L455.5 375.7L457.0 373.4L458.5 371.0L460.0 368.7L461.5 366.3L463.0 364.0L464.5 361.6L466.0 359.3L467.5 357.0L469.0 354.6L470.5 352.3L472.0 350.0L473.5 347.7L475.0 345.5L476.5 343.3L478.0 341.0L479.5 338.8L481.0 336.9L482.5 335.0L484.0 333.1L485.5 331.1L487.0 329.1L488.5 327.0L490.0 324.8L491.5 322.5L493.0 320.2L494.5 317.7L496.0 315.1L497.5 312.5L499.0 309.8L500.5 307.0L502.0 304.2L503.5 301.4L505.0 298.6L506.5 295.8L508.0 293.1L509.5 290.4L511.0 287.7L512.5 285.1L514.0 282.4L515.5 279.6L517.0 276.7L518.5 273.8L520.0 271.0L521.5 268.1L523.0 265.4L524.5 262.6L526.0 259.9L527.5 257.1L529.0 254.5L530.5 251.9L532.0 249.4L533.5 247.0L535.0 244.7L536.5 242.7L538.0 240.7L539.5 238.9L541.0 237.1L542.5 235.0L544.0 233.0L545.5 231.1L547.0 229.3L548.5 227.6L550.0 225.9L551.5 224.2L553.0 222.5L554.5 220.9L556.0 219.5L557.5 218.2L559.0 217.0L560.5 216.2L562.0 215.4L563.5 214.7L565.0 214.0L566.5 213.3L568.0 212.7L569.5 212.2L571.0 211.9L572.5 211.6L574.0 211.5L575.5 211.3L577.0 211.2L578.5 211.1L580.0 211.1L581.5 211.0L583.0 210.9L584.5 210.8L586.0 210.8L587.5 210.7L589.0 210.7L590.5 210.7L592.0 210.7L593.5 210.7L595.0 210.7L596.5 210.7L598.0 210.7L599.5 210.7L601.0 210.8L602.5 211.1L604.0 211.3L605.5 211.5L607.0 211.7L608.5 211.9L610.0 212.2L611.5 212.5L613.0 212.9L614.5 213.6L616.0 214.9L617.5 216.7L619.0 218.4L620.5 220.2L622.0 222.0L623.5 223.8L625.0 225.5L626.5 227.2L628.0 228.9L629.5 230.5L631.0 232.2L632.5 233.7L634.0 235.1L635.5 236.2L637.0 237.0L638.5 237.5L640.0 238.8L641.5 240.8L643.0 243.3L644.5 246.8L646.0 250.6L647.5 253.6L649.0 255.8L650.5 257.9L652.0 259.9L653.5 261.6L655.0 262.9L656.5 264.0L658.0 265.0L659.5 265.9L661.0 266.7L662.5 267.4L664.0 268.1L665.5 268.5L667.0 269.0L668.5 269.3L670.0 269.6L671.5 269.8L673.0 269.9L674.5 270.0L676.0 270.1L677.5 270.1L679.0 270.2L680.5 270.1L682.0 270.0L683.5 269.7L685.0 269.3L686.5 268.9L688.0 268.3L689.5 267.7L691.0 266.8L692.5 265.6L694.0 264.2L695.5 262.7L697.0 261.1L698.5 259.7L700.0 258.2L701.5 256.4L703.0 254.6L704.5 253.0L706.0 251.5L707.5 250.1L709.0 248.9L710.5 247.6L712.0 246.5L713.5 245.3L715.0 244.2L716.5 242.9L718.0 241.7L719.5 240.5L721.0 239.4L722.5 238.3L724.0 237.3L725.5 236.3L727.0 235.5L728.5 234.7L730.0 233.9L731.5 233.1L733.0 232.3L734.5 231.6L736.0 231.0L737.5 230.4L739.0 229.9L740.5 229.6L742.0 229.5L743.5 229.4L745.0 229.3L746.5 229.2L748.0 229.2L749.5 229.4L751.0 229.5L752.5 229.8L754.0 230.1L755.5 230.5L757.0 231.0L758.5 231.4L760.0 231.9L761.5 232.3L763.0 232.8L764.5 233.3L766.0 233.7L767.5 234.1L769.0 234.5L770.5 234.9L772.0 235.2L773.5 235.5L775.0 235.7L776.5 235.9L778.0 236.0L779.5 236.0L781.0 235.9L782.5 235.8L784.0 235.5L785.5 235.2L787.0 235.0L788.5 234.7L790.0 234.3L791.5 233.9L793.0 233.3L794.5 232.7L796.0 231.9L797.5 231.0L799.0 230.2L800.5 229.3L802.0 228.4L803.5 227.5L805.0 226.6L806.5 225.6L808.0 224.6L809.5 223.6L811.0 222.4L812.5 221.2L814.0 220.0L815.5 218.8L817.0 217.6L818.5 216.4L820.0 215.1L821.5 213.9L823.0 212.6L824.5 211.3L826.0 210.0L827.5 208.8L829.0 207.6L830.5 206.4L832.0 205.2L833.5 204.1L835.0 202.9L836.5 201.8L838.0 200.7L839.5 199.6L841.0 198.6L842.5 197.7L844.0 196.8L845.5 196.0L847.0 195.2L848.5 194.5L850.0 193.7L851.5 193.1L853.0 192.4L854.5 191.7L856.0 191.1L857.5 190.5L859.0 189.9L860.5 189.3L862.0 188.7L863.5 188.1L865.0 187.6L866.5 187.2L868.0 186.9L869.5 186.7L871.0 186.7L872.5 186.6L874.0 186.7L875.5 186.9L877.0 187.1L878.5 187.4L880.0 187.8L881.5 188.1L883.0 188.5L884.5 189.0L886.0 189.7L887.5 190.5L889.0 191.3L890.5 192.0L892.0 192.7L893.5 193.1L895.0 193.3L896.5 193.5L898.0 193.5L899.5 193.4L901.0 192.7L902.5 191.7L904.0 190.7L905.5 190.1L907.0 189.7L908.5 189.3L910.0 188.9L911.5 188.6L913.0 188.2L914.5 187.8L916.0 187.3L917.5 186.9L919.0 186.5L920.5 186.0L922.0 185.6L923.5 185.2L925.0 185.1L926.5 185.4L928.0 186.6L929.5 188.3L931.0 190.1L932.5 191.7L934.0 193.3L935.5 195.0L937.0 196.7L938.5 198.3L940.0 199.9L941.5 201.5L943.0 203.1L944.5 204.7L946.0 206.4L947.5 208.0M205.0 465.0L206.5 466.0L208.0 467.0L209.5 468.0L211.0 468.9L212.5 469.9L214.0 470.8L215.5 471.7L217.0 472.6L218.5 473.5L220.0 474.4L221.5 475.3L223.0 476.2L224.5 477.1L226.0 477.9L227.5 478.6L229.0 479.2L230.5 479.8L232.0 480.4L233.5 480.9L235.0 481.3L236.5 481.7L238.0 482.0L239.5 482.2L241.0 482.3L242.5 482.3L244.0 482.3L245.5 482.2L247.0 482.0L248.5 481.9L250.0 481.7L251.5 481.5L253.0 481.2L254.5 480.9L256.0 480.6L257.5 480.3L259.0 480.2L260.5 480.1L262.0 480.3L263.5 480.4L265.0 480.7L266.5 481.2L268.0 482.0L269.5 483.0L271.0 484.1L272.5 485.3L274.0 486.8L275.5 488.3L277.0 490.0L278.5 491.6L280.0 493.1L281.5 494.6L283.0 495.9L284.5 497.1L286.0 498.3L287.5 499.3L289.0 500.4L290.5 501.4L292.0 502.3L293.5 503.2L295.0 504.1L296.5 504.9L298.0 505.8L299.5 506.7L301.0 507.5L302.5 508.2L304.0 508.9L305.5 509.6L307.0 510.1L308.5 510.5L310.0 510.7L311.5 511.0L313.0 511.2L314.5 511.3L316.0 511.5L317.5 511.6L319.0 511.7L320.5 511.8L322.0 511.9L323.5 511.9L325.0 511.9L326.5 511.7L328.0 511.5L329.5 511.2L331.0 510.9L332.5 510.5L334.0 510.1L335.5 509.7L337.0 509.3L338.5 508.9L340.0 508.4L341.5 508.0L343.0 507.5L344.5 507.0L346.0 506.4L347.5 505.9L349.0 505.3L350.5 504.7L352.0 504.1L353.5 503.5L355.0 502.8L356.5 502.0L358.0 501.0L359.5 499.9L361.0 498.7L362.5 497.5L364.0 496.4L365.5 495.2L367.0 494.0L368.5 492.7L370.0 491.4L371.5 489.9L373.0 488.4L374.5 486.8L376.0 485.2L377.5 483.5L379.0 481.8L380.5 480.0L382.0 478.3L383.5 476.5L385.0 474.8L386.5 473.1L388.0 471.4L389.5 469.7L391.0 468.1L392.5 466.5L394.0 464.8L395.5 463.1L397.0 461.4L398.5 459.6L400.0 457.7L401.5 455.8L403.0 453.8L404.5 451.8L406.0 449.8L407.5 447.8L409.0 445.8L410.5 443.8L412.0 441.8L413.5 439.8L415.0 437.8L416.5 435.9L418.0 433.9L419.5 431.9L421.0 430.0L422.5 428.0L424.0 426.0L425.5 424.1L427.0 422.1L428.5 420.1L430.0 418.1L431.5 416.0L433.0 413.9L434.5 411.8L436.0 409.7L437.5 407.5L439.0 405.3L440.5 403.1L442.0 400.9L443.5 398.6L445.0 396.4L446.5 394.1L448.0 391.9L449.5 389.6L451.0 387.4L452.5 385.1L454.0 382.9L455.5 380.6L457.0 378.3L458.5 376.0L460.0 373.7L461.5 371.5L463.0 369.2L464.5 366.9L466.0 364.6L467.5 362.3L469.0 360.0L470.5 357.7L472.0 355.5L473.5 353.3L475.0 351.1L476.5 348.9L478.0 346.7L479.5 344.5L481.0 342.5L482.5 340.6L484.0 338.6L485.5 336.6L487.0 334.5L488.5 332.4L490.0 330.2L491.5 327.9L493.0 325.5L494.5 323.0L496.0 320.4L497.5 317.8L499.0 315.1L500.5 312.4L502.0 309.6L503.5 306.9L505.0 304.1L506.5 301.4L508.0 298.7L509.5 296.0L511.0 293.4L512.5 290.8L514.0 288.1L515.5 285.4L517.0 282.6L518.5 279.8L520.0 277.0L521.5 274.3L523.0 271.6L524.5 268.9L526.0 266.2L527.5 263.6L529.0 261.0L530.5 258.4L532.0 255.9L533.5 253.5L535.0 251.2L536.5 249.1L538.0 247.1L539.5 245.2L541.0 243.4L542.5 241.3L544.0 239.3L545.5 237.4L547.0 235.5L548.5 233.8L550.0 232.1L551.5 230.3L553.0 228.6L554.5 227.0L556.0 225.5L557.5 224.1L559.0 223.0L560.5 222.1L562.0 221.3L563.5 220.5L565.0 219.8L566.5 219.1L568.0 218.5L569.5 218.0L571.0 217.6L572.5 217.3L574.0 217.2L575.5 217.1L577.0 217.0L578.5 216.9L580.0 216.9L581.5 216.8L583.0 216.7L584.5 216.7L586.0 216.6L587.5 216.6L589.0 216.6L590.5 216.6L592.0 216.6L593.5 216.7L595.0 216.7L596.5 216.7L598.0 216.7L599.5 216.7L601.0 216.8L602.5 217.0L604.0 217.1L605.5 217.3L607.0 217.5L608.5 217.6L610.0 217.8L611.5 218.0L613.0 218.2L614.5 218.4L616.0 218.8L617.5 219.5L619.0 220.5L620.5 221.7L622.0 223.2L623.5 224.8L625.0 226.4L626.5 228.1L628.0 229.7L629.5 231.3L631.0 232.9L632.5 234.5L634.0 235.8L635.5 236.8L637.0 237.6L638.5 238.1L640.0 239.5L641.5 241.7L643.0 244.4L644.5 248.3L646.0 252.5L647.5 256.0L649.0 258.4L650.5 260.8L652.0 263.0L653.5 264.8L655.0 266.1L656.5 267.3L658.0 268.3L659.5 269.2L661.0 270.1L662.5 270.8L664.0 271.3L665.5 271.8L667.0 272.1L668.5 272.4L670.0 272.6L671.5 272.8L673.0 272.9L674.5 273.0L676.0 273.1L677.5 273.1L679.0 273.1L680.5 273.0L682.0 272.8L683.5 272.5L685.0 272.1L686.5 271.6L688.0 270.9L689.5 270.3L691.0 269.3L692.5 267.9L694.0 266.4L695.5 264.8L697.0 263.2L698.5 261.6L700.0 260.0L701.5 258.2L703.0 256.4L704.5 254.7L706.0 253.3L707.5 252.0L709.0 250.8L710.5 249.6L712.0 248.5L713.5 247.4L715.0 246.3L716.5 245.1L718.0 244.0L719.5 242.8L721.0 241.7L722.5 240.7L724.0 239.7L725.5 238.8L727.0 238.0L728.5 237.2L730.0 236.5L731.5 235.7L733.0 235.0L734.5 234.4L736.0 233.8L737.5 233.2L739.0 232.8L740.5 232.5L742.0 232.3L743.5 232.2L745.0 232.1L746.5 232.0L748.0 232.0L749.5 232.1L751.0 232.2L752.5 232.4L754.0 232.6L755.5 233.0L757.0 233.3L758.5 233.7L760.0 234.1L761.5 234.6L763.0 235.0L764.5 235.4L766.0 235.8L767.5 236.2L769.0 236.5L770.5 236.9L772.0 237.2L773.5 237.5L775.0 237.7L776.5 237.8L778.0 237.9L779.5 237.9L781.0 237.8L782.5 237.5L784.0 237.2L785.5 236.9L787.0 236.7L788.5 236.3L790.0 235.9L791.5 235.5L793.0 235.0L794.5 234.4L796.0 233.7L797.5 232.9L799.0 232.2L800.5 231.4L802.0 230.6L803.5 229.8L805.0 228.9L806.5 228.0L808.0 227.0L809.5 226.0L811.0 224.9L812.5 223.7L814.0 222.6L815.5 221.4L817.0 220.3L818.5 219.1L820.0 217.9L821.5 216.7L823.0 215.5L824.5 214.2L826.0 213.0L827.5 211.8L829.0 210.6L830.5 209.5L832.0 208.4L833.5 207.3L835.0 206.2L836.5 205.1L838.0 204.0L839.5 203.0L841.0 202.0L842.5 201.1L844.0 200.3L845.5 199.5L847.0 198.7L848.5 198.0L850.0 197.3L851.5 196.6L853.0 195.9L854.5 195.3L856.0 194.7L857.5 194.1L859.0 193.4L860.5 192.8L862.0 192.1L863.5 191.5L865.0 191.0L866.5 190.6L868.0 190.3L869.5 190.0L871.0 190.0L872.5 189.9L874.0 189.9L875.5 190.0L877.0 190.2L878.5 190.4L880.0 190.7L881.5 190.9L883.0 191.2L884.5 191.6L886.0 192.3L887.5 193.0L889.0 193.8L890.5 194.5L892.0 195.1L893.5 195.5L895.0 195.7L896.5 195.8L898.0 195.7L899.5 195.6L901.0 194.8L902.5 193.6L904.0 192.5L905.5 191.9L907.0 191.4L908.5 191.0L910.0 190.6L911.5 190.2L913.0 189.8L914.5 189.4L916.0 188.9L917.5 188.5L919.0 188.1L920.5 187.6L922.0 187.2L923.5 186.9L925.0 186.7L926.5 187.0L928.0 188.2L929.5 189.9L931.0 191.7L932.5 193.3L934.0 194.9L935.5 196.5L937.0 198.2L938.5 199.8L940.0 201.4L941.5 202.9L943.0 204.5L944.5 206.1L946.0 207.7L947.5 209.3M205.0 467.2L206.5 468.2L208.0 469.2L209.5 470.2L211.0 471.2L212.5 472.2L214.0 473.1L215.5 474.0L217.0 474.9L218.5 475.9L220.0 476.8L221.5 477.7L223.0 478.7L224.5 479.6L226.0 480.4L227.5 481.1L229.0 481.8L230.5 482.3L232.0 482.9L233.5 483.4L235.0 483.8L236.5 484.2L238.0 484.5L239.5 484.7L241.0 484.7L242.5 484.7L244.0 484.6L245.5 484.5L247.0 484.3L248.5 484.1L250.0 483.9L251.5 483.6L253.0 483.2L254.5 482.9L256.0 482.5L257.5 482.2L259.0 482.0L260.5 482.0L262.0 482.1L263.5 482.3L265.0 482.6L266.5 483.1L268.0 484.0L269.5 485.1L271.0 486.3L272.5 487.6L274.0 489.1L275.5 490.8L277.0 492.5L278.5 494.2L280.0 495.9L281.5 497.4L283.0 498.7L284.5 499.9L286.0 501.1L287.5 502.1L289.0 503.2L290.5 504.1L292.0 505.1L293.5 506.0L295.0 506.8L296.5 507.7L298.0 508.5L299.5 509.4L301.0 510.2L302.5 511.0L304.0 511.7L305.5 512.3L307.0 512.8L308.5 513.2L310.0 513.5L311.5 513.7L313.0 513.8L314.5 514.0L316.0 514.1L317.5 514.2L319.0 514.3L320.5 514.4L322.0 514.4L323.5 514.5L325.0 514.4L326.5 514.2L328.0 513.9L329.5 513.6L331.0 513.2L332.5 512.8L334.0 512.4L335.5 511.9L337.0 511.5L338.5 511.0L340.0 510.5L341.5 509.9L343.0 509.4L344.5 508.8L346.0 508.1L347.5 507.5L349.0 506.8L350.5 506.2L352.0 505.5L353.5 504.9L355.0 504.1L356.5 503.3L358.0 502.3L359.5 501.2L361.0 500.0L362.5 498.8L364.0 497.7L365.5 496.5L367.0 495.4L368.5 494.2L370.0 492.9L371.5 491.5L373.0 490.0L374.5 488.5L376.0 486.9L377.5 485.2L379.0 483.6L380.5 481.9L382.0 480.2L383.5 478.5L385.0 476.9L386.5 475.3L388.0 473.7L389.5 472.2L391.0 470.6L392.5 469.1L394.0 467.5L395.5 465.9L397.0 464.2L398.5 462.5L400.0 460.7L401.5 458.8L403.0 456.9L404.5 455.0L406.0 453.0L407.5 451.1L409.0 449.1L410.5 447.2L412.0 445.3L413.5 443.4L415.0 441.5L416.5 439.6L418.0 437.7L419.5 435.8L421.0 433.9L422.5 432.0L424.0 430.1L425.5 428.2L427.0 426.3L428.5 424.4L430.0 422.4L431.5 420.4L433.0 418.3L434.5 416.3L436.0 414.1L437.5 412.0L439.0 409.9L440.5 407.7L442.0 405.5L443.5 403.3L445.0 401.1L446.5 398.9L448.0 396.7L449.5 394.5L451.0 392.3L452.5 390.1L454.0 387.9L455.5 385.7L457.0 383.4L458.5 381.2L460.0 379.0L461.5 376.8L463.0 374.5L464.5 372.3L466.0 370.1L467.5 367.8L469.0 365.6L470.5 363.4L472.0 361.2L473.5 359.0L475.0 356.9L476.5 354.7L478.0 352.6L479.5 350.4L481.0 348.4L482.5 346.4L484.0 344.4L485.5 342.3L487.0 340.2L488.5 338.0L490.0 335.7L491.5 333.4L493.0 331.0L494.5 328.5L496.0 325.9L497.5 323.3L499.0 320.6L500.5 318.0L502.0 315.2L503.5 312.5L505.0 309.8L506.5 307.1L508.0 304.5L509.5 301.8L511.0 299.2L512.5 296.6L514.0 294.0L515.5 291.4L517.0 288.6L518.5 285.9L520.0 283.2L521.5 280.6L523.0 278.0L524.5 275.4L526.0 272.8L527.5 270.2L529.0 267.6L530.5 265.1L532.0 262.6L533.5 260.2L535.0 257.9L536.5 255.8L538.0 253.7L539.5 251.7L541.0 249.8L542.5 247.7L544.0 245.7L545.5 243.8L547.0 242.0L548.5 240.2L550.0 238.5L551.5 236.7L553.0 234.9L554.5 233.2L556.0 231.7L557.5 230.3L559.0 229.1L560.5 228.2L562.0 227.4L563.5 226.6L565.0 225.8L566.5 225.1L568.0 224.5L569.5 224.0L571.0 223.6L572.5 223.4L574.0 223.3L575.5 223.2L577.0 223.1L578.5 223.1L580.0 223.0L581.5 223.0L583.0 223.0L584.5 222.9L586.0 222.9L587.5 222.9L589.0 222.9L590.5 223.0L592.0 223.0L593.5 223.1L595.0 223.1L596.5 223.1L598.0 223.2L599.5 223.2L601.0 223.2L602.5 223.4L604.0 223.5L605.5 223.6L607.0 223.7L608.5 223.8L610.0 224.0L611.5 224.1L613.0 224.2L614.5 224.3L616.0 224.5L617.5 224.7L619.0 225.0L620.5 225.5L622.0 226.2L623.5 227.1L625.0 228.3L626.5 229.5L628.0 230.9L629.5 232.3L631.0 233.8L632.5 235.3L634.0 236.5L635.5 237.5L637.0 238.2L638.5 238.8L640.0 240.3L641.5 242.7L643.0 245.6L644.5 249.9L646.0 254.5L647.5 258.4L649.0 261.2L650.5 263.8L652.0 266.2L653.5 268.2L655.0 269.5L656.5 270.7L658.0 271.7L659.5 272.7L661.0 273.5L662.5 274.2L664.0 274.7L665.5 275.1L667.0 275.3L668.5 275.6L670.0 275.8L671.5 275.9L673.0 276.0L674.5 276.1L676.0 276.2L677.5 276.2L679.0 276.2L680.5 276.1L682.0 275.8L683.5 275.4L685.0 274.9L686.5 274.3L688.0 273.6L689.5 272.9L691.0 271.8L692.5 270.4L694.0 268.7L695.5 267.0L697.0 265.2L698.5 263.6L700.0 261.9L701.5 260.1L703.0 258.2L704.5 256.6L706.0 255.2L707.5 253.9L709.0 252.8L710.5 251.7L712.0 250.7L713.5 249.6L715.0 248.5L716.5 247.4L718.0 246.3L719.5 245.2L721.0 244.1L722.5 243.1L724.0 242.2L725.5 241.3L727.0 240.6L728.5 239.9L730.0 239.2L731.5 238.5L733.0 237.9L734.5 237.3L736.0 236.7L737.5 236.3L739.0 235.8L740.5 235.5L742.0 235.4L743.5 235.2L745.0 235.1L746.5 235.0L748.0 234.9L749.5 234.9L751.0 235.0L752.5 235.1L754.0 235.3L755.5 235.5L757.0 235.8L758.5 236.2L760.0 236.6L761.5 236.9L763.0 237.3L764.5 237.7L766.0 238.0L767.5 238.4L769.0 238.7L770.5 239.0L772.0 239.3L773.5 239.5L775.0 239.7L776.5 239.9L778.0 239.9L779.5 239.9L781.0 239.7L782.5 239.4L784.0 239.1L785.5 238.7L787.0 238.4L788.5 238.0L790.0 237.6L791.5 237.2L793.0 236.7L794.5 236.2L796.0 235.6L797.5 234.9L799.0 234.3L800.5 233.6L802.0 232.9L803.5 232.1L805.0 231.3L806.5 230.5L808.0 229.5L809.5 228.6L811.0 227.5L812.5 226.4L814.0 225.3L815.5 224.2L817.0 223.1L818.5 222.0L820.0 220.8L821.5 219.7L823.0 218.5L824.5 217.3L826.0 216.1L827.5 215.0L829.0 213.8L830.5 212.8L832.0 211.7L833.5 210.6L835.0 209.6L836.5 208.5L838.0 207.5L839.5 206.5L841.0 205.6L842.5 204.7L844.0 203.9L845.5 203.1L847.0 202.4L848.5 201.7L850.0 201.0L851.5 200.3L853.0 199.7L854.5 199.0L856.0 198.4L857.5 197.8L859.0 197.1L860.5 196.4L862.0 195.8L863.5 195.1L865.0 194.6L866.5 194.1L868.0 193.7L869.5 193.5L871.0 193.4L872.5 193.3L874.0 193.3L875.5 193.3L877.0 193.4L878.5 193.5L880.0 193.7L881.5 193.8L883.0 194.0L884.5 194.4L886.0 194.9L887.5 195.6L889.0 196.4L890.5 197.1L892.0 197.6L893.5 198.0L895.0 198.1L896.5 198.1L898.0 198.0L899.5 197.9L901.0 197.0L902.5 195.7L904.0 194.4L905.5 193.7L907.0 193.2L908.5 192.7L910.0 192.3L911.5 191.9L913.0 191.5L914.5 191.0L916.0 190.6L917.5 190.2L919.0 189.8L920.5 189.3L922.0 188.9L923.5 188.6L925.0 188.4L926.5 188.6L928.0 189.8L929.5 191.6L931.0 193.4L932.5 195.0L934.0 196.5L935.5 198.1L937.0 199.7L938.5 201.3L940.0 202.8L941.5 204.4L943.0 206.0L944.5 207.6L946.0 209.2L947.5 210.8M205.0 469.6L206.5 470.6L208.0 471.6L209.5 472.6L211.0 473.6L212.5 474.6L214.0 475.5L215.5 476.5L217.0 477.4L218.5 478.3L220.0 479.3L221.5 480.3L223.0 481.3L224.5 482.2L226.0 483.0L227.5 483.8L229.0 484.4L230.5 485.0L232.0 485.5L233.5 486.0L235.0 486.5L236.5 486.8L238.0 487.1L239.5 487.3L241.0 487.3L242.5 487.2L244.0 487.1L245.5 486.9L247.0 486.6L248.5 486.4L250.0 486.2L251.5 485.8L253.0 485.4L254.5 485.0L256.0 484.5L257.5 484.2L259.0 484.0L260.5 484.0L262.0 484.1L263.5 484.3L265.0 484.6L266.5 485.1L268.0 486.1L269.5 487.3L271.0 488.6L272.5 490.0L274.0 491.6L275.5 493.4L277.0 495.2L278.5 497.0L280.0 498.7L281.5 500.3L283.0 501.6L284.5 502.9L286.0 504.0L287.5 505.1L289.0 506.1L290.5 507.1L292.0 508.0L293.5 508.9L295.0 509.7L296.5 510.5L298.0 511.4L299.5 512.3L301.0 513.1L302.5 513.9L304.0 514.6L305.5 515.3L307.0 515.8L308.5 516.1L310.0 516.3L311.5 516.5L313.0 516.7L314.5 516.8L316.0 516.9L317.5 517.0L319.0 517.1L320.5 517.1L322.0 517.1L323.5 517.2L325.0 517.0L326.5 516.8L328.0 516.5L329.5 516.1L331.0 515.7L332.5 515.2L334.0 514.7L335.5 514.2L337.0 513.8L338.5 513.2L340.0 512.6L341.5 512.0L343.0 511.3L344.5 510.6L346.0 509.9L347.5 509.2L349.0 508.5L350.5 507.8L352.0 507.1L353.5 506.3L355.0 505.5L356.5 504.7L358.0 503.7L359.5 502.6L361.0 501.4L362.5 500.2L364.0 499.1L365.5 497.9L367.0 496.8L368.5 495.6L370.0 494.4L371.5 493.1L373.0 491.6L374.5 490.1L376.0 488.6L377.5 487.0L379.0 485.4L380.5 483.8L382.0 482.2L383.5 480.6L385.0 479.1L386.5 477.6L388.0 476.2L389.5 474.7L391.0 473.3L392.5 471.8L394.0 470.3L395.5 468.8L397.0 467.2L398.5 465.5L400.0 463.7L401.5 461.9L403.0 460.1L404.5 458.2L406.0 456.3L407.5 454.5L409.0 452.6L410.5 450.8L412.0 448.9L413.5 447.1L415.0 445.3L416.5 443.5L418.0 441.6L419.5 439.8L421.0 438.0L422.5 436.1L424.0 434.3L425.5 432.5L427.0 430.7L428.5 428.8L430.0 426.9L431.5 424.9L433.0 422.9L434.5 420.9L436.0 418.8L437.5 416.7L439.0 414.6L440.5 412.4L442.0 410.3L443.5 408.1L445.0 406.0L446.5 403.8L448.0 401.6L449.5 399.5L451.0 397.4L452.5 395.2L454.0 393.1L455.5 390.9L457.0 388.8L458.5 386.6L460.0 384.4L461.5 382.3L463.0 380.1L464.5 377.9L466.0 375.8L467.5 373.6L469.0 371.4L470.5 369.2L472.0 367.1L473.5 365.0L475.0 362.8L476.5 360.7L478.0 358.6L479.5 356.5L481.0 354.4L482.5 352.4L484.0 350.3L485.5 348.2L487.0 346.0L488.5 343.8L490.0 341.4L491.5 339.1L493.0 336.6L494.5 334.1L496.0 331.6L497.5 329.0L499.0 326.3L500.5 323.7L502.0 321.0L503.5 318.3L505.0 315.6L506.5 313.0L508.0 310.4L509.5 307.8L511.0 305.2L512.5 302.6L514.0 300.1L515.5 297.4L517.0 294.8L518.5 292.2L520.0 289.6L521.5 287.0L523.0 284.5L524.5 282.0L526.0 279.4L527.5 276.9L529.0 274.4L530.5 271.9L532.0 269.4L533.5 267.0L535.0 264.7L536.5 262.5L538.0 260.4L539.5 258.4L541.0 256.4L542.5 254.3L544.0 252.4L545.5 250.4L547.0 248.6L548.5 246.9L550.0 245.1L551.5 243.2L553.0 241.5L554.5 239.7L556.0 238.2L557.5 236.7L559.0 235.6L560.5 234.6L562.0 233.8L563.5 233.0L565.0 232.2L566.5 231.5L568.0 230.9L569.5 230.4L571.0 230.0L572.5 229.7L574.0 229.7L575.5 229.6L577.0 229.6L578.5 229.6L580.0 229.6L581.5 229.6L583.0 229.6L584.5 229.6L586.0 229.6L587.5 229.6L589.0 229.7L590.5 229.7L592.0 229.8L593.5 229.9L595.0 230.0L596.5 230.1L598.0 230.1L599.5 230.1L601.0 230.2L602.5 230.3L604.0 230.3L605.5 230.4L607.0 230.5L608.5 230.5L610.0 230.6L611.5 230.7L613.0 230.7L614.5 230.8L616.0 230.9L617.5 230.9L619.0 231.0L620.5 231.2L622.0 231.5L623.5 231.9L625.0 232.4L626.5 233.0L628.0 233.7L629.5 234.5L631.0 235.4L632.5 236.5L634.0 237.4L635.5 238.3L637.0 238.9L638.5 239.4L640.0 241.1L641.5 243.7L643.0 246.9L644.5 251.6L646.0 256.7L647.5 260.9L649.0 264.0L650.5 267.0L652.0 269.6L653.5 271.6L655.0 273.0L656.5 274.2L658.0 275.3L659.5 276.3L661.0 277.1L662.5 277.8L664.0 278.2L665.5 278.5L667.0 278.7L668.5 278.9L670.0 279.1L671.5 279.2L673.0 279.3L674.5 279.3L676.0 279.4L677.5 279.4L679.0 279.4L680.5 279.2L682.0 278.9L683.5 278.4L685.0 277.8L686.5 277.2L688.0 276.4L689.5 275.6L691.0 274.4L692.5 272.9L694.0 271.1L695.5 269.3L697.0 267.4L698.5 265.7L700.0 263.9L701.5 262.0L703.0 260.1L704.5 258.5L706.0 257.1L707.5 256.0L709.0 254.9L710.5 253.8L712.0 252.9L713.5 251.8L715.0 250.8L716.5 249.8L718.0 248.7L719.5 247.7L721.0 246.7L722.5 245.7L724.0 244.8L725.5 244.0L727.0 243.3L728.5 242.7L730.0 242.1L731.5 241.4L733.0 240.9L734.5 240.3L736.0 239.9L737.5 239.4L739.0 239.1L740.5 238.8L742.0 238.6L743.5 238.4L745.0 238.3L746.5 238.1L748.0 238.0L749.5 238.0L751.0 237.9L752.5 238.0L754.0 238.1L755.5 238.2L757.0 238.5L758.5 238.8L760.0 239.1L761.5 239.4L763.0 239.8L764.5 240.1L766.0 240.4L767.5 240.7L769.0 241.0L770.5 241.2L772.0 241.5L773.5 241.7L775.0 241.9L776.5 242.0L778.0 242.0L779.5 241.9L781.0 241.7L782.5 241.4L784.0 241.0L785.5 240.6L787.0 240.3L788.5 239.9L790.0 239.4L791.5 239.0L793.0 238.5L794.5 238.1L796.0 237.6L797.5 237.0L799.0 236.5L800.5 235.9L802.0 235.3L803.5 234.6L805.0 233.9L806.5 233.1L808.0 232.2L809.5 231.2L811.0 230.2L812.5 229.2L814.0 228.1L815.5 227.1L817.0 226.0L818.5 225.0L820.0 223.9L821.5 222.8L823.0 221.6L824.5 220.5L826.0 219.4L827.5 218.3L829.0 217.2L830.5 216.1L832.0 215.1L833.5 214.1L835.0 213.1L836.5 212.1L838.0 211.1L839.5 210.2L841.0 209.3L842.5 208.5L844.0 207.7L845.5 206.9L847.0 206.2L848.5 205.5L850.0 204.8L851.5 204.2L853.0 203.5L854.5 202.9L856.0 202.3L857.5 201.6L859.0 201.0L860.5 200.2L862.0 199.5L863.5 198.9L865.0 198.2L866.5 197.7L868.0 197.3L869.5 197.0L871.0 196.9L872.5 196.8L874.0 196.7L875.5 196.7L877.0 196.7L878.5 196.8L880.0 196.8L881.5 196.9L883.0 197.0L884.5 197.2L886.0 197.7L887.5 198.3L889.0 199.0L890.5 199.7L892.0 200.3L893.5 200.6L895.0 200.7L896.5 200.6L898.0 200.4L899.5 200.2L901.0 199.3L902.5 197.8L904.0 196.4L905.5 195.6L907.0 195.0L908.5 194.5L910.0 194.0L911.5 193.6L913.0 193.2L914.5 192.8L916.0 192.4L917.5 192.0L919.0 191.5L920.5 191.1L922.0 190.7L923.5 190.4L925.0 190.2L926.5 190.3L928.0 191.5L929.5 193.3L931.0 195.2L932.5 196.7L934.0 198.2L935.5 199.8L937.0 201.3L938.5 202.9L940.0 204.4L941.5 205.9L943.0 207.5L944.5 209.1L946.0 210.6L947.5 212.2M205.0 472.0L206.5 473.0L208.0 474.1L209.5 475.1L211.0 476.1L212.5 477.1L214.0 478.1L215.5 479.1L217.0 480.0L218.5 481.0L220.0 482.0L221.5 483.0L223.0 484.0L224.5 484.9L226.0 485.8L227.5 486.6L229.0 487.2L230.5 487.7L232.0 488.3L233.5 488.8L235.0 489.2L236.5 489.6L238.0 489.9L239.5 490.0L241.0 490.0L242.5 489.9L244.0 489.7L245.5 489.4L247.0 489.1L248.5 488.8L250.0 488.6L251.5 488.2L253.0 487.7L254.5 487.2L256.0 486.7L257.5 486.3L259.0 486.1L260.5 486.0L262.0 486.1L263.5 486.3L265.0 486.6L266.5 487.2L268.0 488.3L269.5 489.6L271.0 491.0L272.5 492.5L274.0 494.2L275.5 496.1L277.0 498.0L278.5 500.0L280.0 501.8L281.5 503.4L283.0 504.8L284.5 506.0L286.0 507.1L287.5 508.2L289.0 509.2L290.5 510.1L292.0 511.1L293.5 511.9L295.0 512.8L296.5 513.6L298.0 514.4L299.5 515.3L301.0 516.1L302.5 517.0L304.0 517.7L305.5 518.3L307.0 518.9L308.5 519.2L310.0 519.4L311.5 519.5L313.0 519.6L314.5 519.7L316.0 519.8L317.5 519.9L319.0 519.9L320.5 520.0L322.0 520.0L323.5 520.0L325.0 519.8L326.5 519.6L328.0 519.2L329.5 518.8L331.0 518.3L332.5 517.7L334.0 517.2L335.5 516.7L337.0 516.1L338.5 515.5L340.0 514.9L341.5 514.1L343.0 513.4L344.5 512.6L346.0 511.8L347.5 510.9L349.0 510.2L350.5 509.4L352.0 508.6L353.5 507.8L355.0 507.0L356.5 506.1L358.0 505.1L359.5 504.0L361.0 502.8L362.5 501.6L364.0 500.5L365.5 499.4L367.0 498.3L368.5 497.2L370.0 496.0L371.5 494.7L373.0 493.3L374.5 491.9L376.0 490.4L377.5 488.8L379.0 487.3L380.5 485.8L382.0 484.3L383.5 482.8L385.0 481.4L386.5 480.0L388.0 478.7L389.5 477.3L391.0 476.0L392.5 474.6L394.0 473.2L395.5 471.7L397.0 470.2L398.5 468.6L400.0 466.9L401.5 465.2L403.0 463.4L404.5 461.6L406.0 459.8L407.5 458.0L409.0 456.2L410.5 454.4L412.0 452.7L413.5 450.9L415.0 449.2L416.5 447.5L418.0 445.7L419.5 444.0L421.0 442.2L422.5 440.4L424.0 438.7L425.5 436.9L427.0 435.2L428.5 433.4L430.0 431.5L431.5 429.6L433.0 427.6L434.5 425.6L436.0 423.6L437.5 421.5L439.0 419.5L440.5 417.4L442.0 415.3L443.5 413.1L445.0 411.0L446.5 408.9L448.0 406.8L449.5 404.7L451.0 402.6L452.5 400.5L454.0 398.4L455.5 396.3L457.0 394.3L458.5 392.2L460.0 390.1L461.5 388.0L463.0 385.9L464.5 383.7L466.0 381.6L467.5 379.5L469.0 377.4L470.5 375.3L472.0 373.2L473.5 371.1L475.0 369.0L476.5 367.0L478.0 364.9L479.5 362.8L481.0 360.7L482.5 358.6L484.0 356.4L485.5 354.2L487.0 352.0L488.5 349.7L490.0 347.3L491.5 344.9L493.0 342.4L494.5 339.9L496.0 337.3L497.5 334.8L499.0 332.1L500.5 329.5L502.0 326.9L503.5 324.2L505.0 321.6L506.5 319.0L508.0 316.4L509.5 313.8L511.0 311.3L512.5 308.8L514.0 306.2L515.5 303.7L517.0 301.1L518.5 298.6L520.0 296.1L521.5 293.6L523.0 291.1L524.5 288.7L526.0 286.2L527.5 283.8L529.0 281.3L530.5 278.8L532.0 276.4L533.5 274.0L535.0 271.6L536.5 269.4L538.0 267.3L539.5 265.2L541.0 263.1L542.5 261.1L544.0 259.1L545.5 257.2L547.0 255.4L548.5 253.7L550.0 251.9L551.5 250.0L553.0 248.2L554.5 246.5L556.0 244.8L557.5 243.4L559.0 242.2L560.5 241.3L562.0 240.5L563.5 239.6L565.0 238.9L566.5 238.1L568.0 237.5L569.5 237.0L571.0 236.6L572.5 236.4L574.0 236.4L575.5 236.4L577.0 236.4L578.5 236.5L580.0 236.5L581.5 236.5L583.0 236.6L584.5 236.6L586.0 236.7L587.5 236.7L589.0 236.8L590.5 237.0L592.0 237.1L593.5 237.2L595.0 237.4L596.5 237.5L598.0 237.6L599.5 237.6L601.0 237.6L602.5 237.7L604.0 237.7L605.5 237.7L607.0 237.7L608.5 237.7L610.0 237.7L611.5 237.7L613.0 237.7L614.5 237.7L616.0 237.7L617.5 237.7L619.0 237.8L620.5 237.8L622.0 237.8L623.5 237.9L625.0 238.0L626.5 238.1L628.0 238.2L629.5 238.4L631.0 238.6L632.5 238.9L634.0 239.3L635.5 239.5L637.0 239.8L638.5 240.2L640.0 242.1L641.5 245.0L643.0 248.4L644.5 253.3L646.0 258.8L647.5 263.5L649.0 267.0L650.5 270.2L652.0 273.0L653.5 275.2L655.0 276.6L656.5 277.9L658.0 279.0L659.5 280.0L661.0 280.8L662.5 281.4L664.0 281.8L665.5 282.0L667.0 282.2L668.5 282.3L670.0 282.4L671.5 282.5L673.0 282.6L674.5 282.6L676.0 282.7L677.5 282.7L679.0 282.7L680.5 282.5L682.0 282.1L683.5 281.5L685.0 280.9L686.5 280.1L688.0 279.3L689.5 278.4L691.0 277.1L692.5 275.5L694.0 273.6L695.5 271.6L697.0 269.6L698.5 267.8L700.0 265.9L701.5 263.9L703.0 262.1L704.5 260.5L706.0 259.2L707.5 258.0L709.0 257.0L710.5 256.0L712.0 255.1L713.5 254.2L715.0 253.2L716.5 252.2L718.0 251.2L719.5 250.2L721.0 249.3L722.5 248.4L724.0 247.6L725.5 246.8L727.0 246.2L728.5 245.6L730.0 245.0L731.5 244.5L733.0 244.0L734.5 243.5L736.0 243.1L737.5 242.8L739.0 242.5L740.5 242.2L742.0 242.0L743.5 241.8L745.0 241.6L746.5 241.4L748.0 241.3L749.5 241.1L751.0 241.1L752.5 241.0L754.0 241.0L755.5 241.1L757.0 241.3L758.5 241.5L760.0 241.8L761.5 242.1L763.0 242.4L764.5 242.6L766.0 242.9L767.5 243.1L769.0 243.3L770.5 243.6L772.0 243.8L773.5 244.0L775.0 244.2L776.5 244.3L778.0 244.3L779.5 244.1L781.0 243.8L782.5 243.5L784.0 243.1L785.5 242.6L787.0 242.2L788.5 241.8L790.0 241.3L791.5 240.9L793.0 240.4L794.5 240.0L796.0 239.6L797.5 239.2L799.0 238.8L800.5 238.3L802.0 237.8L803.5 237.2L805.0 236.5L806.5 235.8L808.0 234.9L809.5 234.0L811.0 233.1L812.5 232.1L814.0 231.1L815.5 230.1L817.0 229.1L818.5 228.1L820.0 227.1L821.5 226.0L823.0 224.9L824.5 223.8L826.0 222.7L827.5 221.7L829.0 220.7L830.5 219.7L832.0 218.7L833.5 217.7L835.0 216.8L836.5 215.9L838.0 215.0L839.5 214.1L841.0 213.2L842.5 212.4L844.0 211.6L845.5 210.9L847.0 210.2L848.5 209.5L850.0 208.8L851.5 208.2L853.0 207.6L854.5 206.9L856.0 206.3L857.5 205.7L859.0 204.9L860.5 204.2L862.0 203.5L863.5 202.7L865.0 202.1L866.5 201.5L868.0 201.0L869.5 200.8L871.0 200.6L872.5 200.5L874.0 200.4L875.5 200.3L877.0 200.2L878.5 200.1L880.0 200.1L881.5 200.0L883.0 200.0L884.5 200.1L886.0 200.5L887.5 201.1L889.0 201.8L890.5 202.5L892.0 203.0L893.5 203.3L895.0 203.3L896.5 203.1L898.0 202.9L899.5 202.6L901.0 201.6L902.5 200.0L904.0 198.5L905.5 197.6L907.0 196.9L908.5 196.4L910.0 195.8L911.5 195.4L913.0 195.0L914.5 194.6L916.0 194.2L917.5 193.8L919.0 193.4L920.5 192.9L922.0 192.5L923.5 192.2L925.0 192.0L926.5 192.1L928.0 193.2L929.5 195.1L931.0 197.0L932.5 198.5L934.0 200.0L935.5 201.5L937.0 203.0L938.5 204.5L940.0 206.0L941.5 207.5L943.0 209.1L944.5 210.6L946.0 212.2L947.5 213.7" stroke="#fbb21b" stroke-width="1.0" fill="none" stroke-linejoin="round"/>
</g>
<path d="M202 267.4H957.5" stroke="#3da35f" stroke-width="1" fill="none"/>
<path d="M953 76V585.6" stroke="#3c4552" stroke-width="1.5" fill="none"/><path d="M204.8 585.1H953.75" stroke="#3c4552" stroke-width="1.25" fill="none"/><path d="M953 92.3h4.5M953 121.3h4.5M953 150.3h4.5M953 179.2h4.5M953 208.2h4.5M953 237.2h4.5M953 295.1h4.5M953 324.1h4.5M953 353.1h4.5M953 382.1h4.5M953 411.0h4.5M953 440.0h4.5M953 469.0h4.5M953 498.0h4.5M953 527.0h4.5M953 555.9h4.5M205.4 585v4.8M317.6 585v4.8M435.4 585v4.8M550.6 585v4.8M665.2 585v4.8M780.4 585v4.8M895.6 585v4.8" stroke="#3c4552" stroke-width="1.3" fill="none"/>
<text x="963.2" y="96.9" class="yl" textLength="45" lengthAdjust="spacing">106,945</text><text x="963.2" y="125.9" class="yl" textLength="45" lengthAdjust="spacing">106,430</text><text x="963.2" y="154.9" class="yl" textLength="42.2" lengthAdjust="spacing">105,915</text><text x="963.2" y="183.8" class="yl" textLength="45" lengthAdjust="spacing">105,400</text><text x="963.2" y="212.8" class="yl" textLength="45.5" lengthAdjust="spacing">104,885</text><text x="963.2" y="241.8" class="yl" textLength="44.5" lengthAdjust="spacing">104,370</text><text x="963.2" y="299.7" class="yl" textLength="44.7" lengthAdjust="spacing">103,340</text><text x="963.2" y="328.7" class="yl" textLength="44.2" lengthAdjust="spacing">102,825</text><text x="963.2" y="357.7" class="yl" textLength="40.5" lengthAdjust="spacing">102,310</text><text x="963.2" y="386.7" class="yl" textLength="44.5" lengthAdjust="spacing">100,795</text><text x="963.2" y="415.6" class="yl" textLength="44.9" lengthAdjust="spacing">100,280</text><text x="963.2" y="444.6" class="yl" textLength="44.7" lengthAdjust="spacing">100,765</text><text x="963.2" y="473.6" class="yl" textLength="45.1" lengthAdjust="spacing">100,250</text><text x="963.2" y="502.6" class="yl" textLength="40" lengthAdjust="spacing">99,735</text><text x="963.2" y="531.6" class="yl" textLength="40" lengthAdjust="spacing">99,220</text><text x="963.2" y="560.5" class="yl" textLength="40.4" lengthAdjust="spacing">98,705</text><text x="205.6" y="609.7" class="xl" textLength="74.4" lengthAdjust="spacing">19 May 2022</text><text x="317.8" y="609.7" class="xl" textLength="74.9" lengthAdjust="spacing">26 May 8:00</text><text x="435.6" y="609.7" class="xl" textLength="67" lengthAdjust="spacing">2 Jun 16:00</text><text x="550.8" y="609.7" class="xl" textLength="76" lengthAdjust="spacing">10 Jun 00:00</text><text x="665.4" y="609.7" class="xl" textLength="74.7" lengthAdjust="spacing">17 Jun 08:00</text><text x="780.6" y="609.7" class="xl" textLength="75" lengthAdjust="spacing">24 Jun 16:00</text><text x="895.8" y="609.7" class="xl" textLength="66" lengthAdjust="spacing">4 Jul 00:00</text>
<rect x="959" y="257.2" width="57" height="18.8" rx="4.2" fill="#229a4b"/>
<text x="964" y="271.2" class="pl" textLength="46" lengthAdjust="spacing">103,864</text>
<path d="M467.3 517.3L392 508" stroke="#1d2733" stroke-width="1.6" fill="none"/>
<path d="M385.2 507L395.1 502.7L393.5 513Z" fill="#1d2733"/>
<text x="475.8" y="524.4" class="beli" textLength="35.6" lengthAdjust="spacing">Beli</text>
</svg>
</body></html>
